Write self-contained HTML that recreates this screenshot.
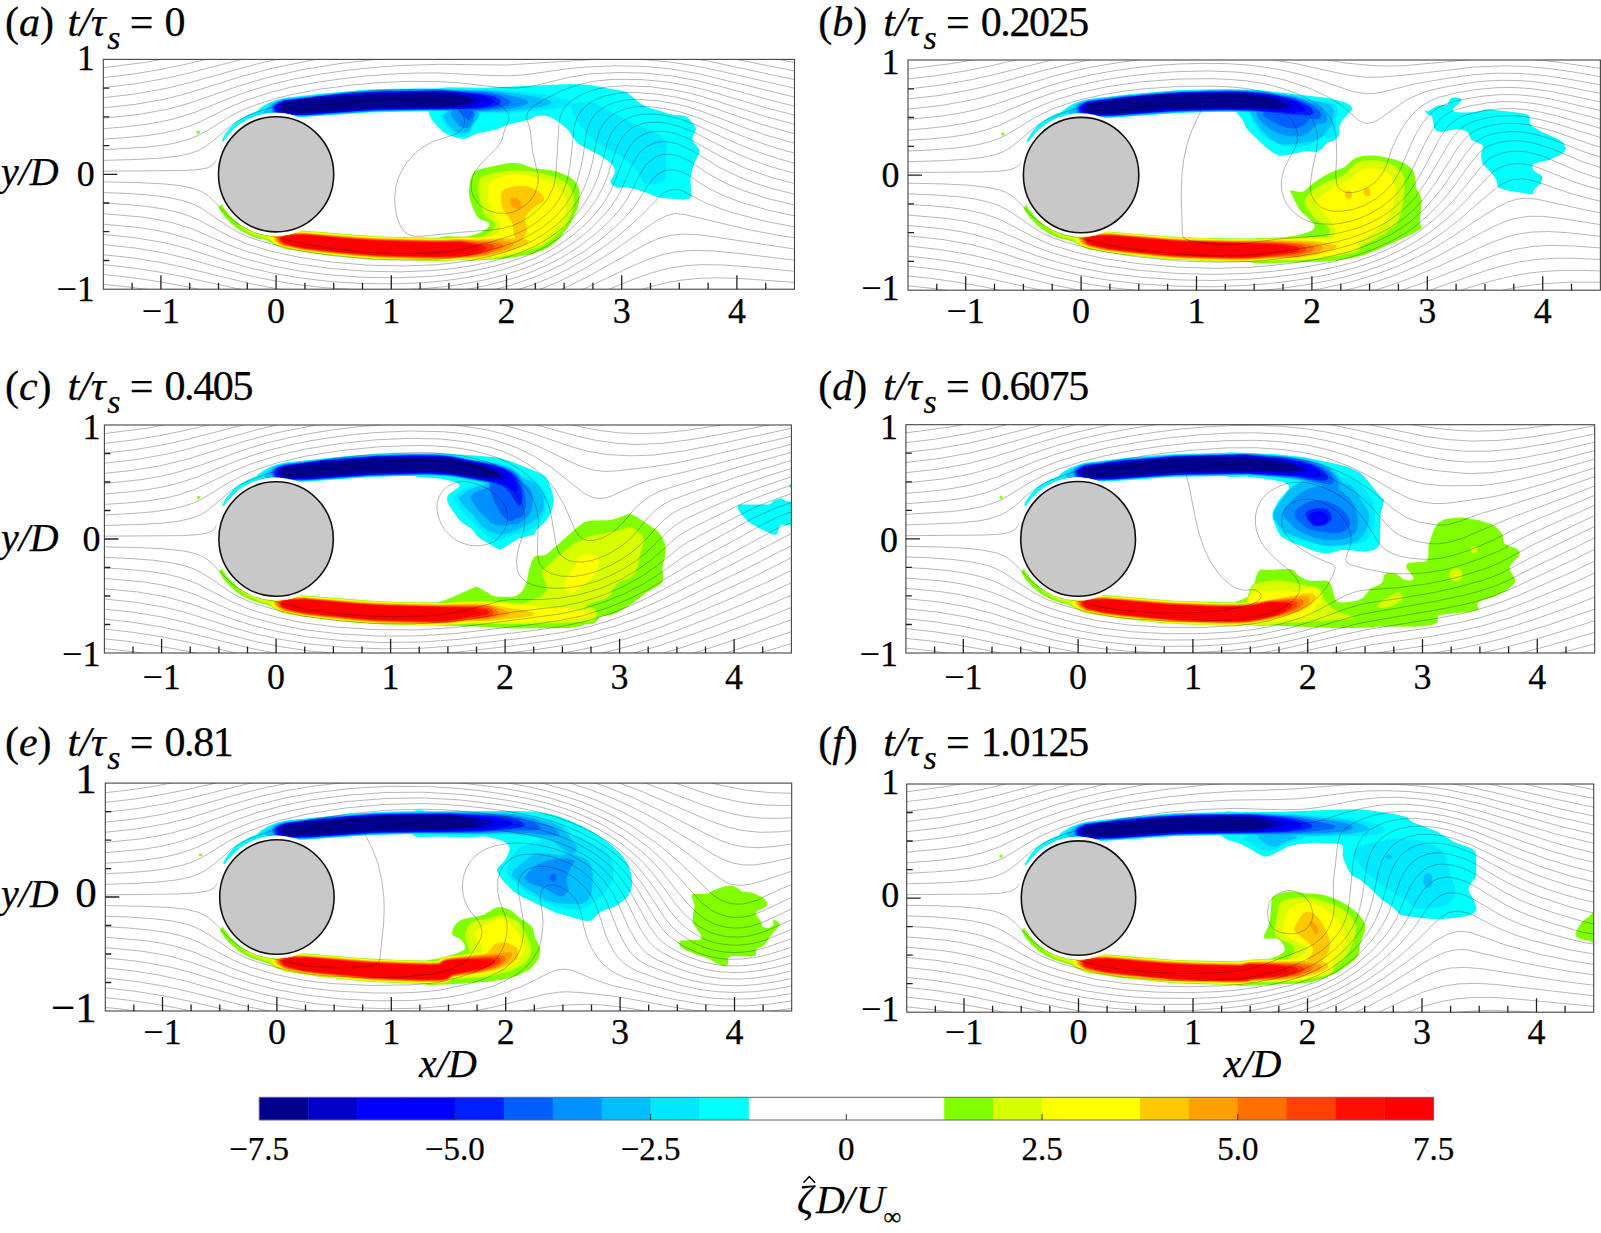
<!DOCTYPE html><html><head><meta charset="utf-8"><style>html,body{margin:0;padding:0;background:#fff;width:1601px;height:1233px;overflow:hidden}</style></head><body><svg width="1601" height="1233" viewBox="0 0 1601 1233" style="position:absolute;left:0;top:0" font-family='"Liberation Serif", serif'>
<style>text{stroke:#000;stroke-width:0.25px}</style>
<rect width="1601" height="1233" fill="#fff"/>
<clipPath id="clipa"><rect x="103.3" y="59.4" width="691.2" height="229.8"/></clipPath>
<g clip-path="url(#clipa)">
<path fill="#00ffff" fill-rule="evenodd" d="M682.3 199.4 661.3 197.9 655.4 196.4 645.3 192.2 635.3 189.1 627.3 187.6 617.3 187.8 614.3 186.5 611.3 183.9 610.4 181.4 614.7 173.4 614.7 169.4 613.4 166.4 610.3 162.6 601.3 156.1 582.9 146.4 577.3 142.8 575.1 140.4 568.6 130.4 560.3 123.1 550.3 117.1 543.3 115.5 536.3 116.1 528.3 119.9 510.3 124.0 496.3 129.4 477.3 133.2 468.3 137.7 464.3 138.8 459.7 138.4 454.3 136.9 446.3 133.8 442.4 131.4 432.3 120.3 430.3 116.9 428.3 111.3 368.6 112.4 300.3 117.2 294.3 116.1 293.3 115.2 291.3 115.2 290.3 114.2 286.3 114.2 285.3 113.2 267.3 112.9 266.3 113.9 262.3 113.9 261.3 114.8 258.3 114.8 257.3 115.8 255.3 115.8 252.3 117.7 250.3 117.8 247.3 119.7 246.3 119.8 241.3 123.7 240.3 123.7 237.3 126.6 236.3 126.7 227.5 135.4 227.4 136.4 223.3 141.6 222.3 141.4 222.2 139.4 224.3 135.4 229.3 128.4 235.3 122.4 239.6 119.4 248.3 114.4 256.3 111.4 262.2 106.4 267.5 103.4 276.3 99.9 285.3 97.8 321.3 93.7 368.3 89.6 393.3 88.7 437.3 88.5 449.3 87.2 484.3 87.7 571.3 84.1 590.3 85.0 624.8 91.4 628.6 93.4 640.3 103.6 646.3 106.8 668.3 113.6 673.3 114.7 683.7 115.4 687.3 117.2 691.5 121.4 695.3 126.5 696.0 128.4 695.5 131.4 693.1 135.4 692.2 139.4 692.9 141.4 698.7 148.4 699.6 150.4 699.6 152.4 694.2 163.4 691.0 174.4 690.3 181.4 691.6 196.4 689.3 198.7 682.3 199.4Z"/>
<path fill="#00e8ff" fill-rule="evenodd" d="M651.3 184.4 645.3 183.9 643.3 182.9 642.0 181.4 639.7 174.4 637.8 171.4 627.3 161.0 619.3 154.9 608.3 149.9 603.3 146.9 596.3 141.7 586.8 133.4 579.8 125.4 576.0 119.4 572.9 113.4 570.8 107.4 571.3 104.4 568.3 106.3 564.2 107.4 541.8 110.4 505.3 113.3 481.3 112.9 480.5 115.4 473.9 124.4 471.3 130.4 469.3 133.4 465.3 135.8 462.3 136.0 458.3 135.8 454.3 133.8 449.7 130.4 445.0 125.4 439.8 116.4 440.3 114.9 443.3 113.9 446.7 111.4 445.3 111.1 404.3 111.0 368.3 112.0 300.3 116.6 294.3 115.9 293.3 115.0 291.3 115.0 290.3 114.1 286.3 114.1 285.3 113.1 267.3 112.7 266.3 113.6 262.3 113.6 261.3 114.5 258.3 114.6 257.3 115.5 255.3 115.5 252.3 117.4 250.3 117.5 246.3 119.5 243.5 121.4 242.3 121.8 241.9 121.4 249.3 116.7 257.3 113.2 262.3 108.4 272.1 102.4 281.3 99.2 322.3 94.1 355.3 91.1 373.3 89.9 405.3 89.1 446.3 88.8 472.3 89.7 488.3 89.1 523.3 92.1 548.3 95.2 567.9 99.4 572.3 102.3 572.4 103.4 585.3 102.0 594.3 103.0 597.3 104.0 613.3 112.9 639.3 125.9 658.3 134.0 664.2 138.4 665.7 140.4 666.8 144.4 665.8 154.4 666.4 169.4 665.7 177.4 663.9 180.4 660.3 182.8 657.3 183.8 651.3 184.4ZM241.3 122.6 241.3 122.1 241.3 122.6Z"/>
<path fill="#00bfff" fill-rule="evenodd" d="M466.3 132.7 457.3 132.5 454.3 130.9 448.8 125.4 443.8 117.4 443.8 114.4 447.8 111.4 446.3 110.6 413.3 110.5 376.3 111.3 308.3 115.9 297.3 116.2 294.3 115.7 293.3 114.9 291.3 114.9 290.3 114.0 286.3 114.0 285.3 113.0 267.3 112.5 266.3 113.3 264.3 112.5 264.0 111.4 265.3 109.4 273.3 102.8 283.3 99.2 325.3 94.3 358.3 91.3 380.3 90.1 441.3 89.4 490.3 90.4 521.6 94.4 539.4 97.4 547.1 99.4 550.9 101.4 551.5 102.4 549.7 104.4 543.6 106.4 524.3 109.4 505.3 111.5 479.3 112.0 478.7 116.4 477.5 118.4 473.1 124.4 469.8 130.4 466.3 132.7Z"/>
<path fill="#0090ff" fill-rule="evenodd" d="M468.3 127.9 463.3 127.9 459.3 125.8 452.9 118.4 451.0 115.4 450.8 112.4 453.3 110.6 455.2 110.4 426.3 110.0 380.3 110.7 308.3 115.6 297.3 115.8 291.3 114.8 290.3 113.9 286.3 113.9 285.3 112.9 272.6 112.4 271.1 108.4 272.0 105.4 273.9 103.4 278.3 101.2 285.0 99.4 348.3 92.6 383.9 90.4 442.3 89.8 487.3 91.5 498.3 92.9 518.9 97.4 525.2 99.4 528.5 101.4 528.7 102.4 526.2 104.4 520.1 106.4 510.6 108.4 496.3 110.3 476.3 110.9 472.8 122.4 470.3 126.3 468.3 127.9Z"/>
<path fill="#0060ff" fill-rule="evenodd" d="M469.3 119.9 467.3 119.9 458.8 111.4 459.6 110.4 455.3 109.8 420.3 109.6 381.3 110.3 360.3 111.2 307.3 115.2 294.3 115.4 293.3 114.7 291.3 114.7 290.3 113.8 286.3 113.8 285.3 112.8 274.3 112.4 272.9 110.4 272.5 108.4 273.4 105.4 275.5 103.4 279.5 101.4 285.3 99.8 343.6 93.4 381.3 90.9 442.3 90.3 483.3 92.4 491.4 93.4 499.6 95.4 508.9 99.4 511.0 101.4 511.1 102.4 509.0 104.4 498.3 108.0 484.3 109.7 473.3 110.0 472.8 110.4 473.2 114.4 472.8 117.4 469.3 119.9Z"/>
<path fill="#0020ff" fill-rule="evenodd" d="M312.3 114.5 294.3 114.9 291.3 114.5 290.3 113.7 286.3 113.7 285.3 112.8 276.0 112.4 274.3 110.4 273.9 107.4 275.3 104.9 278.3 102.7 283.3 100.7 287.3 100.1 318.3 96.3 348.5 93.4 386.3 91.2 442.3 90.8 480.3 93.4 494.6 96.4 498.6 98.4 500.7 101.4 500.0 103.4 497.1 105.4 491.3 107.1 480.3 108.8 381.3 109.8 359.3 110.8 312.3 114.5Z"/>
<path fill="#0000ff" fill-rule="evenodd" d="M306.3 114.4 291.3 114.4 290.3 113.6 286.3 113.6 285.3 112.7 277.9 112.4 275.8 110.4 275.2 107.4 276.2 105.4 279.3 103.0 283.3 101.3 288.5 100.4 342.7 94.4 368.3 92.4 386.3 91.7 437.3 91.2 460.3 92.4 483.6 95.4 491.3 98.4 492.6 99.4 493.5 101.4 492.3 103.3 490.4 104.4 483.3 106.9 476.3 107.8 462.3 108.6 375.3 109.5 306.3 114.4Z"/>
<path fill="#0000ff" fill-rule="evenodd" d="M313.3 113.5 291.3 113.8 286.3 113.5 285.3 112.6 279.9 112.4 277.3 110.4 276.6 107.4 278.7 104.4 282.1 102.4 292.5 100.4 348.2 94.4 380.3 92.4 436.3 91.7 454.3 92.5 480.0 96.4 484.6 98.4 485.6 99.4 486.2 101.4 485.1 103.4 481.4 105.4 466.3 107.5 375.3 109.0 313.3 113.5Z"/>
<path fill="#0000c8" fill-rule="evenodd" d="M306.3 113.4 286.3 113.1 285.3 112.5 282.2 112.4 278.9 110.4 278.0 107.4 280.2 104.4 283.3 102.7 296.8 100.4 342.9 95.4 381.3 92.9 436.3 92.2 451.3 93.0 463.0 94.4 475.6 97.4 480.1 99.4 481.0 101.4 479.2 103.4 476.7 104.4 461.3 106.9 370.3 108.7 306.3 113.4Z"/>
<path fill="#00008c" fill-rule="evenodd" d="M313.3 112.4 304.3 112.9 284.3 112.2 280.7 110.4 279.5 107.4 280.7 105.4 284.3 103.2 305.3 99.8 349.3 95.4 381.3 93.5 432.3 92.8 448.0 93.4 457.3 94.5 466.4 96.4 470.9 98.4 473.5 100.4 473.6 101.4 468.3 104.5 456.3 106.3 375.3 107.9 313.3 112.4Z"/>
<path fill="#80ff00" fill-rule="evenodd" d="M199.3 133.6 198.3 134.0 197.0 133.4 196.5 132.4 197.3 130.8 198.3 130.4 199.9 131.4 200.1 132.4 199.3 133.6ZM480.3 260.5 458.3 260.3 447.3 261.1 431.3 261.1 369.3 259.1 318.3 254.0 285.3 248.9 279.3 247.0 266.3 240.0 258.1 238.4 252.1 236.4 240.2 230.4 232.3 224.4 225.3 217.4 220.3 210.4 219.3 208.5 219.3 206.4 221.2 204.4 222.3 204.4 223.4 207.4 228.5 213.4 228.5 214.4 235.3 221.1 236.3 221.2 240.3 225.1 241.3 225.1 243.3 227.0 244.3 227.1 253.3 232.0 258.3 233.0 259.3 234.0 262.3 234.0 263.3 234.9 267.3 235.0 268.3 235.9 283.3 235.6 284.3 234.6 289.3 234.6 290.3 233.6 293.3 233.6 294.3 232.7 296.3 232.7 299.3 230.9 302.3 230.6 377.6 236.4 437.3 237.8 446.3 236.2 464.3 236.7 471.3 235.6 480.3 232.7 487.0 228.4 488.8 226.4 489.5 224.4 488.3 222.3 480.6 219.4 476.9 216.4 473.3 209.6 469.9 199.4 469.0 195.4 468.8 190.4 470.3 180.4 472.3 174.8 474.3 172.0 476.4 170.4 482.3 168.4 503.3 164.1 510.3 163.0 516.3 163.0 521.3 164.1 534.3 168.6 550.3 169.9 558.3 172.0 568.3 176.2 572.3 178.8 575.3 181.8 578.3 186.9 579.6 192.4 579.3 200.2 577.5 208.4 573.3 218.1 568.3 226.9 561.3 236.3 555.3 242.4 549.3 247.0 544.3 249.8 530.3 254.6 513.3 257.6 480.3 260.5Z"/>
<path fill="#d8ff00" fill-rule="evenodd" d="M448.3 260.4 414.3 260.2 371.3 258.7 321.3 253.8 299.3 250.8 282.3 247.6 274.1 243.4 269.3 239.6 253.2 234.4 247.3 231.4 241.4 227.4 242.3 226.5 253.3 232.3 258.3 233.3 259.3 234.2 262.3 234.3 263.3 235.2 267.3 235.2 268.3 236.2 283.3 235.7 284.3 234.7 289.3 234.7 290.3 233.7 293.3 233.7 294.3 232.8 296.3 232.8 299.3 231.2 302.3 231.1 359.3 235.8 394.3 237.5 441.3 238.4 482.3 236.8 486.3 234.7 491.3 230.9 494.8 226.4 495.0 224.4 494.3 222.0 487.3 217.7 485.3 215.2 482.9 210.4 479.9 200.4 478.1 189.4 478.9 180.4 481.0 177.4 483.3 176.0 493.3 173.0 506.3 170.9 515.3 170.5 529.3 171.1 544.3 173.9 557.3 178.0 565.3 182.1 570.7 187.4 573.6 194.4 573.8 204.4 571.8 212.4 568.5 220.4 565.6 225.4 558.3 233.8 551.3 239.6 541.3 246.3 517.3 254.0 496.3 257.7 478.3 259.9 459.3 259.7 448.3 260.4ZM238.3 224.6 238.3 224.2 238.3 224.6ZM241.3 227.3 239.0 225.4 239.3 225.0 242.1 226.4 241.3 227.3Z"/>
<path fill="#ffff00" fill-rule="evenodd" d="M473.3 259.4 459.3 259.2 440.3 260.1 400.3 259.4 374.3 258.4 341.3 255.5 303.3 251.0 283.3 247.3 273.9 242.4 270.9 239.4 270.2 237.4 270.4 236.4 283.3 235.8 284.3 234.8 289.3 234.8 290.3 233.8 293.3 233.8 294.3 232.9 296.3 232.9 299.3 231.5 365.3 236.6 401.3 238.1 443.3 238.9 458.3 238.1 477.3 238.0 492.3 236.7 495.3 234.9 497.9 232.4 500.8 228.4 500.7 224.4 492.8 211.4 489.8 204.4 487.8 197.4 487.9 186.4 489.3 183.7 493.3 180.0 500.3 176.9 507.3 175.0 515.3 174.1 525.3 174.9 534.3 176.9 548.3 181.9 558.3 188.1 562.5 192.4 565.8 198.4 566.6 202.4 565.6 210.4 563.7 215.4 557.8 225.4 550.3 233.7 543.9 238.4 543.1 241.4 541.3 243.8 530.0 248.4 513.3 253.4 486.3 258.3 473.3 259.4ZM267.3 236.5 266.4 236.4 268.1 236.4 267.3 236.5Z"/>
<path fill="#ffff00" fill-rule="evenodd" d="M449.3 259.4 420.3 259.4 374.3 258.0 317.4 252.4 303.3 250.6 283.3 246.8 275.3 242.4 272.5 239.4 272.0 237.4 272.2 236.4 283.3 235.9 284.3 234.9 289.3 234.9 290.3 233.9 293.3 233.9 294.3 233.0 296.3 233.0 297.3 232.2 299.3 232.0 367.3 237.2 421.3 239.1 477.3 238.8 513.3 236.3 513.6 234.4 512.4 225.4 509.4 219.4 503.7 211.4 500.7 204.4 500.7 193.4 502.0 190.4 505.3 188.1 512.3 185.9 520.3 184.8 524.3 184.9 533.3 187.7 540.3 191.9 542.9 194.4 544.9 198.4 544.8 200.4 541.3 204.0 536.3 206.4 531.3 210.2 527.3 214.6 526.1 216.4 525.9 218.4 526.1 223.4 527.9 229.4 526.9 233.4 526.1 234.4 526.3 235.5 533.3 235.4 538.3 236.1 540.3 238.4 539.3 241.1 533.8 244.4 523.6 248.4 514.6 251.4 501.9 254.4 478.3 258.4 449.3 259.4Z"/>
<path fill="#ffc800" fill-rule="evenodd" d="M455.3 258.4 437.3 259.2 380.3 257.8 358.3 256.3 321.2 252.4 303.3 250.1 283.3 246.2 278.3 243.7 275.5 241.4 274.0 239.4 273.7 237.4 274.1 236.4 283.3 236.0 284.3 235.0 289.3 235.0 290.3 234.0 293.3 234.0 294.3 233.2 296.3 233.2 297.3 232.4 300.3 232.4 365.3 237.5 401.3 239.1 441.3 239.8 458.3 239.1 477.3 239.6 500.3 238.6 515.3 238.6 514.2 235.4 512.7 224.4 510.7 220.4 503.2 209.4 501.2 203.4 501.1 194.4 502.3 191.0 506.3 188.2 514.3 186.2 521.3 185.7 527.3 186.2 533.3 188.4 538.3 191.2 543.3 196.0 544.2 199.4 543.3 201.7 533.3 207.7 526.7 214.4 525.6 216.4 524.8 220.4 526.5 225.4 527.1 229.4 526.3 233.0 523.1 238.4 523.3 238.9 526.5 239.4 528.4 240.4 528.6 241.4 526.6 243.4 521.0 246.4 510.9 250.4 491.3 255.4 476.3 257.8 455.3 258.4Z"/>
<path fill="#ffa000" fill-rule="evenodd" d="M519.3 208.8 516.3 208.9 515.3 207.9 514.3 207.9 510.8 204.4 509.8 201.4 510.3 198.1 517.3 197.9 519.8 200.4 521.7 206.4 519.3 208.8ZM449.3 258.4 420.3 258.5 375.3 257.0 318.3 251.6 303.3 249.7 283.3 245.6 277.9 242.4 276.0 240.4 275.2 238.4 275.9 236.4 283.3 236.1 284.3 235.1 289.3 235.1 290.3 234.2 293.3 234.1 294.3 233.3 297.3 232.9 304.3 232.9 360.3 237.7 387.3 239.1 436.3 240.3 459.3 239.6 477.3 240.6 501.6 240.4 509.7 241.4 513.5 243.4 513.1 245.4 508.8 248.4 500.9 251.4 490.2 254.4 474.3 257.1 449.3 258.4Z"/>
<path fill="#ff7000" fill-rule="evenodd" d="M454.3 257.4 436.3 258.2 380.3 256.7 358.3 255.2 321.3 251.4 303.3 249.2 284.3 245.2 279.3 242.4 277.5 240.4 276.9 238.4 277.9 236.4 283.3 236.2 284.3 235.2 289.3 235.2 290.3 234.3 293.3 234.2 294.3 233.5 304.3 233.4 355.3 237.8 379.3 239.3 437.3 240.8 459.3 240.2 477.3 241.6 491.3 241.9 501.3 243.4 503.3 244.4 503.8 245.4 502.7 247.4 499.3 249.4 484.6 254.4 472.8 256.4 454.3 257.4Z"/>
<path fill="#ff4000" fill-rule="evenodd" d="M447.3 257.4 421.3 257.4 375.3 255.9 318.3 250.5 303.3 248.7 284.1 244.4 279.7 241.4 278.5 238.4 280.0 236.4 283.3 236.3 284.3 235.3 289.3 235.3 290.3 234.4 294.3 234.1 304.3 233.9 359.3 238.7 381.3 240.0 433.3 241.3 462.3 240.9 489.3 243.9 493.3 245.1 494.6 246.4 493.8 248.4 490.8 250.4 480.3 254.0 470.3 255.7 447.3 257.4Z"/>
<path fill="#ff1000" fill-rule="evenodd" d="M452.3 256.4 436.3 257.0 387.3 255.8 364.3 254.6 341.0 252.4 303.3 248.1 290.7 245.4 283.3 243.1 280.6 240.4 280.3 238.4 282.2 236.4 284.6 235.4 304.3 234.5 355.3 239.0 381.3 240.6 433.3 241.9 461.3 241.6 483.2 245.4 485.8 246.4 486.8 247.4 486.7 248.4 484.5 250.4 476.3 253.4 468.3 255.0 452.3 256.4Z"/>
<path fill="#ff0000" fill-rule="evenodd" d="M454.3 255.5 441.3 256.3 414.3 256.0 380.3 254.9 357.7 253.4 303.3 247.5 286.9 243.4 283.3 241.7 282.1 239.4 283.1 237.4 285.3 236.4 305.3 235.1 356.3 239.7 379.3 241.1 433.3 242.6 459.3 242.2 471.9 244.4 476.8 246.4 479.0 248.4 478.7 249.4 476.3 251.4 472.3 253.0 454.3 255.5Z"/>
<path fill="none" stroke="#000" stroke-opacity="0.36" stroke-width="0.8" d="M690.1 292.1 708.1 290.7 725.4 290.3 748.4 290.7 775.2 292.1M633.1 292.1 650.5 286.7 667.8 282.4 682.2 280.0 699.5 278.3 716.7 277.8 736.9 278.3 800.3 282.8M602.2 292.1 633.2 279.3 650.5 273.2 667.8 268.5 685.1 265.7 702.3 264.6 725.4 265.1 751.3 267.1 800.3 271.9M577.4 292.1 630.3 267.0 644.7 260.7 662.0 254.7 676.4 251.7 693.7 250.3 713.9 251.0 736.9 253.2 800.3 260.9M554.9 292.1 572.7 284.1 590.0 275.5 647.6 243.2 659.1 238.3 670.7 235.2 685.1 234.0 702.3 235.1 800.3 249.9M100.4 283.9 132.1 287.4 164.4 292.1M533.1 292.1 558.3 281.9 572.7 274.9 587.1 267.1 611.9 251.9 656.3 220.9 664.9 216.3 670.7 214.4 676.4 213.6 685.1 214.6 748.4 229.6 774.2 234.6 800.3 238.9M100.4 274.2 126.3 276.9 152.3 280.6 178.2 285.1 212.2 292.1M510.6 292.1 532.4 284.9 552.6 276.6 569.9 268.1 590.0 256.2 604.9 246.1 619.9 234.6 639.3 217.4 662.0 194.4 666.5 191.5 670.7 189.9 676.4 189.4 682.2 190.6 699.5 199.9 708.1 203.9 720.8 208.8 736.9 213.9 765.7 221.3 800.3 228.0M100.4 264.3 132.1 267.8 160.9 272.3 183.9 276.9 252.9 292.1M484.6 292.1 512.3 284.9 538.2 275.7 561.2 265.0 584.3 251.3 603.1 237.5 613.2 228.9 622.2 220.3 630.1 211.6 636.9 203.0 647.6 185.9 653.4 178.2 659.1 173.3 664.9 170.6 673.5 169.8 682.2 171.9 687.9 174.8 699.7 182.9 711.0 189.6 725.4 196.4 739.8 201.9 768.6 210.3 800.3 217.1M100.4 254.4 132.1 257.8 160.9 262.5 183.9 267.4 250.2 283.6 276.1 288.6 300.4 292.1M449.1 292.1 469.1 289.0 486.3 285.5 503.6 281.1 518.0 276.7 532.4 271.5 546.8 265.3 561.2 257.8 572.7 250.8 583.7 243.2 594.7 234.6 604.4 226.0 612.9 217.4 620.2 208.8 626.4 200.2 631.3 191.5 639.0 175.9 644.7 166.6 648.0 162.8 653.4 158.3 656.3 156.7 662.0 154.7 670.7 154.3 676.4 155.4 682.2 157.3 690.8 161.9 705.2 171.7 716.7 178.6 728.3 184.4 742.7 190.4 768.6 198.8 800.3 206.3M100.4 244.3 135.0 248.0 163.8 252.9 186.8 258.4 230.0 270.6 250.2 275.8 273.2 280.6 296.3 284.4 325.1 287.7 356.7 289.7 388.4 290.1 420.1 288.9 443.1 286.8 463.3 284.0 483.5 280.1 500.7 275.9 518.0 270.6 532.4 265.3 546.8 258.7 561.2 250.7 572.6 243.2 583.8 234.6 593.6 226.0 604.6 214.5 611.5 205.9 617.2 197.3 620.3 191.5 633.2 162.8 638.6 154.2 641.9 150.5 647.6 145.9 656.3 142.4 662.0 141.7 667.8 141.9 673.5 142.8 679.3 144.5 693.3 151.3 719.6 167.5 739.8 177.2 754.2 182.9 768.6 187.6 800.3 195.7M100.4 234.1 135.0 237.7 163.8 242.6 186.8 248.4 230.0 262.3 250.2 268.0 273.2 273.3 299.1 277.8 330.8 281.6 362.5 283.5 394.2 283.9 425.9 282.5 446.0 280.6 466.2 277.7 486.3 273.7 503.6 269.3 520.9 263.8 535.3 258.0 549.7 250.8 561.9 243.2 573.6 234.6 583.5 226.0 592.0 217.4 599.3 208.8 605.4 200.2 610.4 191.5 615.4 180.0 624.6 156.1 630.3 145.7 635.5 139.8 639.0 137.1 644.7 133.9 650.5 132.1 656.3 131.3 664.9 131.5 673.5 133.1 679.3 134.9 690.8 139.8 722.5 157.5 745.5 168.3 771.5 177.5 800.3 185.2M100.4 223.9 137.9 227.4 155.1 230.1 169.5 233.2 189.7 239.0 230.0 253.8 247.3 259.5 273.2 266.0 299.1 271.0 330.8 275.0 365.4 277.4 397.1 277.8 428.7 276.5 448.9 274.6 469.1 271.6 489.2 267.5 506.5 262.8 520.9 258.1 535.3 252.0 546.8 246.0 560.0 237.5 570.8 228.9 582.5 217.4 589.7 208.8 597.6 197.3 602.3 188.7 607.2 177.2 616.4 148.4 619.0 142.7 622.6 137.0 627.5 131.5 631.6 128.3 636.1 125.9 641.9 123.8 650.5 122.3 659.1 122.2 667.8 123.4 679.3 126.4 691.7 131.2 728.3 149.7 748.4 158.6 771.5 166.9 800.3 174.8M100.4 213.5 140.7 216.9 158.0 219.6 172.4 222.7 192.6 229.1 230.0 245.3 247.3 251.7 273.2 258.8 299.1 264.1 330.8 268.5 365.4 271.2 399.9 271.9 431.6 270.6 451.8 268.7 471.9 265.6 489.2 262.0 506.5 257.3 522.2 251.9 535.0 246.1 546.8 239.4 557.8 231.8 567.9 223.1 576.0 214.5 582.8 205.9 590.0 194.4 594.3 185.8 597.9 177.2 601.5 165.7 607.2 142.7 609.5 137.0 612.6 131.2 617.3 125.5 621.7 121.7 627.5 118.4 633.2 116.2 641.9 114.4 653.4 114.0 664.9 115.4 679.3 118.8 693.7 123.8 734.0 142.3 754.2 150.6 777.2 158.4 800.3 164.7M100.4 203.0 126.3 204.5 146.5 206.4 163.8 209.0 178.2 212.4 189.7 216.2 198.3 219.9 230.0 236.6 247.3 244.1 270.3 250.9 299.1 257.3 330.8 262.0 368.3 265.2 402.8 266.0 434.5 264.8 451.8 263.2 471.9 260.2 489.2 256.5 505.7 251.9 520.9 246.4 532.4 241.0 543.9 234.2 555.1 226.0 564.4 217.4 571.9 208.8 577.8 200.2 582.4 191.5 586.1 182.9 590.1 171.4 593.0 159.9 596.6 139.8 599.4 131.2 602.3 125.5 606.7 119.7 610.2 116.5 615.9 112.7 624.6 109.0 636.1 106.7 647.6 106.5 662.0 108.1 679.3 111.6 699.5 118.3 739.8 135.1 757.1 141.7 777.2 148.4 800.3 154.7M100.4 192.4 129.2 193.6 152.3 195.3 169.5 197.6 183.9 200.9 192.6 203.9 201.2 208.1 230.0 227.6 238.7 232.5 247.3 236.6 261.7 241.4 284.7 247.4 299.1 250.6 330.8 255.5 368.3 259.1 402.8 260.2 437.4 259.1 452.6 257.6 470.6 254.7 483.5 251.9 503.7 246.1 518.0 240.9 529.5 235.3 541.1 228.2 551.4 220.3 558.3 213.6 564.8 205.9 570.3 197.3 574.5 188.7 577.5 180.0 580.6 168.6 583.0 157.1 586.1 134.1 587.5 128.3 590.0 122.1 593.2 116.9 598.7 111.0 607.3 105.4 614.5 102.5 627.5 99.7 639.0 99.3 659.1 101.0 676.4 104.0 687.9 106.9 701.0 111.1 745.5 128.0 765.7 135.1 800.3 144.9M100.4 181.8 137.9 182.6 163.8 183.9 181.1 185.8 194.3 188.7 201.2 191.3 207.0 194.8 212.7 199.8 229.6 217.4 235.8 222.2 247.0 228.9 258.8 233.7 273.2 236.5 300.9 243.2 335.7 249.0 368.3 252.4 402.8 253.7 434.5 252.9 446.5 251.9 464.0 249.0 486.5 243.2 506.5 237.3 518.0 233.1 526.7 228.8 538.2 221.2 546.3 214.5 552.6 208.1 558.6 200.2 561.9 194.4 565.5 185.8 567.9 177.2 570.4 162.8 574.1 128.3 575.4 122.6 577.5 116.9 581.0 111.1 587.1 104.9 595.6 99.6 604.4 96.1 618.8 93.0 633.2 92.4 656.3 94.0 676.4 97.2 699.5 103.1 762.8 124.8 800.3 135.3M100.4 171.2 183.9 170.5 198.3 169.6 207.0 168.0 211.9 165.7 214.9 162.8 224.8 145.6 229.5 139.8 231.0 137.0 236.4 131.2 241.5 126.9 244.4 126.0 247.3 124.0 250.2 123.1 258.8 118.5 270.3 117.4 276.1 115.2 281.9 115.6 287.6 114.8 296.3 113.0 312.7 108.2 326.8 105.4 346.1 102.5 362.5 100.8 382.7 99.4 408.6 99.0 431.3 99.6 443.1 101.4 447.9 102.5 454.6 105.4 458.2 108.2 460.7 111.1 463.3 115.9 464.5 119.7 464.7 122.6 463.3 127.3 460.4 131.0 457.5 133.1 451.8 135.6 437.9 139.8 430.8 142.7 421.0 148.4 414.1 154.2 406.6 162.8 401.3 171.4 397.7 180.0 395.6 188.7 394.7 197.3 395.3 208.8 397.1 217.4 400.4 226.0 404.5 231.8 408.6 234.7 414.3 236.2 423.0 236.1 463.3 232.0 492.1 230.0 503.6 228.1 512.3 225.7 520.9 222.1 528.7 217.4 536.1 211.6 543.9 203.6 548.5 197.3 552.6 189.0 554.5 182.9 555.9 174.3 559.1 122.6 560.1 116.9 562.4 111.1 566.4 105.4 572.9 99.6 582.8 93.9 592.9 90.1 607.3 86.9 624.6 85.7 650.5 86.8 673.5 89.8 687.9 92.8 702.3 96.5 765.7 116.6 800.3 125.9M100.4 160.5 137.9 159.4 160.9 158.1 178.2 156.1 189.7 153.6 198.3 150.5 204.1 147.4 212.7 141.1 231.0 125.5 238.7 120.4 245.5 116.9 255.9 112.4 278.1 105.4 302.0 99.6 339.5 93.9 376.9 90.3 420.1 89.2 437.4 89.7 452.9 91.0 469.4 93.9 480.4 96.7 488.6 99.6 500.0 105.4 504.0 108.2 506.7 111.1 508.3 114.0 509.0 116.9 508.8 119.7 504.2 131.2 502.0 139.8 500.5 142.7 496.2 148.4 480.6 164.2 475.0 171.4 472.4 177.2 471.0 185.8 471.6 191.5 473.7 197.3 477.6 203.0 480.6 205.9 486.3 209.6 492.1 211.9 497.9 213.2 506.5 213.4 512.3 212.3 518.0 210.0 526.7 204.0 530.5 200.2 534.5 194.4 537.6 185.8 538.4 180.0 538.1 174.3 533.0 154.2 530.0 128.3 527.0 119.7 526.6 116.9 527.1 114.0 528.7 111.1 531.3 108.2 534.8 105.4 543.9 99.6 561.1 91.0 575.6 85.5 592.9 81.4 613.1 79.3 641.9 79.6 667.8 82.1 685.1 85.1 702.3 89.1 768.6 108.5 800.3 116.6M100.4 149.9 149.4 146.9 166.7 144.7 178.2 142.3 189.7 138.9 198.3 135.4 207.0 130.7 229.3 116.9 241.5 110.6 255.9 104.8 273.2 99.2 293.4 94.1 319.3 89.3 351.0 85.1 379.8 82.6 411.5 81.3 440.3 81.6 460.4 83.0 497.9 87.3 515.1 88.0 523.8 87.4 532.4 86.1 569.9 77.2 590.0 73.9 618.8 72.5 644.7 73.1 670.7 75.8 696.6 80.5 719.6 86.2 774.3 101.2 800.3 107.5M100.4 139.4 126.3 137.6 146.5 135.6 163.8 132.9 178.2 129.6 189.7 126.0 198.3 122.5 230.0 107.1 247.3 99.9 270.3 92.4 290.5 87.3 313.5 82.9 339.5 79.0 365.4 76.0 391.3 74.1 414.3 73.1 437.4 72.9 492.1 75.6 509.4 75.8 526.7 74.6 567.0 68.8 584.3 67.1 615.9 65.8 644.7 66.4 670.7 68.9 698.7 73.8 800.3 98.5M100.4 128.9 123.5 127.0 143.6 124.7 160.9 121.8 175.3 118.5 195.5 112.1 230.0 98.0 249.2 91.0 270.3 84.7 293.4 79.1 319.3 74.3 345.2 70.5 371.1 67.7 399.9 65.5 440.3 64.3 506.5 65.0 595.8 59.4 621.7 59.0 644.7 59.7 670.7 62.1 699.5 66.7 722.5 71.6 800.3 89.6M100.4 118.5 137.9 114.6 166.7 109.4 189.7 103.1 238.7 86.0 267.5 77.5 302.0 69.7 339.5 63.6 376.9 59.2 417.2 56.5 446.0 55.7 509.4 55.6 563.7 53.7M655.4 53.7 679.3 56.3 705.2 60.5 800.3 80.9M100.4 108.2 135.0 104.4 163.8 99.3 186.8 93.5 241.5 76.5 273.2 68.0 313.5 59.9 356.2 53.7M708.2 53.7 800.3 72.2M100.4 98.0 135.0 94.0 166.7 88.3 189.7 82.6 255.9 64.2 279.0 58.8 304.8 53.7M748.7 53.7 800.3 63.6M100.4 88.0 135.0 83.8 166.7 78.2 189.7 72.9 238.7 60.2 265.8 53.7M792.5 53.7 800.3 55.0M100.4 78.0 132.1 74.2 160.9 69.4 186.8 64.0 230.3 53.7M100.4 68.1 146.5 62.2 191.4 53.7M100.4 58.4 138.6 53.7"/>
<circle cx="276.1" cy="174.3" r="61.6" fill="#fff"/>
<circle cx="276.1" cy="174.3" r="57.6" fill="#c8c8c8" stroke="#111" stroke-width="1.6"/>
</g>
<rect x="103.3" y="59.4" width="691.2" height="229.8" fill="none" stroke="#444" stroke-width="1.1"/>
<path d="M132.1 289.2V282.7M160.9 289.2V275.2M189.7 289.2V282.7M218.5 289.2V282.7M247.3 289.2V282.7M276.1 289.2V275.2M304.9 289.2V282.7M333.7 289.2V282.7M362.5 289.2V282.7M391.3 289.2V275.2M420.1 289.2V282.7M448.9 289.2V282.7M477.7 289.2V282.7M506.5 289.2V275.2M535.3 289.2V282.7M564.1 289.2V282.7M592.9 289.2V282.7M621.7 289.2V275.2M650.5 289.2V282.7M679.3 289.2V282.7M708.1 289.2V282.7M736.9 289.2V275.2M765.7 289.2V282.7M103.3 260.5H109.3M103.3 231.7H109.3M103.3 203.0H109.3M103.3 174.3H117.3M103.3 145.6H109.3M103.3 116.8H109.3M103.3 88.1H109.3" stroke="#222" stroke-width="1.3" fill="none"/>
<text x="160.9" y="323.2" font-size="36" text-anchor="middle">−1</text>
<text x="276.1" y="323.2" font-size="36" text-anchor="middle">0</text>
<text x="391.3" y="323.2" font-size="36" text-anchor="middle">1</text>
<text x="506.5" y="323.2" font-size="36" text-anchor="middle">2</text>
<text x="621.7" y="323.2" font-size="36" text-anchor="middle">3</text>
<text x="736.9" y="323.2" font-size="36" text-anchor="middle">4</text>
<text x="94.8" y="69.9" font-size="36" text-anchor="end">1</text>
<text x="94.8" y="185.5" font-size="36" text-anchor="end">0</text>
<text x="94.8" y="300.7" font-size="36" text-anchor="end">−1</text>
<text x="1" y="185.0" font-size="40" font-style="italic">y/D</text>
<text x="4.9" y="36.2" font-size="42">(<tspan font-style="italic">a</tspan>)</text>
<text x="67.5" y="36.2" font-size="42" font-style="italic">t/τ</text>
<text x="107.2" y="49.2" font-size="34" font-style="italic">s</text>
<text x="129.7" y="36.2" font-size="42">=</text>
<text x="164.5" y="36.2" font-size="42" letter-spacing="-1.4">0</text>
<clipPath id="clipb"><rect x="908.0" y="60.0" width="692.4" height="230.2"/></clipPath>
<g clip-path="url(#clipb)">
<path fill="#00ffff" fill-rule="evenodd" d="M1288.0 155.1 1282.0 155.6 1278.0 155.2 1273.4 153.0 1265.4 147.0 1248.0 130.3 1246.0 127.5 1243.3 121.0 1241.2 118.0 1236.0 112.0 1235.0 111.9 1210.0 112.0 1178.0 113.0 1116.0 117.6 1105.0 117.9 1099.0 116.7 1098.0 115.8 1096.0 115.8 1095.0 114.8 1090.0 114.8 1089.0 113.8 1073.0 113.5 1072.0 114.5 1067.0 114.5 1066.0 115.4 1064.0 115.4 1063.0 116.4 1058.0 117.4 1049.0 122.3 1048.0 122.4 1040.0 129.2 1039.0 129.3 1035.2 133.0 1035.2 134.0 1031.2 138.0 1031.1 139.0 1028.0 142.3 1027.2 142.0 1026.9 141.0 1027.0 140.0 1032.0 132.0 1038.0 125.0 1047.9 118.0 1055.9 114.0 1061.0 112.2 1066.1 108.0 1073.0 103.9 1079.0 101.5 1087.0 99.2 1127.0 94.4 1176.0 90.3 1211.0 89.2 1248.0 89.4 1263.0 90.5 1328.0 97.9 1343.0 101.8 1348.0 103.8 1351.1 106.0 1352.2 108.0 1352.0 109.7 1342.7 120.0 1339.6 125.0 1339.1 127.0 1339.0 135.0 1338.0 137.0 1335.1 140.0 1331.0 141.9 1328.0 142.1 1321.7 149.0 1317.0 152.0 1306.0 151.1 1288.0 155.1ZM1533.0 194.5 1506.0 190.2 1499.2 188.0 1497.6 186.0 1496.2 180.0 1495.2 178.0 1490.6 172.0 1482.7 164.0 1481.7 161.0 1481.0 155.0 1481.3 152.0 1483.3 147.0 1482.3 145.0 1471.9 140.0 1470.8 139.0 1468.4 133.0 1465.0 130.8 1461.0 129.6 1456.0 129.2 1441.1 132.0 1436.7 131.0 1434.0 128.0 1433.2 121.0 1432.0 117.0 1431.0 115.8 1427.3 114.0 1424.5 111.0 1425.0 110.6 1428.0 111.2 1437.0 105.7 1447.0 104.4 1448.4 103.0 1450.0 98.8 1452.0 97.7 1456.0 97.2 1461.0 98.8 1461.7 100.0 1459.0 103.5 1453.6 108.0 1452.7 110.0 1453.2 111.0 1455.0 111.9 1461.0 112.4 1472.0 112.3 1479.0 111.3 1485.0 109.6 1490.0 109.4 1521.2 113.0 1528.6 115.0 1529.8 117.0 1529.6 123.0 1532.0 125.9 1541.0 131.4 1559.0 139.5 1564.0 143.8 1565.7 148.0 1565.5 150.0 1564.3 152.0 1558.3 156.0 1549.0 160.0 1536.0 163.0 1532.6 165.0 1532.1 167.0 1533.4 170.0 1536.0 172.3 1541.0 175.0 1542.0 176.0 1542.5 178.0 1541.0 182.9 1533.8 190.0 1533.3 192.0 1533.7 194.0 1533.0 194.5Z"/>
<path fill="#00e8ff" fill-rule="evenodd" d="M1299.0 147.1 1291.0 147.3 1285.0 146.4 1276.0 143.3 1267.0 138.4 1263.0 135.5 1257.6 130.0 1252.9 122.0 1249.4 113.0 1248.1 112.0 1218.0 111.5 1178.0 112.6 1105.0 117.4 1099.0 116.5 1098.0 115.6 1096.0 115.6 1095.0 114.7 1090.0 114.7 1089.0 113.7 1073.0 113.3 1072.0 114.3 1067.0 114.2 1066.0 115.1 1064.0 115.2 1063.0 116.1 1058.0 117.1 1049.0 121.7 1048.3 121.0 1054.9 117.0 1063.0 113.5 1067.6 109.0 1077.5 103.0 1088.0 99.6 1130.0 94.7 1179.0 90.7 1231.0 89.5 1260.0 90.8 1298.0 95.8 1314.0 100.2 1320.0 100.6 1329.0 102.6 1334.0 104.6 1337.0 106.7 1338.2 110.0 1337.4 114.0 1335.7 118.0 1336.2 126.0 1334.8 129.0 1334.9 133.0 1333.0 136.0 1329.0 137.6 1327.0 137.4 1324.0 135.9 1312.0 144.2 1305.0 146.3 1299.0 147.1ZM1048.0 122.0 1047.0 122.0 1048.0 121.4 1048.6 122.0 1048.0 122.0ZM1046.0 123.3 1046.0 122.8 1046.6 123.0 1046.0 123.3Z"/>
<path fill="#00bfff" fill-rule="evenodd" d="M1293.0 144.3 1282.0 144.5 1276.0 142.4 1270.0 138.5 1259.6 128.0 1254.6 121.0 1250.5 113.0 1249.0 111.6 1225.0 111.0 1186.0 111.9 1112.0 116.8 1102.0 117.0 1101.0 116.4 1099.0 116.4 1098.0 115.5 1096.0 115.5 1095.0 114.6 1090.0 114.6 1089.0 113.6 1073.0 113.1 1072.0 114.0 1070.6 114.0 1069.0 113.0 1069.0 112.0 1070.5 110.0 1075.0 106.8 1077.6 104.0 1082.0 101.8 1089.0 99.9 1126.0 95.5 1163.0 92.1 1211.0 90.2 1247.0 90.4 1273.7 93.0 1294.1 96.0 1313.0 101.3 1324.0 102.6 1329.0 104.5 1332.0 107.2 1333.5 109.0 1334.4 112.0 1332.9 118.0 1332.0 125.0 1330.0 128.0 1328.0 129.0 1326.3 132.0 1322.9 136.0 1318.0 139.4 1312.0 141.5 1293.0 144.3Z"/>
<path fill="#0090ff" fill-rule="evenodd" d="M1298.0 136.2 1291.0 136.5 1284.0 135.3 1283.0 134.6 1278.0 133.4 1272.0 130.5 1264.0 124.4 1260.6 121.0 1256.6 115.0 1257.0 111.9 1231.0 110.6 1193.0 111.2 1165.0 112.5 1112.0 116.4 1102.0 116.6 1096.0 115.4 1095.0 114.5 1090.0 114.5 1089.0 113.5 1077.5 113.0 1076.4 111.0 1076.3 108.0 1077.1 106.0 1079.2 104.0 1083.3 102.0 1089.0 100.4 1125.3 96.0 1158.0 92.9 1185.0 91.3 1225.0 90.4 1248.0 90.8 1266.0 92.5 1293.0 96.7 1305.0 100.1 1317.0 105.2 1321.0 108.0 1324.8 112.0 1327.2 117.0 1327.1 120.0 1326.0 122.0 1323.0 123.5 1317.0 123.7 1311.0 130.5 1307.0 133.5 1303.0 135.3 1298.0 136.2Z"/>
<path fill="#0060ff" fill-rule="evenodd" d="M1297.0 128.5 1290.0 128.4 1280.0 125.5 1265.0 117.4 1262.5 115.0 1262.5 114.0 1263.8 113.0 1263.2 112.0 1256.0 111.3 1231.0 110.2 1193.0 110.8 1164.0 112.1 1112.0 116.0 1102.0 116.2 1099.0 116.1 1098.0 115.3 1096.0 115.3 1095.0 114.4 1090.0 114.4 1089.0 113.4 1079.1 113.0 1077.9 111.0 1077.5 109.0 1078.6 106.0 1080.8 104.0 1088.0 101.0 1129.4 96.0 1163.0 93.0 1192.0 91.5 1231.0 90.8 1256.9 92.0 1272.1 94.0 1295.0 98.2 1310.1 104.0 1315.2 107.0 1318.6 110.0 1321.0 114.0 1321.1 116.0 1320.0 118.0 1317.0 119.2 1310.0 118.8 1306.0 123.3 1302.0 126.3 1297.0 128.5Z"/>
<path fill="#0020ff" fill-rule="evenodd" d="M1311.0 115.1 1306.0 115.4 1291.0 114.3 1251.0 110.3 1225.0 109.7 1175.0 111.0 1112.0 115.6 1099.0 115.7 1096.0 115.2 1095.0 114.3 1090.0 114.3 1089.0 113.4 1080.8 113.0 1079.2 111.0 1078.8 109.0 1079.3 107.0 1080.9 105.0 1088.0 101.6 1124.0 97.0 1180.0 92.4 1218.0 91.4 1242.0 91.5 1268.0 94.0 1289.5 98.0 1296.0 99.8 1306.9 105.0 1312.0 108.8 1313.5 111.0 1313.7 113.0 1313.0 114.1 1311.0 115.1Z"/>
<path fill="#0000ff" fill-rule="evenodd" d="M1114.0 115.1 1096.0 115.0 1095.0 114.2 1090.0 114.2 1089.0 113.3 1082.5 113.0 1080.7 111.0 1080.3 108.0 1082.4 105.0 1088.7 102.0 1126.0 97.3 1177.0 93.0 1231.0 91.8 1243.2 92.0 1258.0 93.2 1270.0 95.0 1288.7 99.0 1294.9 101.0 1298.7 103.0 1303.7 107.0 1305.1 110.0 1304.4 111.0 1302.0 111.8 1293.0 112.9 1246.0 109.6 1201.0 109.6 1170.0 110.8 1114.0 115.1Z"/>
<path fill="#0000ff" fill-rule="evenodd" d="M1121.0 114.0 1107.0 114.8 1090.0 114.1 1089.0 113.2 1084.5 113.0 1083.0 112.0 1081.7 110.0 1081.7 108.0 1083.9 105.0 1089.0 102.6 1123.4 98.0 1174.0 93.7 1225.0 92.3 1248.0 92.8 1271.1 96.0 1290.5 101.0 1295.9 104.0 1297.9 107.0 1297.3 109.0 1295.9 110.0 1290.0 111.2 1276.0 111.0 1247.0 109.1 1212.0 108.9 1170.0 110.3 1121.0 114.0Z"/>
<path fill="#0000c8" fill-rule="evenodd" d="M1115.0 114.0 1090.0 113.9 1089.0 113.1 1086.7 113.0 1084.8 112.0 1083.2 110.0 1083.1 108.0 1085.5 105.0 1089.0 103.3 1111.0 99.9 1169.0 94.5 1218.0 92.9 1242.2 93.0 1262.0 95.1 1275.5 98.0 1285.2 101.0 1289.9 103.0 1292.8 106.0 1292.7 107.0 1291.0 108.5 1285.0 109.6 1274.0 109.9 1236.0 108.3 1205.0 108.5 1170.0 109.8 1115.0 114.0Z"/>
<path fill="#00008c" fill-rule="evenodd" d="M1120.0 113.1 1111.0 113.7 1090.0 113.1 1085.5 111.0 1084.8 110.0 1084.6 108.0 1085.9 106.0 1089.2 104.0 1110.0 100.6 1124.1 99.0 1170.2 95.0 1218.0 93.4 1243.0 93.6 1262.0 95.9 1277.6 100.0 1283.9 103.0 1286.2 105.0 1286.2 106.0 1284.8 107.0 1275.0 108.6 1231.0 107.6 1198.0 108.1 1165.0 109.5 1120.0 113.1Z"/>
<path fill="#80ff00" fill-rule="evenodd" d="M1004.0 135.3 1002.0 135.5 1001.0 134.0 1001.5 133.0 1003.0 132.3 1004.0 132.8 1004.6 134.0 1004.0 135.3ZM1276.0 263.1 1260.0 263.5 1254.0 263.0 1250.0 261.9 1213.0 261.5 1170.0 259.6 1122.0 254.6 1089.0 249.5 1082.0 246.6 1073.0 241.5 1058.9 238.0 1048.0 233.0 1038.0 226.0 1030.0 218.0 1025.0 211.0 1024.0 208.0 1025.0 206.0 1027.0 205.0 1028.1 208.0 1033.2 214.0 1033.2 215.0 1041.0 222.7 1042.0 222.7 1045.0 225.7 1046.0 225.7 1051.0 229.6 1052.0 229.6 1055.0 231.6 1057.0 231.6 1060.0 233.6 1062.0 233.6 1063.0 234.6 1066.0 234.6 1067.0 235.5 1070.0 235.6 1071.0 236.5 1091.0 236.2 1092.0 235.2 1096.0 235.2 1097.0 234.2 1099.0 234.2 1100.0 233.3 1102.0 233.3 1103.0 232.4 1108.0 231.4 1162.5 236.0 1202.9 238.0 1247.0 238.6 1284.0 237.2 1296.0 235.4 1307.0 232.5 1312.0 230.4 1314.0 228.6 1314.7 227.0 1314.5 225.0 1313.4 223.0 1302.0 212.5 1299.0 209.0 1290.8 193.0 1290.0 189.9 1300.0 192.2 1304.0 191.3 1314.0 182.5 1324.0 175.9 1331.6 172.0 1344.0 167.5 1353.0 159.4 1355.6 158.0 1363.0 156.0 1369.0 155.5 1378.0 155.8 1396.0 159.7 1403.0 162.5 1407.0 164.9 1410.8 168.0 1413.3 171.0 1415.0 175.7 1415.9 187.0 1421.0 197.0 1421.7 200.0 1419.7 223.0 1421.9 227.0 1421.8 228.0 1419.5 230.0 1407.0 236.4 1374.8 251.0 1364.1 255.0 1356.0 257.2 1340.0 260.1 1327.0 261.5 1276.0 263.1Z"/>
<path fill="#d8ff00" fill-rule="evenodd" d="M1260.0 261.1 1225.0 261.2 1175.0 259.4 1151.0 257.3 1108.0 252.2 1087.0 248.2 1080.4 245.0 1073.0 239.8 1063.0 237.1 1055.4 234.0 1044.7 227.0 1045.0 226.4 1046.0 226.7 1051.0 229.9 1052.0 230.0 1055.0 231.9 1057.0 232.0 1060.0 233.9 1062.0 233.9 1063.0 234.8 1066.0 234.9 1067.0 235.8 1070.0 235.9 1071.0 236.8 1091.0 236.3 1092.0 235.3 1096.0 235.3 1097.0 234.3 1099.0 234.3 1100.0 233.4 1102.0 233.4 1103.0 232.5 1106.0 231.9 1175.0 237.3 1226.0 239.0 1255.0 239.1 1327.0 236.8 1329.3 234.0 1329.4 228.0 1327.0 225.8 1320.0 222.5 1315.0 218.4 1310.5 213.0 1305.7 205.0 1304.7 201.0 1305.6 198.0 1310.0 192.8 1318.0 186.7 1325.0 182.5 1337.0 178.4 1344.0 175.2 1356.0 163.6 1360.0 161.6 1364.0 160.6 1378.0 160.5 1387.0 162.6 1397.0 167.5 1402.5 173.0 1404.4 179.0 1404.4 192.0 1401.3 212.0 1398.3 221.0 1395.0 225.4 1386.0 232.4 1373.0 240.3 1361.0 246.0 1359.7 249.0 1357.0 251.5 1350.0 253.6 1337.0 256.1 1315.0 259.2 1298.0 260.5 1279.0 260.3 1260.0 261.1ZM1044.0 226.4 1043.6 226.0 1044.0 225.6 1044.7 226.0 1044.0 226.4Z"/>
<path fill="#ffff00" fill-rule="evenodd" d="M1269.0 260.0 1242.0 260.9 1191.0 259.7 1164.0 258.1 1126.0 254.1 1108.0 251.7 1088.0 248.1 1081.7 245.0 1077.5 242.0 1075.8 240.0 1075.4 237.0 1091.0 236.4 1092.0 235.4 1096.0 235.4 1097.0 234.4 1099.0 234.4 1100.0 233.5 1106.0 232.3 1170.0 237.4 1212.0 239.1 1251.0 239.7 1333.0 238.4 1335.5 233.0 1335.2 228.0 1331.5 222.0 1324.2 213.0 1317.5 206.0 1316.5 203.0 1317.5 200.0 1323.0 194.5 1327.0 191.5 1335.0 186.7 1347.0 181.5 1359.0 171.5 1362.0 169.8 1367.0 168.5 1376.0 168.5 1381.0 169.5 1388.0 172.8 1391.2 176.0 1394.5 183.0 1395.4 192.0 1393.4 204.0 1389.4 215.0 1385.5 221.0 1374.0 232.4 1366.0 237.4 1357.5 241.0 1358.4 244.0 1358.2 246.0 1356.0 249.0 1343.1 253.0 1315.1 258.0 1297.0 259.7 1279.0 259.5 1269.0 260.0Z"/>
<path fill="#ffff00" fill-rule="evenodd" d="M1367.0 197.2 1365.0 196.6 1363.3 194.0 1363.3 190.0 1366.0 187.3 1369.0 187.5 1370.5 189.0 1371.4 192.0 1370.6 195.0 1369.0 196.7 1367.0 197.2ZM1349.0 200.5 1346.0 199.4 1344.3 196.0 1344.4 193.0 1345.4 191.0 1348.0 189.3 1349.0 189.4 1351.3 191.0 1352.6 194.0 1352.6 196.0 1351.7 198.0 1349.0 200.5ZM1260.0 260.0 1231.0 260.4 1180.0 258.8 1157.5 257.0 1121.0 253.0 1108.0 251.3 1088.0 247.5 1080.0 243.0 1077.4 240.0 1077.0 238.0 1077.3 237.0 1091.0 236.5 1092.0 235.5 1096.0 235.5 1097.0 234.5 1099.0 234.5 1100.0 233.7 1102.0 233.7 1103.0 232.9 1110.0 232.8 1165.0 237.5 1199.0 239.2 1247.0 240.2 1282.0 239.6 1321.0 239.9 1345.0 241.5 1349.9 243.0 1351.3 245.0 1351.0 246.0 1349.0 247.7 1343.8 250.0 1317.0 256.4 1297.0 258.9 1278.0 258.9 1260.0 260.0Z"/>
<path fill="#ffc800" fill-rule="evenodd" d="M1369.0 196.0 1366.0 196.3 1363.8 194.0 1363.8 190.0 1366.0 187.8 1368.5 188.0 1370.2 190.0 1370.2 194.0 1369.0 196.0ZM1350.0 199.2 1347.0 199.3 1344.8 196.0 1345.0 193.1 1346.0 191.4 1348.0 190.0 1351.0 191.6 1352.0 194.6 1351.2 198.0 1350.0 199.2ZM1243.0 260.0 1205.0 259.3 1174.9 258.0 1152.2 256.0 1108.8 251.0 1088.0 247.0 1082.6 244.0 1080.3 242.0 1078.9 240.0 1078.7 238.0 1079.2 237.0 1091.0 236.5 1092.0 235.6 1096.0 235.6 1097.0 234.7 1099.0 234.7 1100.0 233.8 1103.0 233.2 1110.0 233.3 1161.0 237.7 1192.0 239.4 1232.0 240.5 1283.0 240.3 1312.0 241.1 1321.0 242.0 1332.6 244.0 1335.5 245.0 1336.7 246.0 1336.5 247.0 1333.8 249.0 1323.0 253.0 1315.7 255.0 1304.5 257.0 1295.9 258.0 1278.0 258.2 1243.0 260.0Z"/>
<path fill="#ffa000" fill-rule="evenodd" d="M1257.0 259.0 1231.0 259.4 1183.6 258.0 1163.0 256.5 1128.7 253.0 1108.0 250.4 1088.0 246.3 1082.7 243.0 1080.9 241.0 1080.2 239.0 1081.1 237.0 1091.0 236.6 1092.0 235.7 1096.0 235.7 1097.0 234.8 1099.0 234.8 1100.0 233.9 1110.0 233.7 1163.0 238.3 1186.0 239.7 1225.0 240.8 1274.0 241.0 1298.0 241.7 1316.0 243.6 1320.4 245.0 1322.6 247.0 1322.8 248.0 1321.4 250.0 1318.0 252.0 1312.0 254.0 1302.7 256.0 1295.4 257.0 1278.0 257.4 1257.0 259.0Z"/>
<path fill="#ff7000" fill-rule="evenodd" d="M1263.0 258.0 1242.0 259.0 1211.0 258.4 1179.0 257.2 1152.3 255.0 1109.0 250.1 1093.2 247.0 1088.0 245.6 1085.3 244.0 1082.4 241.0 1081.9 239.0 1083.1 237.0 1091.0 236.7 1092.0 235.8 1096.0 235.8 1097.0 234.9 1100.0 234.3 1110.0 234.2 1160.0 238.6 1186.0 240.2 1225.0 241.4 1273.0 241.8 1297.0 242.9 1310.1 245.0 1312.8 246.0 1314.8 248.0 1313.9 250.0 1310.5 252.0 1298.0 255.5 1263.0 258.0Z"/>
<path fill="#ff4000" fill-rule="evenodd" d="M1253.0 258.0 1231.0 258.3 1185.0 257.0 1163.0 255.5 1129.0 252.0 1108.0 249.4 1091.9 246.0 1088.0 244.7 1085.5 243.0 1083.9 241.0 1083.6 239.0 1085.2 237.0 1091.0 236.8 1092.0 235.9 1096.0 235.9 1097.0 235.0 1110.0 234.7 1181.0 240.5 1284.0 243.2 1299.8 245.0 1305.5 247.0 1306.8 249.0 1306.4 250.0 1303.3 252.0 1297.0 254.1 1253.0 258.0Z"/>
<path fill="#ff1000" fill-rule="evenodd" d="M1257.0 257.1 1242.0 257.8 1204.0 257.1 1177.9 256.0 1153.7 254.0 1108.0 248.8 1089.0 244.2 1086.1 242.0 1085.3 240.0 1086.0 238.2 1087.5 237.0 1091.0 236.9 1092.0 236.0 1110.0 235.3 1175.0 240.8 1273.0 243.7 1285.0 244.6 1296.0 246.5 1298.0 247.3 1299.5 249.0 1299.3 250.0 1297.0 251.8 1291.6 253.0 1257.0 257.1Z"/>
<path fill="#ff0000" fill-rule="evenodd" d="M1246.0 257.0 1218.0 256.8 1180.0 255.5 1131.1 251.0 1109.0 248.4 1098.1 246.0 1089.0 243.0 1087.8 242.0 1087.1 240.0 1088.3 238.0 1090.0 237.2 1110.0 235.9 1175.0 241.5 1269.0 244.5 1285.0 246.6 1288.8 248.0 1289.8 249.0 1289.6 250.0 1288.0 251.0 1284.4 252.0 1264.0 255.5 1246.0 257.0Z"/>
<path fill="none" stroke="#000" stroke-opacity="0.36" stroke-width="0.8" d="M1489.5 293.1 1516.7 287.2 1542.7 283.7 1571.5 282.1 1606.2 282.3M1451.6 293.1 1476.3 285.3 1496.5 279.7 1513.8 275.7 1528.3 273.2 1545.6 271.3 1562.9 270.4 1583.1 270.4 1606.2 271.1M1421.4 293.1 1485.0 270.9 1502.3 265.8 1519.6 261.9 1536.9 259.4 1557.1 258.2 1577.3 258.4 1606.2 259.8M905.1 285.4 936.8 288.9 965.6 293.1M1393.4 293.1 1426.5 281.6 1487.9 257.4 1502.3 252.7 1516.7 249.0 1534.0 246.3 1551.4 245.3 1574.4 246.0 1606.2 248.4M905.1 275.6 931.1 278.4 957.0 282.1 983.0 286.7 1013.9 293.1M1364.8 293.1 1386.9 286.5 1410.0 278.3 1436.8 267.2 1490.8 242.7 1505.2 237.5 1516.7 234.3 1531.2 232.1 1548.5 231.5 1568.7 232.8 1606.2 237.0M905.1 265.8 936.8 269.3 965.7 273.8 988.8 278.5 1054.0 293.1M1333.0 293.1 1352.3 288.6 1369.6 283.8 1386.9 278.2 1404.2 271.6 1418.6 265.3 1436.0 257.0 1490.8 227.8 1502.3 222.6 1513.8 218.8 1528.3 216.3 1542.7 216.4 1560.0 218.3 1606.2 225.5M905.1 255.8 936.8 259.3 965.7 263.9 991.7 269.6 1055.1 285.3 1075.3 289.3 1098.3 293.1M1294.1 293.1 1323.4 288.2 1349.4 282.3 1375.4 274.6 1398.4 265.9 1418.6 256.5 1435.7 247.0 1454.1 235.5 1482.1 216.5 1496.5 207.7 1508.1 202.0 1516.7 199.2 1525.4 198.1 1536.9 199.2 1583.1 209.4 1606.2 213.9M905.1 245.7 939.7 249.5 968.6 254.4 991.7 259.8 1052.2 276.7 1089.8 284.4 1112.8 287.8 1135.9 290.3 1161.9 292.2 1187.7 293.1M1213.6 293.1 1236.9 292.3 1260.0 290.6 1283.0 288.2 1306.1 284.8 1326.3 281.1 1346.5 276.5 1363.8 271.6 1381.1 265.6 1395.6 259.6 1407.1 254.2 1418.6 248.1 1430.2 241.1 1442.6 232.7 1457.7 221.1 1487.9 194.9 1499.4 185.7 1505.2 182.3 1513.8 179.5 1522.5 178.8 1531.2 180.0 1571.5 193.7 1588.9 198.5 1606.2 202.5M905.1 235.5 942.6 239.5 971.5 244.6 994.5 250.7 1034.9 263.7 1055.1 269.5 1081.1 275.5 1107.1 280.0 1141.7 284.0 1176.3 286.2 1210.9 286.8 1245.5 285.5 1268.6 283.6 1288.8 281.2 1309.0 278.2 1329.2 274.4 1346.5 270.2 1363.8 265.1 1378.3 260.0 1392.7 253.9 1404.2 248.2 1416.5 241.3 1425.4 235.5 1437.1 226.9 1447.5 218.3 1459.9 206.8 1492.4 172.2 1499.4 167.7 1508.1 164.7 1513.8 163.8 1519.6 163.6 1531.2 165.3 1539.8 168.2 1574.4 182.0 1588.9 186.6 1606.2 191.2M905.1 225.2 942.6 228.8 959.9 231.5 974.4 234.6 994.5 240.3 1036.4 255.7 1055.1 261.7 1081.1 268.1 1107.1 273.0 1141.7 277.3 1179.2 279.9 1213.8 280.5 1248.4 279.3 1271.5 277.3 1294.6 274.5 1314.8 271.2 1335.0 267.1 1352.3 262.6 1366.7 257.9 1381.1 252.3 1395.6 245.7 1407.1 239.4 1415.8 233.9 1432.3 221.1 1444.8 209.6 1455.7 198.1 1485.0 162.3 1490.5 157.8 1493.7 156.1 1502.3 152.9 1508.1 151.8 1516.7 151.2 1525.4 151.8 1534.0 153.5 1545.6 157.4 1577.3 171.0 1591.7 176.0 1606.2 180.2M905.1 214.8 945.5 218.3 962.8 220.9 977.2 224.0 997.4 230.4 1036.2 247.0 1052.2 253.0 1078.2 260.2 1104.2 265.6 1138.8 270.3 1176.3 273.4 1213.8 274.4 1248.4 273.3 1268.6 271.7 1291.7 269.0 1311.9 265.9 1332.1 261.9 1349.4 257.5 1363.8 252.9 1378.7 247.0 1392.7 240.4 1404.2 233.9 1412.9 228.1 1427.9 215.4 1439.4 203.9 1449.3 192.4 1472.6 160.7 1479.2 153.0 1483.5 149.2 1487.9 146.4 1496.5 143.1 1505.2 141.3 1513.8 140.7 1522.5 141.1 1534.0 143.1 1551.4 148.5 1583.1 162.0 1606.2 169.4M905.1 204.3 931.1 205.8 951.3 207.7 968.6 210.3 983.0 213.6 994.5 217.4 1003.2 221.1 1036.3 238.4 1052.2 245.2 1077.9 252.8 1104.2 258.6 1138.8 263.7 1179.2 267.2 1216.7 268.3 1251.3 267.2 1271.5 265.5 1297.5 262.4 1317.7 259.1 1335.0 255.4 1349.4 251.6 1363.8 246.7 1378.3 240.8 1392.7 233.5 1401.3 228.2 1410.0 222.0 1423.7 209.6 1434.1 198.1 1443.2 186.6 1464.7 155.0 1470.6 147.5 1474.4 143.4 1479.2 139.5 1485.0 136.5 1489.8 134.8 1499.4 132.6 1511.0 131.6 1522.5 132.1 1534.0 134.0 1551.4 139.0 1583.1 151.5 1606.2 159.0M905.1 193.7 934.0 194.9 957.0 196.6 974.4 198.9 988.8 202.2 997.4 205.1 1006.1 209.3 1014.7 214.6 1034.9 228.6 1043.6 233.5 1052.2 237.6 1066.7 242.5 1089.8 248.6 1104.2 251.8 1138.8 257.0 1179.2 260.9 1216.7 262.2 1251.3 261.4 1271.5 259.6 1297.5 256.4 1317.7 253.0 1335.0 249.2 1349.4 245.3 1363.8 240.3 1378.3 234.0 1389.8 227.9 1404.2 218.1 1410.8 212.5 1418.6 204.7 1426.5 195.2 1435.0 183.7 1456.1 150.3 1463.3 140.6 1467.7 135.9 1472.7 131.9 1476.3 129.9 1482.1 127.7 1493.7 124.8 1505.2 123.4 1516.7 123.4 1528.3 124.8 1551.4 130.5 1588.9 143.6 1606.2 149.0M905.1 183.1 942.6 183.9 968.6 185.2 988.8 187.5 1000.3 190.2 1006.1 192.5 1011.9 195.9 1017.6 200.8 1034.4 218.3 1040.7 223.1 1051.9 229.8 1063.8 234.7 1078.2 237.6 1104.1 244.2 1119.3 247.0 1138.8 249.9 1176.3 253.9 1213.8 255.8 1245.5 255.3 1268.6 253.1 1293.2 249.9 1310.6 247.0 1335.0 242.1 1349.2 238.4 1360.9 234.4 1372.5 229.6 1384.0 223.6 1392.7 218.1 1401.3 211.4 1409.4 203.9 1415.8 196.6 1428.7 178.0 1450.4 141.0 1457.3 131.9 1464.8 125.5 1470.6 122.5 1476.3 120.5 1487.9 117.6 1499.4 116.1 1513.8 115.7 1525.4 116.7 1539.8 119.5 1554.2 123.2 1606.2 139.3M905.1 172.5 983.0 171.9 1000.3 171.1 1009.0 169.9 1014.7 168.0 1017.6 166.2 1020.0 163.6 1029.8 146.3 1034.5 140.6 1035.9 137.7 1037.8 135.4 1044.5 129.1 1046.5 127.6 1049.4 126.7 1052.2 124.7 1055.1 123.8 1058.0 121.9 1060.9 121.1 1063.8 119.2 1075.3 118.2 1081.1 116.0 1086.9 116.6 1092.6 116.1 1107.1 113.6 1127.5 108.9 1150.2 106.0 1173.4 105.2 1191.8 106.0 1200.9 108.9 1200.5 111.8 1193.6 126.2 1189.0 137.7 1185.8 149.2 1183.6 160.7 1181.9 175.1 1181.2 192.4 1182.4 235.5 1184.0 238.4 1191.3 241.3 1213.4 244.2 1239.8 244.2 1277.3 239.2 1317.7 236.1 1337.9 233.3 1349.4 230.5 1360.4 226.9 1369.6 223.1 1379.0 218.3 1388.0 212.5 1395.6 206.6 1404.2 198.1 1410.0 191.1 1420.2 175.1 1440.2 137.7 1447.5 127.0 1451.1 123.3 1456.1 119.6 1461.9 116.5 1467.0 114.7 1482.1 111.0 1496.5 109.0 1511.0 108.6 1525.4 109.5 1539.8 111.9 1554.2 115.2 1606.2 129.9M905.1 161.8 942.6 160.7 965.7 159.3 983.0 157.3 994.5 154.8 1003.2 151.7 1011.9 146.7 1036.1 126.2 1043.6 121.3 1049.4 118.2 1063.8 112.3 1084.9 106.0 1098.4 102.8 1131.2 97.4 1153.2 95.1 1170.5 93.9 1190.7 93.3 1210.9 93.5 1230.0 94.5 1242.7 96.0 1251.1 97.4 1262.1 100.3 1274.4 105.4 1280.2 108.9 1283.9 111.8 1291.8 120.4 1295.1 126.2 1297.1 131.9 1297.6 134.8 1297.4 140.6 1294.6 149.2 1286.5 163.6 1284.1 169.3 1282.4 175.1 1281.4 180.9 1281.3 186.6 1282.1 192.4 1283.8 198.1 1286.7 203.9 1291.1 209.6 1297.5 215.4 1303.2 219.1 1309.0 221.6 1317.7 223.7 1332.1 224.3 1340.7 223.3 1349.4 221.5 1358.1 218.8 1366.6 215.4 1381.1 207.3 1392.6 198.1 1401.3 188.3 1408.1 178.0 1426.2 140.6 1436.0 124.0 1439.0 120.4 1444.6 115.4 1450.4 111.9 1456.1 109.5 1470.6 105.8 1487.9 102.8 1502.3 101.6 1519.6 101.9 1534.0 103.5 1551.4 106.7 1606.2 120.8M905.1 151.2 934.0 149.8 957.0 147.9 974.4 145.4 988.8 142.1 997.4 139.1 1006.1 135.1 1034.8 117.6 1052.2 109.1 1063.8 104.9 1081.1 99.6 1104.2 94.4 1121.5 91.6 1141.7 89.0 1179.2 86.3 1216.7 86.2 1234.0 87.2 1248.4 88.8 1268.6 92.9 1285.9 98.8 1294.6 103.0 1299.4 106.0 1303.2 109.0 1309.0 114.7 1312.9 120.4 1315.4 126.2 1316.9 131.9 1317.6 137.7 1316.9 149.2 1312.4 169.3 1310.6 180.9 1310.4 189.5 1311.5 195.2 1314.6 201.0 1317.1 203.9 1320.5 206.8 1323.4 208.4 1326.3 209.7 1332.1 211.0 1340.7 211.3 1352.3 209.5 1360.8 206.8 1366.7 204.2 1377.1 198.1 1386.9 189.8 1392.7 183.1 1398.4 173.9 1411.3 143.4 1417.1 131.9 1422.4 123.3 1427.3 117.0 1433.1 111.3 1438.8 107.4 1447.5 103.4 1459.0 100.2 1482.1 96.2 1499.4 94.7 1516.7 94.7 1534.0 96.3 1551.4 99.1 1606.2 111.9M905.1 140.6 931.1 138.9 951.3 136.9 968.6 134.2 983.0 130.9 1000.3 125.0 1034.9 108.3 1054.6 100.3 1081.1 92.3 1107.1 86.7 1141.7 81.8 1179.2 79.0 1213.8 78.7 1231.1 79.5 1245.5 80.8 1260.0 83.0 1271.5 85.4 1283.0 88.6 1294.6 92.7 1303.2 96.4 1311.9 101.0 1319.5 106.0 1325.8 111.8 1330.1 117.6 1333.0 123.3 1335.9 134.8 1336.8 155.0 1335.7 175.1 1336.8 183.7 1338.0 186.6 1340.4 189.5 1343.6 191.5 1346.5 192.5 1352.3 192.7 1360.9 190.7 1366.7 188.2 1372.5 184.3 1378.3 178.9 1383.2 172.2 1386.1 166.5 1391.7 149.2 1396.8 137.7 1401.6 129.1 1407.4 120.4 1414.9 111.8 1421.7 106.0 1430.2 100.8 1438.3 97.4 1456.1 92.9 1476.3 89.5 1496.5 87.7 1513.8 87.5 1531.2 88.7 1551.4 91.5 1606.2 103.1M905.1 130.2 928.2 128.3 948.4 126.0 965.7 123.1 980.1 119.9 1000.3 113.4 1034.9 99.3 1049.4 94.0 1069.6 87.7 1089.8 82.8 1109.9 78.9 1133.0 75.5 1156.1 73.1 1176.3 71.7 1208.0 70.9 1236.9 72.1 1262.9 75.2 1285.9 80.3 1309.0 88.1 1329.1 97.4 1342.6 106.0 1358.1 120.0 1363.8 122.9 1366.7 123.4 1372.5 122.6 1378.3 119.8 1404.2 101.5 1411.5 97.4 1421.5 93.1 1430.2 90.3 1444.6 87.1 1473.5 82.3 1487.9 80.9 1502.3 80.3 1516.7 80.5 1531.2 81.4 1560.0 85.4 1606.2 94.5M905.1 119.8 942.6 115.9 959.9 113.1 974.4 110.1 997.4 103.6 1052.2 84.8 1072.4 79.2 1092.6 74.6 1112.8 71.0 1135.9 67.7 1159.0 65.3 1179.2 64.0 1205.2 63.3 1228.2 63.7 1248.4 65.1 1268.6 67.7 1283.0 70.3 1300.0 74.4 1319.2 80.1 1349.4 90.4 1358.1 92.7 1366.7 93.7 1372.5 93.6 1381.1 92.4 1415.8 83.7 1447.5 78.2 1473.5 74.7 1496.5 73.2 1519.6 73.4 1542.7 75.3 1568.7 79.1 1606.2 86.0M905.1 109.5 942.6 105.3 974.4 99.4 997.4 93.3 1055.1 75.7 1075.3 70.6 1095.5 66.4 1115.7 63.0 1138.8 59.9 1161.9 57.6 1185.0 56.1 1205.2 55.6 1225.3 55.8 1245.5 56.8 1262.9 58.4 1294.6 63.4 1346.5 74.8 1358.1 76.5 1366.7 77.2 1381.1 77.1 1407.1 74.9 1473.5 67.1 1505.2 65.8 1525.4 66.4 1548.5 68.5 1571.5 71.7 1606.2 77.6M905.1 99.3 939.7 95.4 968.6 90.3 991.7 84.9 1040.7 71.2 1066.7 64.7 1095.5 58.7 1123.8 54.2M1294.1 54.2 1346.5 63.1 1372.5 65.6 1389.8 66.1 1404.2 65.7 1470.6 59.6 1490.8 58.6 1508.1 58.5 1528.3 59.2 1551.4 61.3 1606.2 69.2M905.1 89.3 939.7 85.2 971.5 79.7 994.5 74.5 1049.4 60.6 1078.3 54.2M1556.8 54.2 1606.2 60.9M1352.8 54.2 1372.5 56.1 1392.7 56.7 1412.9 56.0 1437.9 54.2M905.1 79.3 936.8 75.6 965.7 70.9 994.5 65.0 1040.6 54.2M905.1 69.4 951.3 63.6 974.4 59.7 1001.3 54.2M905.1 59.7 949.4 54.2"/>
<circle cx="1081.1" cy="175.1" r="61.7" fill="#fff"/>
<circle cx="1081.1" cy="175.1" r="57.7" fill="#c8c8c8" stroke="#111" stroke-width="1.6"/>
</g>
<rect x="908.0" y="60.0" width="692.4" height="230.2" fill="none" stroke="#444" stroke-width="1.1"/>
<path d="M936.8 290.2V283.7M965.7 290.2V276.2M994.5 290.2V283.7M1023.4 290.2V283.7M1052.2 290.2V283.7M1081.1 290.2V276.2M1109.9 290.2V283.7M1138.8 290.2V283.7M1167.6 290.2V283.7M1196.5 290.2V276.2M1225.3 290.2V283.7M1254.2 290.2V283.7M1283.0 290.2V283.7M1311.9 290.2V276.2M1340.8 290.2V283.7M1369.6 290.2V283.7M1398.4 290.2V283.7M1427.3 290.2V276.2M1456.1 290.2V283.7M1485.0 290.2V283.7M1513.8 290.2V283.7M1542.7 290.2V276.2M1571.5 290.2V283.7M908.0 261.4H914.0M908.0 232.6H914.0M908.0 203.9H914.0M908.0 175.1H922.0M908.0 146.3H914.0M908.0 117.5H914.0M908.0 88.8H914.0" stroke="#222" stroke-width="1.3" fill="none"/>
<text x="965.7" y="323.0" font-size="36" text-anchor="middle">−1</text>
<text x="1081.1" y="323.0" font-size="36" text-anchor="middle">0</text>
<text x="1196.5" y="323.0" font-size="36" text-anchor="middle">1</text>
<text x="1311.9" y="323.0" font-size="36" text-anchor="middle">2</text>
<text x="1427.3" y="323.0" font-size="36" text-anchor="middle">3</text>
<text x="1542.7" y="323.0" font-size="36" text-anchor="middle">4</text>
<text x="899.5" y="73.9" font-size="36" text-anchor="end">1</text>
<text x="899.5" y="186.9" font-size="36" text-anchor="end">0</text>
<text x="899.5" y="299.8" font-size="36" text-anchor="end">−1</text>
<text x="818.2" y="36.2" font-size="42">(<tspan font-style="italic">b</tspan>)</text>
<text x="883.3" y="36.2" font-size="42" font-style="italic">t/τ</text>
<text x="923.4" y="49.2" font-size="34" font-style="italic">s</text>
<text x="946.0" y="36.2" font-size="42">=</text>
<text x="980.7" y="36.2" font-size="42" letter-spacing="-1.4">0.2025</text>
<clipPath id="clipc"><rect x="104.4" y="425.0" width="687.0" height="228.0"/></clipPath>
<g clip-path="url(#clipc)">
<path fill="#00ffff" fill-rule="evenodd" d="M500.4 549.1 498.4 549.1 496.4 548.2 479.5 538.0 476.4 535.2 472.4 529.4 461.4 522.0 458.4 519.0 449.4 505.8 447.3 501.0 446.9 498.0 448.8 494.0 457.4 488.3 458.8 487.0 459.6 485.0 457.4 482.9 454.4 481.7 440.4 478.6 420.4 477.3 413.4 475.9 400.4 476.0 370.4 477.0 309.4 481.6 299.4 481.8 293.4 480.7 292.4 479.8 289.4 479.8 288.4 478.8 282.4 478.8 281.4 477.8 271.4 477.6 270.4 478.5 264.4 478.5 263.4 479.5 260.4 479.4 259.4 480.4 257.4 480.4 256.4 481.4 254.4 481.4 253.4 482.4 251.4 482.4 248.4 484.3 247.4 484.4 245.4 486.3 242.4 487.3 240.4 489.3 239.4 489.3 226.5 502.0 226.5 503.0 224.5 505.0 224.4 506.1 222.4 506.0 222.3 505.0 225.4 499.0 232.4 490.2 240.3 484.0 247.4 480.0 256.4 476.4 258.2 474.0 267.7 468.0 276.4 464.6 285.4 462.5 353.4 455.4 393.4 453.3 438.4 453.2 478.4 455.7 496.4 457.6 503.1 459.0 512.4 461.9 537.4 472.0 544.2 476.0 546.9 479.0 549.4 483.6 552.7 494.0 553.7 500.0 552.6 508.0 549.4 516.1 545.9 521.0 536.5 530.0 534.4 534.2 532.4 535.3 518.4 538.6 505.4 547.0 500.4 549.1ZM791.4 488.3 789.0 486.0 791.4 483.6 791.4 488.3ZM776.4 534.5 774.4 534.8 771.4 534.1 757.4 527.3 748.7 522.0 744.4 517.9 739.4 511.8 737.8 508.0 738.0 505.0 740.4 504.5 768.4 504.4 770.4 503.7 773.4 500.8 780.4 498.3 782.4 498.7 786.4 501.2 791.4 501.8 791.4 525.4 783.4 524.8 780.4 525.7 778.6 528.0 777.5 533.0 776.4 534.5Z"/>
<path fill="#00e8ff" fill-rule="evenodd" d="M499.4 540.3 496.4 540.5 492.4 539.1 489.4 537.4 479.4 529.1 459.1 508.0 455.9 504.0 453.9 500.0 453.9 498.0 455.4 495.4 459.4 491.6 462.4 489.7 469.4 486.7 483.6 483.0 475.4 480.9 453.4 476.8 443.4 475.8 413.4 475.4 370.4 476.6 299.4 481.4 293.4 480.5 292.4 479.6 289.4 479.6 288.4 478.7 282.4 478.7 281.4 477.7 271.4 477.3 270.4 478.3 264.4 478.2 263.4 479.2 260.4 479.1 259.4 480.1 257.4 480.1 256.4 481.0 254.4 481.1 253.4 482.0 251.4 482.1 243.4 486.5 242.6 486.0 250.4 481.2 258.0 478.0 259.0 476.0 265.3 471.0 272.3 467.0 278.4 464.7 288.4 462.7 345.4 456.6 371.4 454.7 396.4 453.8 437.4 453.6 454.4 455.3 469.7 459.0 483.4 460.5 495.4 462.6 506.4 465.6 511.4 467.7 516.4 470.6 521.4 475.1 529.4 477.7 536.4 481.5 539.5 484.0 543.8 490.0 545.7 495.0 546.7 502.0 545.8 510.0 543.4 516.0 538.4 523.0 531.4 529.3 527.4 531.4 514.4 534.7 499.4 540.3ZM242.4 487.0 241.4 487.0 242.4 487.0Z"/>
<path fill="#00bfff" fill-rule="evenodd" d="M505.4 534.2 498.4 534.5 494.4 533.5 488.4 530.5 482.4 526.4 479.0 523.0 472.4 514.2 463.9 506.0 459.2 499.0 459.0 498.0 460.0 496.0 467.4 490.7 476.4 486.8 487.3 484.0 486.4 482.9 453.4 476.4 432.7 475.0 400.4 475.2 370.4 476.2 308.4 480.6 296.4 480.9 293.4 480.4 292.4 479.5 289.4 479.5 288.4 478.6 282.4 478.6 281.4 477.6 271.4 477.1 270.4 478.0 266.1 478.0 264.1 477.0 264.0 476.0 265.4 474.0 272.5 468.0 276.3 466.0 283.4 463.9 326.4 458.9 374.4 455.0 414.4 453.9 442.4 454.4 453.4 455.8 469.4 459.3 496.4 463.7 505.4 466.2 511.9 469.0 517.6 473.0 522.4 478.3 529.4 480.6 534.4 483.5 539.8 489.0 543.8 498.0 543.8 507.0 542.8 510.0 540.8 514.0 536.9 518.0 531.4 522.4 522.4 527.3 511.4 532.4 505.4 534.2Z"/>
<path fill="#0090ff" fill-rule="evenodd" d="M508.4 525.2 496.4 525.4 490.4 522.3 478.9 511.0 471.9 501.0 470.9 498.0 471.0 496.0 474.4 492.5 489.0 487.0 489.4 483.1 486.4 482.3 450.4 475.6 426.4 474.5 370.4 475.8 309.4 480.2 296.4 480.5 293.4 480.2 292.4 479.4 289.4 479.4 288.4 478.5 282.4 478.4 281.4 477.5 272.6 477.0 271.2 474.0 271.2 472.0 272.9 469.0 275.4 467.2 281.0 465.0 285.4 464.0 340.1 458.0 380.4 455.2 420.4 454.3 442.4 454.8 453.4 456.2 469.4 459.7 493.4 463.6 507.4 467.9 514.6 472.0 519.4 476.5 522.8 482.0 529.8 488.0 531.8 492.0 532.8 497.0 532.8 504.0 530.8 512.0 528.7 515.0 522.7 521.0 519.4 523.3 516.4 524.5 509.4 524.6 508.4 525.2Z"/>
<path fill="#0060ff" fill-rule="evenodd" d="M512.4 521.1 509.4 521.4 508.4 520.5 507.4 520.5 500.9 514.0 494.9 503.0 491.9 495.0 491.0 494.0 490.8 492.0 490.0 491.0 490.2 484.0 491.5 483.0 484.4 481.2 450.4 475.2 426.4 474.1 370.4 475.4 307.4 479.9 293.4 480.0 292.4 479.3 289.4 479.3 288.4 478.4 282.4 478.3 281.4 477.4 274.2 477.0 272.9 475.0 272.6 472.0 273.5 470.0 275.7 468.0 283.4 464.9 323.3 460.0 374.4 455.9 413.4 454.8 438.4 455.0 453.4 456.7 469.4 460.1 487.4 463.0 502.3 467.0 511.1 471.0 517.0 476.0 520.0 480.0 522.0 484.0 524.3 491.0 525.4 497.0 525.8 503.0 524.9 510.0 523.4 514.5 521.4 517.1 518.4 518.3 516.4 517.9 512.4 521.1Z"/>
<path fill="#0020ff" fill-rule="evenodd" d="M520.4 505.6 519.4 506.0 517.4 504.3 507.1 489.0 501.4 485.4 489.4 481.6 450.4 474.8 426.4 473.6 387.4 474.3 359.4 475.5 307.4 479.5 293.4 479.6 289.4 479.1 288.4 478.3 282.4 478.2 281.4 477.3 275.9 477.0 274.3 475.0 273.9 472.0 274.9 470.0 277.1 468.0 283.4 465.4 318.1 461.0 349.7 458.0 375.4 456.3 413.4 455.2 437.4 455.4 449.4 456.5 493.2 465.0 504.8 469.0 510.3 472.0 513.9 475.0 517.1 479.0 520.8 487.0 522.4 497.0 521.7 503.0 520.4 505.6Z"/>
<path fill="#0000ff" fill-rule="evenodd" d="M516.4 492.1 514.4 491.7 507.0 486.0 494.4 481.7 453.4 474.7 444.4 473.7 420.4 473.1 377.4 474.2 308.3 479.0 296.4 479.1 289.4 479.0 288.4 478.2 282.4 478.1 281.4 477.2 277.7 477.0 275.7 475.0 275.2 473.0 275.6 471.0 277.3 469.0 283.4 466.0 322.4 461.0 375.4 456.7 419.4 455.7 442.4 456.2 453.4 457.6 486.0 464.0 493.8 466.0 504.1 470.0 510.4 474.0 514.4 479.0 517.4 486.8 517.4 490.5 516.4 492.1Z"/>
<path fill="#0000ff" fill-rule="evenodd" d="M508.4 483.0 505.4 483.0 494.4 480.5 453.4 474.2 440.4 473.0 414.4 472.7 375.4 473.7 301.4 478.6 282.5 478.0 278.1 476.0 276.5 473.0 277.0 471.0 278.4 469.4 283.4 466.6 319.4 461.8 374.4 457.3 413.4 456.2 437.4 456.4 453.4 458.1 482.9 464.0 493.9 467.0 503.0 471.0 508.5 475.0 510.1 477.0 511.1 480.0 510.5 482.0 508.4 483.0Z"/>
<path fill="#0000c8" fill-rule="evenodd" d="M502.4 480.0 473.4 477.0 450.4 473.3 436.4 472.3 407.4 472.2 370.4 473.4 306.4 478.1 284.4 477.7 280.0 476.0 278.0 473.0 279.2 470.0 284.4 467.1 322.4 462.0 374.4 457.8 413.4 456.8 437.4 456.9 455.5 459.0 479.6 464.0 490.9 467.0 501.3 472.0 504.9 475.0 506.0 477.0 505.5 479.0 502.4 480.0Z"/>
<path fill="#00008c" fill-rule="evenodd" d="M498.4 477.1 491.4 477.7 481.4 477.2 448.4 472.5 432.4 471.6 407.4 471.7 370.4 472.8 306.4 477.6 284.4 476.9 280.6 475.0 279.5 473.0 280.8 470.0 284.4 467.9 318.4 463.0 374.4 458.4 432.4 457.4 452.4 459.0 484.6 466.0 490.5 468.0 496.0 471.0 500.0 475.0 500.0 476.0 498.4 477.1Z"/>
<path fill="#80ff00" fill-rule="evenodd" d="M198.4 499.3 196.8 498.0 196.8 497.0 198.4 495.7 200.2 497.0 200.2 498.0 198.4 499.3ZM568.4 628.1 514.4 628.5 477.4 626.6 383.4 624.6 354.4 622.6 302.4 616.6 282.4 612.9 268.4 605.6 252.9 601.0 242.4 596.0 236.3 592.0 229.4 585.8 223.3 579.0 219.4 572.0 220.4 569.9 221.4 569.0 222.4 569.0 222.4 570.0 226.5 575.0 226.5 576.0 235.6 585.0 239.4 588.7 240.4 588.7 242.4 590.7 245.4 591.7 247.4 593.6 248.4 593.6 251.4 595.6 253.4 595.6 254.4 596.6 256.4 596.6 257.4 597.6 259.4 597.6 260.4 598.5 263.4 598.6 264.4 599.5 270.4 599.5 271.4 600.4 281.4 600.2 282.4 599.2 288.4 599.2 289.4 598.2 292.4 598.2 293.4 597.3 295.4 597.3 296.4 596.3 298.4 596.3 301.4 595.2 375.4 601.0 400.4 602.0 437.4 602.4 447.4 599.2 476.4 586.6 479.4 587.8 492.4 595.4 496.4 596.4 509.4 597.1 514.4 596.5 517.4 595.3 520.4 593.0 523.6 589.0 526.7 582.0 528.1 574.0 531.1 563.0 534.0 557.0 536.4 555.7 544.4 555.3 547.4 553.7 578.7 526.0 584.7 522.0 590.4 520.5 609.4 520.3 616.4 518.4 629.4 513.5 635.3 516.0 656.5 530.0 659.4 533.2 662.4 538.0 664.6 543.0 665.8 548.0 665.6 554.0 662.2 568.0 663.3 578.0 662.4 582.0 657.8 586.0 646.4 592.6 638.4 599.1 627.1 607.0 616.4 613.3 610.4 615.1 600.4 616.4 599.5 617.0 597.2 621.0 592.4 623.9 584.4 624.4 576.8 627.0 568.4 628.1Z"/>
<path fill="#d8ff00" fill-rule="evenodd" d="M447.4 625.0 420.4 625.1 370.4 623.3 320.4 618.4 298.4 615.3 282.4 612.3 275.6 609.0 267.4 603.4 256.5 600.0 249.7 597.0 240.6 591.0 241.4 590.3 251.4 595.9 253.4 596.0 254.4 596.9 256.4 596.9 257.4 597.9 259.4 597.9 260.4 598.8 263.4 598.9 264.4 599.8 270.4 599.8 271.4 600.7 281.4 600.3 282.4 599.3 288.4 599.3 289.4 598.3 292.4 598.3 293.4 597.4 295.4 597.4 296.4 596.5 301.4 595.8 358.4 600.4 394.4 602.2 441.4 603.1 463.4 601.5 486.4 601.1 523.4 603.4 538.4 597.5 542.4 595.2 545.9 592.0 546.7 590.0 546.7 586.0 542.0 575.0 542.0 573.0 544.0 569.0 563.4 551.6 576.4 542.6 589.4 536.5 601.4 533.7 616.4 531.3 629.4 526.7 632.4 527.5 636.4 529.7 642.7 536.0 643.7 539.0 643.6 543.0 639.1 558.0 637.8 566.0 635.8 572.0 634.5 574.0 630.4 577.4 620.4 581.6 617.4 583.6 613.9 588.0 610.7 594.0 607.4 597.3 603.4 599.4 593.4 602.6 585.0 606.0 585.4 606.7 593.2 608.0 596.2 611.0 597.0 614.0 596.4 617.0 595.1 619.0 592.4 620.9 578.4 622.3 548.4 623.5 505.4 624.1 470.4 623.4 447.4 625.0ZM240.4 590.6 239.5 590.0 240.9 590.0 240.4 590.6Z"/>
<path fill="#ffff00" fill-rule="evenodd" d="M572.4 594.5 570.4 594.3 566.0 590.0 565.0 588.0 564.9 583.0 566.9 578.0 574.7 566.0 579.0 558.0 581.4 555.6 585.4 554.5 594.4 554.5 597.4 555.7 598.8 557.0 598.8 564.0 597.7 568.0 593.7 576.0 589.4 580.3 579.4 587.7 572.4 594.5ZM454.4 624.0 432.4 624.8 380.4 623.4 358.4 621.9 321.4 618.0 303.4 615.7 283.2 612.0 273.8 607.0 270.9 604.0 270.2 602.0 270.4 601.0 281.4 600.4 282.4 599.4 288.4 599.4 289.4 598.4 292.4 598.4 293.4 597.5 295.4 597.5 296.4 596.7 299.4 596.2 365.4 601.3 400.4 602.9 441.4 603.5 470.4 602.0 487.4 601.9 506.4 604.0 575.4 609.3 585.5 611.0 588.1 612.0 590.2 614.0 589.9 615.0 588.4 616.3 583.7 618.0 565.4 620.3 526.4 622.2 498.4 622.8 468.4 622.7 454.4 624.0ZM269.4 601.3 267.7 601.0 270.2 601.0 269.4 601.3Z"/>
<path fill="#ffff00" fill-rule="evenodd" d="M447.4 624.0 420.4 624.2 374.4 622.7 316.6 617.0 302.4 615.1 283.4 611.5 275.1 607.0 272.5 604.0 272.0 602.0 272.3 601.0 281.4 600.5 282.4 599.5 288.4 599.5 289.4 598.5 292.4 598.5 293.4 597.7 299.4 596.7 364.4 601.7 400.4 603.3 441.4 604.0 465.4 602.8 486.4 602.8 506.4 605.6 546.4 609.8 557.2 612.0 561.9 614.0 561.5 615.0 559.4 616.0 541.4 619.1 494.4 621.7 468.4 622.0 447.4 624.0Z"/>
<path fill="#ffc800" fill-rule="evenodd" d="M453.4 623.0 432.4 623.9 380.4 622.5 358.4 621.0 320.3 617.0 303.4 614.8 283.4 611.0 279.3 609.0 275.4 606.0 274.0 604.0 273.7 602.0 274.1 601.0 281.4 600.6 282.4 599.7 288.4 599.6 289.4 598.7 292.4 598.6 293.4 597.8 295.4 597.8 296.4 597.1 300.4 597.1 364.4 602.2 394.4 603.6 441.4 604.5 465.4 603.5 486.4 603.7 506.4 607.7 527.4 611.0 533.6 613.0 534.3 614.0 533.4 615.0 530.5 616.0 517.1 618.0 489.4 620.9 468.4 621.3 453.4 623.0Z"/>
<path fill="#ffa000" fill-rule="evenodd" d="M446.4 623.1 420.4 623.2 375.4 621.7 353.1 620.0 316.4 616.1 303.4 614.4 283.4 610.3 277.8 607.0 276.0 605.0 275.3 603.0 276.0 601.0 281.4 600.7 282.4 599.8 288.4 599.7 289.4 598.8 292.4 598.8 293.4 597.9 302.4 597.6 360.4 602.4 387.4 603.8 432.4 605.0 480.4 604.4 487.4 604.8 492.9 606.0 503.8 610.0 509.2 613.0 509.1 614.0 507.5 615.0 503.4 616.6 492.4 619.2 486.4 620.0 468.4 620.5 446.4 623.1Z"/>
<path fill="#ff7000" fill-rule="evenodd" d="M451.4 622.0 432.4 622.9 380.4 621.4 358.4 620.0 320.4 616.0 303.4 613.9 284.4 609.9 279.2 607.0 277.4 605.0 276.9 603.0 278.0 601.0 281.4 600.8 282.4 599.9 288.4 599.8 289.4 598.9 292.4 598.9 293.4 598.2 304.4 598.1 357.4 602.7 387.4 604.4 431.4 605.5 477.4 605.3 487.1 606.0 491.0 607.0 496.8 610.0 499.0 613.0 497.8 615.0 496.2 616.0 488.4 618.5 468.4 619.6 451.4 622.0Z"/>
<path fill="#ff4000" fill-rule="evenodd" d="M443.4 622.1 413.4 622.0 374.4 620.6 316.2 615.0 303.4 613.4 283.8 609.0 279.6 606.0 278.6 603.0 280.1 601.0 281.4 600.9 282.4 600.0 288.4 599.9 289.4 599.0 304.4 598.6 359.4 603.4 381.4 604.7 420.4 605.9 477.4 606.4 488.6 608.0 492.1 610.0 493.5 612.0 493.1 614.0 492.1 615.0 487.4 617.1 468.4 618.7 454.4 621.0 443.4 622.1Z"/>
<path fill="#ff1000" fill-rule="evenodd" d="M447.4 621.1 436.4 621.7 398.9 621.0 374.4 620.0 349.7 618.0 303.4 612.8 283.6 608.0 281.2 606.0 280.3 604.0 281.0 602.0 285.1 600.0 304.4 599.2 354.4 603.6 380.4 605.2 473.4 607.5 486.4 609.6 488.4 610.9 488.9 612.0 488.2 614.0 486.4 615.1 447.4 621.1Z"/>
<path fill="#ff0000" fill-rule="evenodd" d="M438.4 621.0 374.4 619.3 318.4 614.1 303.4 612.2 289.7 609.0 284.1 607.0 282.9 606.0 282.1 604.0 283.2 602.0 285.4 601.0 304.4 599.8 373.4 605.5 462.4 608.0 476.4 609.9 479.3 611.0 480.3 612.0 479.9 613.0 478.1 614.0 456.5 619.0 438.4 621.0Z"/>
<path fill="none" stroke="#000" stroke-opacity="0.36" stroke-width="0.8" d="M788.8 655.9 797.1 653.6M750.8 655.9 797.1 641.8M716.8 655.9 797.1 629.9M685.4 655.9 737.7 638.8 797.1 617.7M655.0 655.9 685.4 646.4 719.8 634.6 762.8 618.8 797.1 605.3M101.5 648.2 133.0 651.7 161.5 655.9M624.1 655.9 659.7 645.5 696.9 632.8 751.3 612.0 797.1 592.8M101.5 638.5 127.2 641.3 153.0 645.0 178.8 649.6 209.3 655.9M589.5 655.9 611.0 651.0 631.0 645.6 651.1 639.5 674.0 631.6 705.5 619.5 742.3 604.6 771.3 592.1 797.1 580.1M101.5 628.7 133.0 632.3 161.6 636.8 184.5 641.4 248.9 655.9M542.4 655.9 573.8 651.1 599.6 645.8 625.3 639.0 651.1 630.7 682.6 618.8 723.4 601.7 765.6 582.8 797.1 567.5M101.5 618.8 133.0 622.3 161.6 627.0 187.4 632.6 250.3 648.2 270.4 652.2 292.6 655.9M484.5 655.9 536.6 649.5 570.9 644.2 599.6 638.1 628.2 630.0 659.4 618.8 693.1 604.6 754.1 576.5 797.1 554.9M101.5 608.9 133.0 612.2 161.6 616.9 187.4 622.9 233.0 635.9 256.1 641.7 281.8 646.9 310.4 651.1 344.8 654.1 382.0 655.3 419.2 654.7 459.3 651.9 513.7 645.7 559.5 639.4 588.1 633.7 619.6 624.7 648.2 614.4 677.6 601.7 745.5 569.1 797.1 542.7M101.5 598.7 135.8 602.3 164.5 607.2 187.4 613.0 232.2 627.4 253.2 633.3 279.0 639.1 307.6 643.8 344.8 647.4 382.0 648.8 422.1 648.2 459.3 645.5 525.1 637.9 562.3 632.5 588.1 627.0 613.9 619.2 637.7 610.3 665.4 597.9 737.2 561.8 779.9 539.4 797.1 530.9M101.5 588.5 138.7 592.1 167.3 597.2 190.2 603.6 231.6 618.8 253.2 625.6 279.0 631.9 307.6 637.0 344.8 640.8 382.0 642.5 422.1 642.0 459.3 639.3 530.9 630.9 562.3 626.4 588.1 620.7 611.8 613.1 631.0 605.5 651.2 596.0 699.7 569.8 745.5 545.9 773.2 530.5 797.1 519.9M101.5 578.2 141.6 581.7 158.7 584.3 173.0 587.4 193.1 593.8 231.4 610.3 250.3 617.1 279.0 624.8 304.7 629.8 339.1 633.9 379.1 636.1 419.2 635.9 456.4 633.4 533.7 624.3 559.5 620.6 582.4 615.8 608.1 607.6 628.2 599.4 646.6 590.3 691.2 563.4 739.8 537.4 765.6 522.8 779.9 516.2 797.1 509.8M101.5 567.8 127.2 569.3 147.3 571.2 164.5 573.8 178.8 577.1 190.2 580.9 198.8 584.5 231.5 601.7 247.5 608.5 258.9 612.3 276.1 617.0 301.9 622.6 336.2 627.1 376.3 629.7 416.4 629.9 450.7 627.8 480.1 624.5 559.5 614.0 582.4 609.0 605.3 601.6 625.3 593.3 642.2 584.6 656.1 576.1 685.4 555.4 754.1 517.7 774.2 508.7 797.1 500.5M101.5 557.3 130.1 558.5 153.0 560.2 170.2 562.5 184.5 565.7 193.1 568.7 201.7 572.8 210.3 578.2 230.3 592.0 238.9 596.9 247.5 600.9 258.9 605.0 279.0 610.6 301.9 615.9 336.2 620.6 373.4 623.3 413.5 623.8 445.0 622.2 471.8 618.8 513.7 612.0 562.3 606.1 582.4 601.8 602.4 595.4 622.5 586.9 642.1 576.1 656.8 565.9 679.7 547.5 688.3 541.9 699.7 535.6 754.1 507.7 775.7 499.1 797.1 491.7M101.5 546.8 138.7 547.6 164.5 548.9 184.5 551.1 195.9 553.8 201.7 556.2 207.4 559.6 213.1 564.5 229.8 581.8 236.0 586.6 247.1 593.2 258.9 598.0 273.2 601.0 299.0 607.7 312.1 610.3 333.0 613.1 366.4 616.0 402.0 616.7 433.5 615.5 452.0 613.1 466.2 610.3 502.2 600.5 510.8 599.6 542.3 599.4 559.5 598.2 579.5 594.7 599.6 588.7 619.6 580.1 636.8 570.3 652.3 559.0 676.8 537.3 682.6 533.2 691.2 528.3 745.5 502.0 767.7 493.4 797.1 483.2M468.9 482.0 476.5 483.9 482.2 486.1 487.9 488.9 493.6 492.7 497.7 496.3 502.2 501.5 505.1 506.4 506.7 510.5 507.7 516.2 507.7 519.1 506.5 524.8 504.1 530.5 500.1 536.2 496.5 539.7 493.6 541.7 487.9 544.2 479.3 545.8 470.7 545.5 462.2 543.1 456.4 540.3 450.7 536.1 445.3 530.5 441.5 524.8 438.1 516.2 436.9 507.7 437.4 502.0 439.2 496.3 442.9 490.6 447.8 486.2 456.4 482.2 462.2 481.4 468.9 482.0M101.5 536.2 181.6 535.6 198.8 534.6 207.4 533.0 212.5 530.5 215.4 527.6 225.2 510.5 229.8 504.8 231.3 502.0 236.7 496.3 241.7 492.0 244.6 491.0 247.5 489.1 250.3 488.2 258.9 483.6 270.4 482.5 276.1 480.3 279.0 480.6 284.7 480.2 293.3 477.9 305.2 473.5 315.5 470.6 329.0 467.8 346.9 464.9 379.1 461.6 419.2 460.1 436.4 460.5 450.7 461.6 462.2 463.4 473.6 466.0 485.1 469.8 492.8 473.5 501.6 479.2 508.0 484.5 513.6 490.6 517.7 496.3 520.8 502.0 523.0 507.7 524.3 513.4 524.8 519.1 523.8 530.5 518.1 550.4 516.4 561.8 517.3 570.4 520.2 576.1 522.7 578.9 526.2 581.8 530.9 584.2 539.4 586.8 553.8 588.4 568.1 587.9 582.4 585.4 596.7 581.2 611.0 575.4 625.3 567.8 634.6 561.8 645.5 553.3 671.1 528.5 676.8 524.1 685.4 519.0 710.0 507.7 742.7 493.8 765.6 485.4 797.1 474.9M101.5 525.6 138.7 524.5 161.6 523.2 178.8 521.2 193.1 517.8 201.7 514.2 207.4 510.6 231.3 490.6 238.9 485.5 244.6 482.5 256.1 477.6 276.9 470.6 286.1 467.8 301.9 464.0 336.2 458.2 376.3 454.0 416.4 452.5 433.5 452.8 447.8 453.9 462.2 455.9 473.6 458.2 485.1 461.3 493.6 464.4 501.0 467.8 508.0 471.7 514.3 476.3 520.6 482.0 525.8 487.7 531.5 496.3 534.3 502.0 537.1 510.5 538.5 521.9 537.5 544.7 537.7 556.1 539.0 561.8 540.4 564.7 545.2 570.2 550.9 573.5 560.7 576.1 573.8 576.5 585.2 574.7 596.7 571.3 611.0 565.2 622.5 558.8 631.0 552.8 640.6 544.7 648.9 536.2 658.8 524.8 664.7 519.1 672.4 513.4 679.7 509.3 704.0 499.1 739.8 485.4 765.6 476.6 797.1 466.7M101.5 515.1 130.1 513.7 153.0 511.8 170.2 509.4 184.5 506.0 193.1 503.1 201.7 499.2 229.6 482.0 247.5 473.3 261.8 467.9 279.0 462.4 304.7 456.3 341.9 450.4 379.1 446.8 416.4 445.5 433.5 445.8 447.8 446.9 462.2 448.7 473.6 450.8 485.1 453.7 496.5 457.4 505.1 461.0 513.7 465.6 521.4 470.6 528.5 476.3 534.5 482.0 539.3 487.7 543.1 493.4 547.4 502.0 550.8 513.4 556.1 544.7 557.9 550.4 559.4 553.3 562.3 556.6 568.1 560.1 573.8 561.7 582.4 562.1 591.0 560.7 599.6 557.8 609.6 553.3 619.6 547.2 626.6 541.9 633.9 535.0 648.2 517.5 653.9 511.6 662.5 504.9 671.1 500.2 697.3 490.6 737.0 477.0 797.1 458.6M101.5 504.6 127.2 502.9 147.3 500.9 164.5 498.2 178.8 494.9 195.9 489.0 233.2 471.1 250.3 464.1 279.0 455.1 304.7 449.2 339.1 443.6 376.3 439.8 410.6 438.3 442.1 439.1 467.9 442.2 490.8 447.4 502.2 451.2 510.8 454.8 519.7 459.2 529.2 464.9 537.1 470.6 543.8 476.3 549.2 482.0 555.8 490.6 564.1 504.8 575.4 530.5 579.3 536.2 582.4 538.6 585.2 539.8 588.1 540.5 593.8 540.4 602.4 538.0 611.1 533.3 621.0 524.8 633.1 510.5 639.6 503.9 649.9 496.3 659.7 491.2 668.3 488.2 739.8 466.7 797.1 450.7M101.5 494.2 124.4 492.4 144.4 490.1 161.6 487.2 175.9 483.9 195.9 477.5 230.3 463.4 247.5 457.0 270.4 449.9 290.4 444.9 310.4 440.8 330.5 437.6 353.4 434.6 376.3 432.5 410.6 431.0 442.1 431.7 456.4 432.9 470.7 434.9 485.1 437.7 496.5 440.6 516.5 447.6 534.5 456.4 552.2 467.8 582.4 492.2 591.0 496.8 593.8 497.7 599.6 498.5 605.3 497.9 611.0 496.2 636.3 484.9 651.1 479.8 688.3 471.2 797.1 442.8M101.5 483.9 141.6 479.6 158.7 476.7 173.0 473.5 195.9 466.8 250.3 447.8 270.4 442.1 290.4 437.4 310.4 433.4 333.3 429.8 356.2 427.0 379.1 425.0 410.6 423.6 439.3 424.1 465.0 426.3 487.9 430.1 508.0 435.2 528.2 442.1 541.6 447.8 570.9 462.0 582.4 466.9 593.8 470.2 605.3 471.4 616.7 470.9 651.1 466.9 674.0 463.4 705.5 456.7 797.1 434.9M101.5 473.7 133.0 470.3 161.6 465.5 187.4 459.1 244.6 441.2 276.1 432.9 316.2 425.0 360.0 419.3M470.2 419.3 490.8 422.6 513.9 427.9 533.1 433.6 570.9 446.6 588.1 451.4 608.1 454.6 631.0 455.8 653.9 455.0 682.6 451.1 714.1 445.0 797.1 427.1M101.5 463.6 135.8 459.6 167.3 454.0 190.2 448.4 258.9 429.2 281.8 423.9 305.9 419.3M513.8 419.3 536.6 425.0 573.8 435.3 593.8 439.9 616.7 443.4 636.8 444.5 662.5 443.3 691.2 439.5 719.8 434.5 797.1 419.3M101.5 453.6 135.8 449.5 167.3 444.0 190.2 438.7 241.7 425.3 267.1 419.3M548.6 419.3 579.5 426.6 599.6 430.5 619.6 432.9 639.6 433.7 662.5 432.8 685.4 430.5 714.1 426.2 753.4 419.3M101.5 443.8 133.0 440.0 161.6 435.3 190.2 429.3 232.0 419.3M592.5 419.3 616.7 422.3 642.5 423.4 668.3 422.3 697.5 419.3M101.5 434.0 147.3 428.1 193.6 419.3M101.5 424.3 142.0 419.3"/>
<circle cx="276.1" cy="539.0" r="61.3" fill="#fff"/>
<circle cx="276.1" cy="539.0" r="57.2" fill="#c8c8c8" stroke="#111" stroke-width="1.6"/>
</g>
<rect x="104.4" y="425.0" width="687.0" height="228.0" fill="none" stroke="#444" stroke-width="1.1"/>
<path d="M133.0 653.0V646.5M161.6 653.0V639.0M190.2 653.0V646.5M218.9 653.0V646.5M247.5 653.0V646.5M276.1 653.0V639.0M304.7 653.0V646.5M333.4 653.0V646.5M362.0 653.0V646.5M390.6 653.0V639.0M419.2 653.0V646.5M447.9 653.0V646.5M476.5 653.0V646.5M505.1 653.0V639.0M533.7 653.0V646.5M562.4 653.0V646.5M591.0 653.0V646.5M619.6 653.0V639.0M648.2 653.0V646.5M676.9 653.0V646.5M705.5 653.0V646.5M734.1 653.0V639.0M762.7 653.0V646.5M104.4 624.5H110.4M104.4 596.0H110.4M104.4 567.5H110.4M104.4 539.0H118.4M104.4 510.5H110.4M104.4 482.0H110.4M104.4 453.5H110.4" stroke="#222" stroke-width="1.3" fill="none"/>
<text x="161.6" y="688.7" font-size="36" text-anchor="middle">−1</text>
<text x="276.1" y="688.7" font-size="36" text-anchor="middle">0</text>
<text x="390.6" y="688.7" font-size="36" text-anchor="middle">1</text>
<text x="505.1" y="688.7" font-size="36" text-anchor="middle">2</text>
<text x="619.6" y="688.7" font-size="36" text-anchor="middle">3</text>
<text x="734.1" y="688.7" font-size="36" text-anchor="middle">4</text>
<text x="100.4" y="439.3" font-size="36" text-anchor="end">1</text>
<text x="100.4" y="551.1" font-size="36" text-anchor="end">0</text>
<text x="100.4" y="666.4" font-size="36" text-anchor="end">−1</text>
<text x="1" y="550.6" font-size="40" font-style="italic">y/D</text>
<text x="4.9" y="400.2" font-size="42">(<tspan font-style="italic">c</tspan>)</text>
<text x="67.5" y="400.2" font-size="42" font-style="italic">t/τ</text>
<text x="107.2" y="413.2" font-size="34" font-style="italic">s</text>
<text x="129.7" y="400.2" font-size="42">=</text>
<text x="164.5" y="400.2" font-size="42" letter-spacing="-1.4">0.405</text>
<clipPath id="clipd"><rect x="905.9" y="424.7" width="688.8" height="228.3"/></clipPath>
<g clip-path="url(#clipd)">
<path fill="#00ffff" fill-rule="evenodd" d="M1330.9 552.8 1324.9 553.5 1316.5 551.7 1290.9 542.0 1282.9 537.8 1280.4 535.7 1277.4 530.7 1272.8 518.7 1272.3 513.7 1273.2 510.7 1278.5 500.7 1288.9 488.7 1289.1 486.7 1287.9 484.6 1283.9 482.3 1269.9 479.3 1244.9 476.4 1229.9 476.9 1223.9 476.1 1196.9 476.4 1175.9 476.7 1112.9 481.3 1100.9 481.6 1097.9 481.2 1096.9 480.4 1094.9 480.4 1093.9 479.5 1090.9 479.5 1089.9 478.5 1083.9 478.5 1082.9 477.5 1072.9 477.3 1071.9 478.2 1065.9 478.2 1064.9 479.2 1061.9 479.1 1060.9 480.1 1055.9 481.1 1046.9 486.0 1045.9 486.1 1039.9 491.0 1038.9 491.0 1035.1 494.7 1030.1 499.7 1030.0 500.7 1027.0 503.7 1027.0 504.7 1025.9 505.8 1024.9 506.0 1024.2 504.7 1024.9 502.7 1030.9 493.7 1036.8 487.7 1040.8 484.7 1049.5 479.7 1057.9 476.4 1063.2 471.7 1069.9 467.7 1083.9 463.0 1124.9 458.1 1157.9 455.0 1175.9 453.9 1222.9 453.1 1228.9 452.2 1272.9 454.1 1302.9 457.1 1335.8 463.7 1348.9 467.3 1355.9 470.2 1360.0 472.7 1365.4 477.7 1380.6 496.7 1384.2 499.7 1380.4 514.7 1380.1 541.7 1379.4 544.7 1377.5 547.7 1373.9 550.0 1365.9 551.7 1343.9 549.8 1338.9 550.5 1330.9 552.8Z"/>
<path fill="#00e8ff" fill-rule="evenodd" d="M1344.9 545.9 1328.9 546.4 1319.9 545.2 1310.9 542.4 1298.9 540.2 1290.9 538.0 1284.9 535.1 1280.5 530.7 1273.4 518.7 1272.7 514.7 1273.4 511.7 1277.4 504.7 1287.0 491.7 1289.9 488.4 1293.9 485.2 1300.6 481.7 1300.1 480.7 1298.9 480.4 1276.9 477.5 1246.9 475.3 1175.9 476.3 1100.9 481.2 1094.9 480.2 1093.9 479.3 1090.9 479.3 1089.9 478.4 1083.9 478.4 1082.9 477.4 1072.9 477.0 1071.9 478.0 1065.9 477.9 1064.9 478.9 1061.9 478.8 1060.9 479.8 1055.9 480.8 1046.9 485.4 1046.0 484.7 1052.7 480.7 1060.0 477.7 1061.2 475.7 1066.0 471.7 1074.6 466.7 1078.9 465.0 1084.9 463.3 1090.9 462.5 1126.9 458.4 1176.9 454.4 1245.9 453.1 1282.9 455.6 1306.9 458.7 1316.9 461.3 1325.9 464.7 1333.9 469.7 1340.9 476.4 1350.9 478.4 1356.9 481.5 1366.3 490.7 1369.2 494.7 1372.4 500.7 1374.3 507.7 1375.0 517.7 1374.3 526.7 1373.3 530.7 1371.3 534.7 1367.7 538.7 1362.9 542.0 1352.9 545.0 1344.9 545.9ZM1045.9 485.7 1044.9 486.2 1044.6 485.7 1045.9 484.8 1046.4 485.7 1045.9 485.7ZM1043.9 487.0 1043.4 486.7 1043.9 486.3 1044.5 486.7 1043.9 487.0Z"/>
<path fill="#00bfff" fill-rule="evenodd" d="M1334.9 545.8 1328.9 545.9 1320.9 544.7 1304.9 539.9 1291.9 535.0 1284.9 531.2 1280.9 528.1 1276.9 523.6 1273.9 518.5 1273.6 512.7 1274.9 509.7 1286.9 492.6 1291.9 487.5 1303.5 480.7 1286.9 477.9 1246.9 474.7 1172.9 476.0 1100.9 480.8 1097.9 480.8 1096.9 480.1 1094.9 480.1 1093.9 479.2 1090.9 479.2 1089.9 478.3 1083.9 478.3 1082.9 477.3 1072.9 476.8 1071.9 477.7 1067.4 477.7 1066.0 476.7 1066.0 475.7 1067.6 473.7 1071.9 470.6 1074.6 467.7 1078.7 465.7 1084.9 463.8 1125.9 459.0 1170.9 455.2 1245.9 453.5 1288.9 456.7 1301.9 458.5 1311.7 460.7 1322.9 464.7 1329.9 468.5 1336.8 474.7 1340.9 480.7 1342.9 482.2 1349.9 485.2 1352.9 487.4 1357.2 492.7 1368.3 511.7 1369.3 517.7 1368.4 523.7 1365.3 531.7 1361.3 537.7 1356.9 541.2 1351.9 543.2 1342.9 545.1 1334.9 545.8Z"/>
<path fill="#0090ff" fill-rule="evenodd" d="M1337.9 539.9 1324.9 540.1 1312.9 537.2 1311.9 536.4 1309.9 536.2 1308.9 535.3 1304.9 534.2 1294.9 528.2 1284.5 517.7 1283.4 515.7 1283.0 512.7 1284.4 508.7 1289.9 502.6 1299.9 493.3 1304.9 490.2 1309.9 488.2 1317.9 486.2 1323.0 485.7 1305.9 480.3 1295.9 478.3 1287.9 477.4 1246.9 474.2 1176.9 475.5 1110.9 480.1 1097.9 480.4 1094.9 479.9 1093.9 479.1 1090.9 479.1 1089.9 478.2 1083.9 478.1 1082.9 477.2 1074.4 476.7 1073.3 474.7 1073.3 471.7 1074.1 469.7 1076.9 467.4 1081.9 465.2 1086.9 464.0 1125.9 459.4 1176.9 455.3 1245.9 454.0 1284.9 457.0 1308.1 460.7 1322.0 465.7 1327.4 468.7 1332.4 472.7 1335.0 475.7 1337.7 480.7 1338.9 485.7 1338.1 488.7 1344.9 493.4 1350.4 498.7 1355.4 507.7 1357.2 513.7 1358.3 521.7 1357.3 528.7 1355.4 532.7 1349.9 537.1 1342.9 539.2 1337.9 539.9Z"/>
<path fill="#0060ff" fill-rule="evenodd" d="M1331.9 483.8 1329.9 484.4 1325.9 484.1 1304.9 479.1 1294.9 477.3 1246.9 473.8 1175.9 475.1 1110.6 479.7 1097.9 479.9 1090.9 479.0 1089.9 478.1 1083.9 478.0 1082.9 477.1 1076.1 476.7 1074.8 474.7 1074.5 472.7 1075.6 469.7 1077.8 467.7 1084.9 464.8 1122.9 460.1 1176.5 455.7 1245.9 454.4 1288.9 458.1 1301.9 460.3 1311.4 462.7 1322.6 467.7 1329.9 473.3 1332.4 476.7 1333.6 479.7 1333.5 481.7 1331.9 483.8ZM1338.9 533.0 1329.9 533.2 1325.9 532.2 1320.9 532.1 1318.9 531.2 1315.9 531.1 1314.9 530.3 1312.9 530.2 1307.9 528.2 1302.9 525.0 1295.4 517.7 1294.4 515.7 1294.8 511.7 1298.9 507.2 1304.9 503.4 1310.9 501.2 1313.9 501.1 1315.9 500.3 1321.9 500.3 1323.9 501.1 1326.9 501.2 1334.9 504.6 1340.9 508.2 1346.4 513.7 1349.3 518.7 1350.4 522.7 1349.4 526.7 1345.9 530.2 1338.9 533.0Z"/>
<path fill="#0020ff" fill-rule="evenodd" d="M1323.9 480.7 1316.9 480.2 1295.9 476.5 1246.9 473.4 1176.9 474.6 1108.9 479.4 1094.9 479.5 1093.9 478.9 1090.9 478.9 1089.9 478.0 1083.9 477.9 1082.9 477.0 1077.7 476.7 1076.2 474.7 1075.8 472.7 1076.3 470.7 1078.0 468.7 1084.9 465.4 1121.4 460.7 1176.9 456.1 1245.9 454.8 1287.7 458.7 1301.9 461.2 1310.6 463.7 1319.2 467.7 1326.4 473.7 1327.9 476.1 1328.1 478.7 1326.9 480.0 1323.9 480.7ZM1322.9 525.8 1313.9 526.2 1312.9 525.2 1311.9 525.1 1307.4 519.7 1307.4 518.7 1305.5 515.7 1305.4 512.7 1308.9 510.2 1315.9 508.2 1322.9 508.3 1324.9 509.2 1326.9 509.3 1330.4 512.7 1330.4 513.7 1331.4 514.7 1331.4 518.7 1330.4 520.7 1326.9 524.2 1322.9 525.8Z"/>
<path fill="#0000ff" fill-rule="evenodd" d="M1111.9 478.7 1094.9 479.0 1090.9 478.8 1089.9 477.9 1083.9 477.8 1082.9 476.9 1078.9 476.2 1077.3 473.7 1077.3 471.7 1079.5 468.7 1085.9 465.7 1125.9 460.7 1176.9 456.6 1245.9 455.3 1281.7 458.7 1303.1 462.7 1309.3 464.7 1315.5 467.7 1319.3 470.7 1320.8 472.7 1321.4 474.7 1320.2 476.7 1315.9 477.7 1295.9 475.5 1246.9 472.9 1189.9 473.7 1161.9 474.9 1111.9 478.7ZM1321.9 525.2 1315.9 525.2 1311.9 523.1 1309.4 518.7 1309.4 514.7 1312.9 512.3 1314.9 512.2 1316.9 511.2 1320.9 511.2 1321.9 512.2 1323.9 512.2 1325.8 513.7 1327.4 515.7 1328.2 518.7 1327.4 520.7 1323.9 524.2 1322.9 524.2 1321.9 525.2Z"/>
<path fill="#0000ff" fill-rule="evenodd" d="M1118.9 477.7 1103.9 478.5 1083.9 477.7 1079.9 475.7 1078.5 472.7 1079.1 470.7 1080.9 468.7 1085.9 466.3 1122.9 461.5 1176.9 457.1 1245.9 455.8 1275.4 458.7 1294.1 461.7 1304.8 464.7 1309.4 466.7 1313.8 469.7 1315.3 472.7 1314.8 473.7 1312.9 474.7 1308.9 475.1 1246.9 472.4 1183.9 473.4 1161.9 474.4 1118.9 477.7Z"/>
<path fill="#0000c8" fill-rule="evenodd" d="M1111.9 477.8 1086.9 477.6 1081.7 475.7 1080.2 473.7 1080.1 471.7 1082.6 468.7 1086.9 466.8 1126.0 461.7 1176.9 457.6 1245.9 456.4 1269.0 458.7 1288.9 461.8 1304.1 466.7 1307.1 468.7 1308.1 470.7 1307.4 471.7 1304.9 472.5 1291.9 473.0 1246.9 471.8 1177.9 473.0 1111.9 477.8Z"/>
<path fill="#00008c" fill-rule="evenodd" d="M1117.9 476.7 1107.9 477.4 1086.9 476.8 1082.5 474.7 1081.8 473.7 1081.6 471.7 1082.9 469.7 1084.9 468.3 1091.4 466.7 1107.9 464.2 1143.0 460.7 1176.9 458.2 1245.9 456.9 1270.3 459.7 1283.9 462.0 1293.6 464.7 1297.1 466.7 1299.0 468.7 1298.1 469.7 1295.2 470.7 1286.9 471.7 1246.9 471.3 1182.9 472.3 1161.9 473.3 1117.9 476.7Z"/>
<path fill="#80ff00" fill-rule="evenodd" d="M1000.9 499.0 999.4 497.7 999.3 496.7 1000.9 495.3 1002.5 496.7 1002.5 497.7 1000.9 499.0ZM1361.9 627.7 1337.9 628.3 1272.9 625.5 1259.9 626.1 1250.9 624.8 1242.9 625.5 1222.9 625.6 1181.9 624.3 1154.9 622.3 1126.9 619.3 1091.9 614.3 1082.9 612.2 1069.9 605.2 1053.9 600.7 1043.8 595.7 1037.9 591.7 1031.3 585.7 1025.9 579.7 1021.9 573.8 1021.8 570.7 1023.9 568.7 1025.0 569.7 1026.0 572.7 1029.0 575.7 1029.1 576.7 1040.9 588.4 1041.9 588.4 1046.9 592.3 1047.9 592.4 1054.9 596.3 1059.9 597.3 1060.9 598.2 1063.9 598.3 1064.9 599.2 1068.9 599.3 1069.9 600.2 1085.9 599.9 1086.9 598.9 1090.9 598.9 1091.9 597.9 1094.9 597.9 1095.9 597.0 1097.9 597.0 1098.9 596.1 1103.9 595.1 1174.5 600.7 1233.9 602.6 1240.9 600.1 1247.6 596.7 1250.0 588.7 1251.9 585.6 1254.4 583.7 1256.9 574.1 1258.1 571.7 1259.9 570.1 1261.9 569.6 1268.9 570.1 1284.9 568.9 1290.9 569.1 1293.9 570.4 1296.9 574.3 1298.9 575.9 1306.9 579.9 1311.9 581.3 1323.9 580.5 1326.7 580.7 1328.9 581.7 1330.9 584.7 1335.5 599.7 1337.9 601.9 1343.9 602.6 1355.9 601.0 1362.9 598.0 1370.3 588.7 1379.9 584.2 1381.8 582.7 1383.1 580.7 1384.5 574.7 1385.9 573.4 1389.9 572.9 1394.9 573.5 1397.7 574.7 1402.9 579.1 1408.9 580.4 1412.9 579.9 1413.7 578.7 1413.1 576.7 1406.9 568.6 1406.4 564.7 1407.9 563.2 1409.9 562.4 1422.9 562.0 1425.9 560.9 1427.2 559.7 1428.3 556.7 1428.6 545.7 1433.8 529.7 1437.9 523.0 1443.9 519.5 1454.6 517.7 1462.9 517.5 1478.9 520.3 1490.5 523.7 1495.9 526.7 1500.9 531.9 1502.9 535.7 1503.2 541.7 1504.5 543.7 1508.9 546.0 1515.9 548.3 1517.9 549.7 1519.4 551.7 1519.6 553.7 1518.9 556.2 1511.6 563.7 1509.7 567.7 1510.8 571.7 1515.0 578.7 1515.3 580.7 1514.1 583.7 1509.9 588.0 1503.9 591.9 1492.9 596.9 1481.9 600.4 1478.9 602.0 1477.4 603.7 1477.5 605.7 1479.0 608.7 1477.9 610.0 1467.9 612.1 1442.9 614.4 1438.9 615.4 1437.6 616.7 1437.9 621.7 1437.3 622.7 1432.4 624.7 1426.9 625.8 1413.9 626.8 1381.9 626.6 1361.9 627.7Z"/>
<path fill="#d8ff00" fill-rule="evenodd" d="M1475.9 552.9 1472.9 553.2 1470.7 551.7 1470.5 547.7 1471.9 546.3 1475.9 546.3 1477.3 547.7 1477.2 551.7 1475.9 552.9ZM1458.9 581.0 1453.9 581.2 1451.5 579.7 1449.7 576.7 1449.5 573.7 1450.4 571.7 1452.1 569.7 1454.9 568.3 1456.9 568.2 1459.9 569.4 1462.4 572.7 1462.2 577.7 1458.9 581.0ZM1268.9 624.8 1259.9 625.3 1254.9 624.9 1252.9 624.2 1239.9 625.1 1222.9 625.2 1185.9 623.9 1157.9 622.0 1104.9 615.9 1083.9 611.9 1077.4 608.7 1068.9 603.0 1059.9 600.5 1051.9 597.1 1042.1 590.7 1042.9 590.1 1054.9 596.6 1059.9 597.6 1060.9 598.5 1063.9 598.6 1064.9 599.5 1068.9 599.5 1069.9 600.5 1085.9 600.0 1086.9 599.0 1090.9 599.0 1091.9 598.0 1094.9 598.0 1095.9 597.1 1097.9 597.1 1098.9 596.2 1103.9 595.7 1172.9 601.1 1215.9 602.8 1239.9 602.9 1245.9 602.3 1248.4 596.7 1250.7 588.7 1252.7 585.7 1254.9 584.2 1260.9 582.3 1274.9 580.4 1279.9 580.4 1292.9 582.3 1307.9 586.2 1312.9 586.0 1316.9 587.2 1319.9 589.3 1321.7 591.7 1322.9 594.7 1323.4 598.7 1331.9 608.1 1336.9 611.0 1351.9 616.4 1353.6 617.7 1348.9 619.0 1337.9 620.1 1308.9 622.1 1279.9 623.2 1268.9 624.8ZM1041.9 590.3 1041.1 589.7 1042.3 589.7 1041.9 590.3ZM1384.9 607.7 1381.9 607.9 1377.9 607.2 1376.3 605.7 1382.9 600.3 1394.9 593.2 1398.9 592.2 1400.9 593.7 1403.1 597.7 1402.3 599.7 1400.9 601.0 1391.9 606.2 1384.9 607.7Z"/>
<path fill="#ffff00" fill-rule="evenodd" d="M1238.9 624.7 1208.9 624.4 1172.3 622.7 1149.9 620.7 1105.9 615.6 1089.0 612.7 1082.9 610.9 1074.4 605.7 1072.8 603.7 1072.3 600.7 1085.9 600.1 1086.9 599.1 1090.9 599.1 1091.9 598.1 1094.9 598.1 1095.9 597.2 1101.9 596.1 1171.9 601.4 1210.9 603.1 1238.9 603.4 1246.5 602.7 1250.4 594.7 1253.9 592.2 1257.9 591.2 1267.9 590.7 1289.9 591.2 1295.9 592.2 1311.9 587.8 1316.9 589.3 1318.9 590.9 1320.7 593.7 1321.4 597.7 1320.4 601.7 1318.1 604.7 1314.9 606.8 1314.3 611.7 1312.9 613.5 1308.9 616.2 1293.9 619.2 1266.9 621.0 1255.9 623.3 1238.9 624.7ZM1068.9 600.8 1068.4 600.7 1069.7 600.7 1068.9 600.8Z"/>
<path fill="#ffff00" fill-rule="evenodd" d="M1247.9 623.7 1221.9 624.2 1176.9 622.5 1154.0 620.7 1117.4 616.7 1104.9 615.0 1084.9 611.3 1077.0 606.7 1074.4 603.7 1074.0 601.7 1074.3 600.7 1085.9 600.2 1086.9 599.2 1090.9 599.2 1091.9 598.3 1094.9 598.3 1095.9 597.4 1097.9 597.4 1098.9 596.6 1103.9 596.5 1172.9 601.9 1209.9 603.6 1238.9 603.9 1250.9 602.8 1266.9 599.3 1281.9 597.0 1310.9 590.1 1313.9 590.4 1315.9 591.3 1318.6 594.7 1319.0 598.7 1316.9 602.7 1310.4 607.7 1301.9 612.2 1279.9 618.1 1247.9 623.7Z"/>
<path fill="#ffc800" fill-rule="evenodd" d="M1239.9 623.7 1214.9 623.6 1171.2 621.7 1105.9 614.8 1084.9 610.7 1079.6 607.7 1077.2 605.7 1075.9 603.7 1075.7 601.7 1076.2 600.7 1085.9 600.3 1086.9 599.3 1090.9 599.3 1091.9 598.4 1094.9 598.4 1095.9 597.5 1098.9 597.0 1104.9 597.0 1171.9 602.4 1210.9 604.1 1238.9 604.3 1251.9 603.1 1305.9 593.3 1312.9 593.6 1315.3 595.7 1315.5 598.7 1311.0 604.7 1305.5 608.7 1299.5 611.7 1279.9 617.3 1258.9 621.6 1239.9 623.7Z"/>
<path fill="#ffa000" fill-rule="evenodd" d="M1247.9 622.7 1222.9 623.3 1179.4 621.7 1154.9 619.8 1122.9 616.4 1104.9 614.1 1085.9 610.3 1079.6 606.7 1077.9 604.7 1077.2 602.7 1078.2 600.7 1085.9 600.4 1086.9 599.4 1090.9 599.4 1091.9 598.5 1094.9 598.5 1095.9 597.6 1106.9 597.5 1171.9 602.9 1208.9 604.5 1234.9 604.9 1248.9 604.1 1267.9 600.4 1301.9 596.2 1306.9 596.5 1308.9 597.6 1309.6 598.7 1309.4 601.7 1307.2 604.7 1301.9 608.7 1295.7 611.7 1275.9 617.5 1247.9 622.7Z"/>
<path fill="#ff7000" fill-rule="evenodd" d="M1239.9 622.7 1215.9 622.6 1176.9 621.0 1119.9 615.6 1104.9 613.7 1086.0 609.7 1081.0 606.7 1079.3 604.7 1078.9 602.7 1080.2 600.7 1085.9 600.5 1086.9 599.5 1090.9 599.5 1091.9 598.6 1094.9 598.6 1095.9 598.0 1101.9 597.9 1167.9 603.1 1221.9 605.4 1245.9 604.9 1267.9 600.9 1291.9 598.7 1300.9 599.3 1302.9 600.1 1303.9 601.7 1302.7 604.7 1298.1 608.7 1291.9 611.7 1280.3 615.7 1255.9 621.1 1239.9 622.7Z"/>
<path fill="#ff4000" fill-rule="evenodd" d="M1246.9 621.7 1222.9 622.2 1181.2 620.7 1155.9 618.8 1125.6 615.7 1104.9 613.1 1088.7 609.7 1085.5 608.7 1082.5 606.7 1080.8 604.7 1080.6 602.7 1082.3 600.7 1085.9 600.6 1086.9 599.6 1090.9 599.6 1091.9 598.8 1105.9 598.5 1166.9 603.6 1215.9 605.8 1242.9 605.7 1252.9 604.6 1267.9 601.5 1286.9 600.5 1294.9 601.2 1296.9 602.3 1297.8 603.7 1297.2 605.7 1294.0 608.7 1279.9 615.0 1260.2 619.7 1246.9 621.7Z"/>
<path fill="#ff1000" fill-rule="evenodd" d="M1249.9 620.8 1233.9 621.7 1208.9 621.2 1175.9 619.8 1150.2 617.7 1121.8 614.7 1100.6 611.7 1085.9 607.9 1083.1 605.7 1082.2 603.7 1083.2 601.7 1086.9 599.9 1105.9 599.0 1166.9 604.2 1209.9 606.2 1242.9 606.3 1252.9 605.2 1267.9 602.1 1274.9 601.6 1287.9 602.4 1290.9 603.4 1292.2 604.7 1291.8 606.7 1289.7 608.7 1278.2 614.7 1269.9 617.0 1249.9 620.8Z"/>
<path fill="#ff0000" fill-rule="evenodd" d="M1243.9 620.7 1221.9 620.9 1181.9 619.5 1157.0 617.7 1127.6 614.7 1105.9 612.1 1094.9 609.7 1085.9 606.7 1084.8 605.7 1084.1 603.7 1084.9 602.2 1086.9 601.0 1106.9 599.6 1166.9 604.9 1208.9 606.9 1242.9 607.0 1252.9 605.8 1267.9 602.8 1272.9 602.5 1280.9 603.3 1285.3 604.7 1286.5 605.7 1286.2 607.7 1283.1 610.7 1275.7 614.7 1257.9 618.9 1243.9 620.7Z"/>
<path fill="none" stroke="#000" stroke-opacity="0.36" stroke-width="0.8" d="M1591.6 655.9 1600.4 653.7M1549.3 655.9 1600.4 642.3M1509.8 655.9 1548.8 645.7 1600.4 630.7M1468.2 655.9 1497.1 649.5 1527.2 641.6 1560.3 631.8 1600.4 618.9M1417.0 655.9 1462.7 648.0 1502.9 638.6 1548.8 624.9 1600.4 607.0M903.0 647.8 934.6 651.2 966.7 655.9M1358.1 655.9 1439.7 643.5 1462.7 639.2 1485.6 633.9 1509.6 627.3 1536.3 618.8 1568.4 607.3 1600.4 594.9M903.0 638.1 928.9 640.8 954.7 644.4 980.5 649.0 1014.3 655.9M1316.8 655.9 1370.8 644.8 1425.4 637.2 1445.5 633.8 1465.5 629.8 1482.8 625.7 1508.6 618.2 1534.4 609.2 1569.1 595.9 1600.4 582.7M903.0 628.3 934.6 631.8 963.3 636.2 1054.9 655.9M1282.3 655.9 1362.2 638.3 1388.1 633.8 1436.8 626.8 1462.7 621.9 1479.9 617.7 1502.9 610.7 1527.8 601.6 1569.4 584.5 1600.4 570.4M903.0 618.4 934.6 621.8 960.4 625.9 986.3 631.3 1032.2 642.9 1055.1 648.1 1078.1 652.4 1103.4 655.9M1239.2 655.9 1261.8 652.8 1284.7 648.6 1345.0 634.3 1368.0 629.4 1434.0 618.8 1459.8 614.1 1474.2 610.7 1497.1 603.6 1517.3 595.9 1569.5 573.1 1600.4 558.3M903.0 608.4 937.5 612.1 966.2 617.0 989.1 622.4 1032.2 634.6 1052.3 639.7 1078.1 645.0 1101.1 648.5 1129.8 651.4 1161.3 652.8 1195.8 652.5 1227.3 650.7 1253.2 647.8 1276.1 643.8 1296.2 639.4 1362.2 622.7 1434.0 610.3 1459.8 605.4 1474.2 602.0 1494.2 595.6 1511.5 588.7 1575.5 558.8 1600.4 546.3M903.0 598.3 937.5 601.8 966.2 606.7 989.1 612.5 1032.2 626.3 1052.3 632.0 1075.2 637.2 1101.1 641.6 1132.6 644.9 1164.2 646.4 1198.6 646.1 1230.2 644.2 1253.2 641.6 1276.1 637.5 1302.0 631.3 1350.7 617.1 1362.2 614.2 1434.0 601.6 1462.7 595.5 1479.9 591.1 1494.2 586.3 1505.7 581.6 1534.4 567.0 1580.3 545.0 1600.4 534.7M903.0 588.0 940.3 591.6 957.6 594.3 971.9 597.3 992.0 603.1 1032.2 617.9 1049.4 623.5 1075.2 630.0 1101.1 634.8 1129.8 638.1 1164.2 640.0 1198.6 639.9 1233.1 637.9 1261.8 634.2 1290.5 627.8 1311.2 621.6 1345.0 609.1 1359.4 604.7 1370.8 602.5 1397.1 598.8 1434.0 592.5 1457.0 587.4 1482.8 580.3 1494.2 576.2 1502.9 572.5 1537.3 554.3 1600.4 523.6M903.0 577.7 943.2 581.1 960.4 583.8 974.8 586.9 994.9 593.3 1032.2 609.4 1049.4 615.8 1075.2 622.9 1101.1 628.0 1132.6 631.8 1167.1 633.7 1201.5 633.6 1235.9 631.6 1253.2 629.6 1267.5 627.1 1281.9 623.7 1296.2 619.4 1305.6 615.9 1318.4 610.2 1345.0 595.6 1356.5 591.5 1365.1 590.1 1399.5 587.5 1428.2 583.7 1454.1 578.3 1477.0 571.3 1488.7 567.4 1500.0 562.7 1534.4 544.1 1600.4 512.9M903.0 567.3 928.9 568.8 948.9 570.7 966.2 573.3 980.5 576.6 992.0 580.4 1000.6 584.1 1032.2 600.8 1047.2 607.3 1069.5 614.2 1098.2 620.9 1129.8 625.1 1164.2 627.3 1201.5 627.5 1235.9 625.7 1256.0 623.3 1270.4 620.3 1285.2 615.9 1298.8 610.2 1308.9 604.5 1319.4 595.9 1326.4 587.4 1332.6 575.9 1334.8 570.2 1335.1 567.4 1332.9 564.5 1316.3 557.8 1302.0 549.4 1296.2 545.1 1290.5 539.8 1287.2 536.0 1283.9 530.3 1282.0 524.6 1281.7 521.7 1282.1 516.0 1282.9 513.2 1284.7 509.5 1287.6 506.0 1290.5 503.7 1296.2 500.8 1302.0 499.5 1307.7 499.3 1313.4 500.0 1319.2 501.4 1324.9 503.7 1331.7 507.5 1336.4 511.0 1341.5 516.0 1347.4 524.6 1349.7 530.3 1351.0 536.0 1350.7 544.6 1345.8 558.8 1346.1 561.7 1349.8 564.5 1365.1 568.8 1385.2 572.7 1393.8 573.5 1411.0 573.8 1428.2 572.6 1445.5 569.5 1459.8 565.7 1479.8 558.8 1500.0 550.5 1520.1 539.3 1534.4 532.2 1600.4 502.7M903.0 556.8 931.7 557.9 954.7 559.7 971.9 562.0 986.3 565.2 994.9 568.2 1003.5 572.4 1032.2 591.8 1046.5 599.5 1060.9 604.7 1086.7 611.7 1098.2 614.2 1112.5 616.6 1129.8 618.6 1167.1 621.1 1201.5 621.3 1235.9 619.4 1260.2 615.9 1270.9 613.0 1278.2 610.2 1283.9 607.3 1292.1 601.6 1295.0 598.8 1298.7 593.1 1299.9 587.4 1299.5 584.5 1296.7 578.8 1290.5 571.4 1272.3 556.0 1264.7 547.4 1261.0 541.7 1258.3 536.0 1256.5 530.3 1255.5 524.6 1255.5 516.0 1256.6 510.3 1258.7 504.6 1262.2 498.9 1267.5 493.2 1271.3 490.3 1276.6 487.5 1284.7 484.2 1290.5 482.7 1296.2 482.1 1307.7 482.9 1313.4 484.1 1322.0 486.9 1333.5 492.2 1339.9 496.0 1347.8 501.8 1356.9 510.3 1365.7 521.7 1377.8 541.7 1382.3 547.2 1385.2 549.6 1391.3 553.1 1399.5 556.0 1411.0 558.3 1422.5 559.2 1431.1 559.3 1442.6 557.9 1454.1 555.2 1469.2 550.3 1494.2 539.8 1511.5 530.7 1524.6 524.6 1600.4 493.0M903.0 546.2 940.3 547.0 966.2 548.3 983.4 550.2 996.9 553.1 1003.5 555.7 1009.2 559.2 1015.0 564.2 1031.7 581.7 1037.9 586.4 1049.1 593.1 1060.9 597.9 1075.2 600.7 1102.5 607.3 1121.1 610.2 1156.7 613.0 1184.3 613.3 1207.2 612.0 1223.9 610.2 1239.0 607.3 1250.7 604.5 1257.1 601.6 1260.2 598.8 1261.3 595.9 1260.1 593.1 1256.0 590.2 1253.2 589.6 1244.6 590.2 1241.7 589.9 1235.9 588.0 1230.2 584.6 1224.5 579.9 1218.7 573.8 1210.1 561.3 1203.6 547.4 1198.9 533.1 1195.5 518.9 1189.4 487.5 1186.4 476.1 1186.9 473.2 1191.2 470.4 1202.0 467.5 1221.6 464.9 1250.3 463.5 1273.3 464.5 1287.6 466.1 1299.1 467.9 1313.4 471.4 1324.9 475.5 1333.5 479.5 1347.7 487.5 1356.1 493.2 1363.2 498.9 1370.8 506.2 1388.1 526.2 1393.8 531.3 1399.5 535.1 1405.3 537.8 1413.9 540.7 1425.4 542.9 1434.0 543.9 1439.7 543.7 1448.3 542.4 1462.7 538.2 1511.5 517.5 1571.7 495.0 1600.4 483.6M903.0 535.7 986.3 535.0 1000.6 534.1 1009.2 532.5 1013.9 530.3 1017.0 527.4 1027.0 510.3 1031.7 504.6 1033.1 501.8 1038.5 496.0 1043.7 491.7 1046.5 490.8 1049.4 488.8 1052.3 487.9 1060.9 483.4 1072.4 482.2 1078.1 480.0 1081.0 480.3 1086.7 479.6 1092.4 478.0 1113.2 470.4 1138.0 464.7 1164.2 460.5 1190.0 457.6 1227.3 455.1 1256.0 454.9 1287.6 457.5 1302.0 459.8 1313.4 462.4 1322.0 465.0 1333.5 469.3 1345.0 474.6 1356.5 480.7 1370.9 490.3 1393.8 509.4 1405.3 516.8 1411.0 519.4 1419.6 522.2 1436.8 525.1 1445.5 524.9 1456.9 522.3 1479.9 513.8 1505.7 506.5 1548.8 492.8 1600.4 474.6M903.0 525.1 960.4 522.8 977.6 521.0 989.2 518.9 997.7 516.2 1006.3 512.0 1015.0 505.7 1029.3 493.2 1037.0 487.5 1047.3 481.8 1060.9 476.1 1086.9 467.5 1112.5 461.3 1152.7 454.5 1190.0 450.3 1227.3 447.9 1256.0 447.7 1284.7 449.7 1310.6 453.8 1330.7 459.3 1352.0 467.5 1368.9 476.1 1396.7 492.4 1408.1 497.9 1419.6 501.6 1434.0 503.6 1442.6 503.5 1451.2 502.8 1488.5 497.5 1502.9 494.7 1522.9 489.7 1545.9 483.3 1600.4 465.9M903.0 514.5 951.8 511.5 969.0 509.2 980.5 506.9 992.0 503.5 1000.6 500.0 1009.2 495.3 1031.1 481.8 1043.7 475.3 1058.0 469.4 1081.0 461.8 1103.9 456.0 1132.6 450.4 1164.2 445.8 1195.8 442.5 1227.3 440.6 1256.0 440.3 1281.9 441.8 1307.7 445.2 1327.8 449.7 1347.9 455.8 1363.7 461.8 1393.8 474.8 1408.1 480.1 1425.4 484.1 1442.6 485.7 1479.9 485.6 1491.4 484.5 1505.7 482.2 1525.8 478.0 1545.9 473.1 1600.4 457.3M903.0 504.0 946.1 500.6 960.4 498.6 974.8 495.7 986.3 492.6 997.7 488.4 1032.2 471.8 1046.5 465.7 1063.7 459.5 1083.8 453.5 1109.7 447.4 1138.4 442.2 1169.9 437.7 1198.6 434.9 1230.2 433.0 1256.0 432.8 1281.9 434.1 1304.8 436.6 1324.9 440.3 1343.0 444.7 1362.1 450.4 1396.7 461.8 1413.9 466.5 1425.4 468.9 1439.7 471.0 1468.4 473.6 1491.4 472.7 1520.1 468.6 1554.5 461.1 1600.4 449.0M903.0 493.6 926.0 491.7 946.1 489.4 963.3 486.5 977.6 483.2 997.7 476.8 1034.4 461.8 1052.3 455.3 1075.2 448.2 1101.1 441.8 1126.9 436.7 1152.7 432.6 1178.5 429.3 1204.4 427.0 1230.2 425.6 1256.0 425.3 1281.9 426.4 1304.8 428.7 1324.9 431.8 1345.0 436.0 1402.4 451.3 1425.4 456.5 1448.3 460.5 1468.4 462.1 1491.4 461.6 1520.1 458.3 1554.5 451.6 1600.4 440.8M903.0 483.3 943.2 478.9 960.4 476.0 974.8 472.8 997.7 466.0 1035.0 452.6 1055.1 446.1 1078.1 439.6 1103.9 433.6 1129.8 428.7 1158.5 424.3 1187.2 421.0 1212.8 419.0M1284.4 419.0 1307.7 421.3 1330.7 424.7 1358.5 430.4 1425.4 446.2 1445.5 449.5 1465.5 451.2 1491.4 451.1 1520.1 448.2 1554.5 442.4 1600.4 432.6M903.0 473.0 937.5 469.2 969.0 463.5 992.0 457.5 1043.7 441.2 1072.4 433.2 1106.8 425.4 1143.8 419.0M1341.7 419.0 1425.4 436.4 1448.3 439.6 1471.3 441.1 1497.1 440.5 1525.8 437.7 1557.4 432.8 1600.4 424.6M903.0 462.9 940.3 458.4 971.9 452.5 994.9 446.7 1058.0 428.8 1100.6 419.0M1381.9 419.0 1413.9 425.1 1436.8 428.5 1459.8 430.6 1479.9 431.2 1502.9 430.4 1525.8 428.3 1551.6 424.9 1586.9 419.0M903.0 452.9 937.5 448.7 969.0 443.1 994.9 437.1 1064.8 419.0M1436.2 419.0 1456.9 420.8 1479.9 421.5 1502.9 420.9 1526.6 419.0M903.0 443.0 934.6 439.2 963.3 434.4 989.1 429.0 1030.4 419.0M903.0 433.2 948.9 427.2 992.1 419.0M903.0 423.5 939.6 419.0"/>
<circle cx="1078.1" cy="538.9" r="61.4" fill="#fff"/>
<circle cx="1078.1" cy="538.9" r="57.4" fill="#c8c8c8" stroke="#111" stroke-width="1.6"/>
</g>
<rect x="905.9" y="424.7" width="688.8" height="228.3" fill="none" stroke="#444" stroke-width="1.1"/>
<path d="M934.6 653.0V646.5M963.3 653.0V639.0M992.0 653.0V646.5M1020.7 653.0V646.5M1049.4 653.0V646.5M1078.1 653.0V639.0M1106.8 653.0V646.5M1135.5 653.0V646.5M1164.2 653.0V646.5M1192.9 653.0V639.0M1221.6 653.0V646.5M1250.3 653.0V646.5M1279.0 653.0V646.5M1307.7 653.0V639.0M1336.4 653.0V646.5M1365.1 653.0V646.5M1393.8 653.0V646.5M1422.5 653.0V639.0M1451.2 653.0V646.5M1479.9 653.0V646.5M1508.6 653.0V646.5M1537.3 653.0V639.0M1566.0 653.0V646.5M905.9 624.5H911.9M905.9 595.9H911.9M905.9 567.4H911.9M905.9 538.9H919.9M905.9 510.3H911.9M905.9 481.8H911.9M905.9 453.2H911.9" stroke="#222" stroke-width="1.3" fill="none"/>
<text x="963.3" y="689.2" font-size="36" text-anchor="middle">−1</text>
<text x="1078.1" y="689.2" font-size="36" text-anchor="middle">0</text>
<text x="1192.9" y="689.2" font-size="36" text-anchor="middle">1</text>
<text x="1307.7" y="689.2" font-size="36" text-anchor="middle">2</text>
<text x="1422.5" y="689.2" font-size="36" text-anchor="middle">3</text>
<text x="1537.3" y="689.2" font-size="36" text-anchor="middle">4</text>
<text x="897.9" y="439.3" font-size="36" text-anchor="end">1</text>
<text x="897.9" y="551.6" font-size="36" text-anchor="end">0</text>
<text x="897.9" y="666.4" font-size="36" text-anchor="end">−1</text>
<text x="818.2" y="400.2" font-size="42">(<tspan font-style="italic">d</tspan>)</text>
<text x="883.3" y="400.2" font-size="42" font-style="italic">t/τ</text>
<text x="923.4" y="413.2" font-size="34" font-style="italic">s</text>
<text x="946.0" y="400.2" font-size="42">=</text>
<text x="980.7" y="400.2" font-size="42" letter-spacing="-1.4">0.6075</text>
<clipPath id="clipe"><rect x="105.3" y="783.1" width="686.4" height="227.9"/></clipPath>
<g clip-path="url(#clipe)">
<path fill="#00ffff" fill-rule="evenodd" d="M591.3 920.4 587.3 921.1 583.3 920.5 555.3 912.6 521.3 896.4 513.0 891.1 504.1 882.1 498.8 875.1 497.0 871.1 497.1 869.1 498.2 867.1 504.3 861.0 506.4 858.1 509.2 851.1 509.6 849.1 509.0 846.1 507.3 843.7 502.3 840.8 488.3 836.8 481.3 836.4 468.3 837.5 440.3 836.6 419.3 837.0 415.3 836.4 411.3 834.1 370.3 835.1 300.3 839.9 294.3 838.8 293.3 837.9 289.3 837.9 288.3 836.9 283.3 836.9 282.3 835.9 272.3 835.6 271.3 836.6 265.3 836.6 264.3 837.6 261.3 837.5 260.3 838.5 257.3 838.5 254.3 840.5 252.3 840.5 247.3 843.4 246.3 843.5 241.3 847.4 240.3 847.4 234.3 853.3 232.5 854.1 232.5 855.1 227.5 860.1 227.4 861.1 225.4 863.1 225.3 864.2 223.3 864.1 223.3 862.1 228.3 854.1 233.3 848.1 241.2 842.1 250.3 837.1 256.3 834.9 259.0 832.1 268.3 826.1 277.3 822.6 286.3 820.6 354.3 813.4 387.3 811.7 412.3 811.3 418.3 810.1 431.3 811.2 514.2 811.1 530.3 811.6 543.3 812.8 554.2 815.1 570.7 821.1 583.3 826.8 596.2 834.1 606.3 840.8 615.3 848.5 623.3 857.1 628.3 865.1 631.3 874.1 632.3 883.1 631.3 889.2 628.6 895.1 625.1 899.1 618.3 904.4 613.3 907.3 605.3 909.7 600.3 912.0 591.3 920.4Z"/>
<path fill="#00e8ff" fill-rule="evenodd" d="M581.3 909.5 569.3 909.5 563.3 908.6 554.3 906.4 546.3 903.6 536.3 898.3 522.3 889.4 516.3 884.4 508.2 876.1 506.8 873.1 506.9 867.1 509.1 861.1 513.1 854.1 518.3 848.6 521.3 846.7 534.3 841.7 541.1 840.1 540.6 839.1 534.3 837.5 520.3 835.5 507.3 834.4 474.3 834.7 453.3 833.9 411.3 833.7 369.3 834.8 300.3 839.4 294.3 838.6 293.3 837.7 289.3 837.7 288.3 836.8 283.3 836.8 282.3 835.8 272.3 835.4 271.3 836.4 265.3 836.3 264.3 837.3 261.3 837.2 260.3 838.2 257.3 838.3 254.3 840.1 252.3 840.2 245.3 844.1 244.8 843.1 251.6 839.1 258.8 836.1 259.8 834.1 266.1 829.1 273.0 825.1 279.3 822.7 289.3 820.7 345.3 814.8 375.3 812.6 415.3 811.5 452.3 811.7 506.3 812.3 515.3 813.0 534.3 816.0 551.7 820.1 559.4 823.1 565.2 827.1 572.1 834.1 581.3 837.6 599.3 846.7 604.3 849.8 609.8 855.1 612.7 862.1 613.8 870.1 613.6 877.1 611.6 884.1 606.6 891.1 595.3 901.5 587.3 907.2 581.3 909.5ZM244.3 844.6 243.5 844.1 244.3 843.5 245.3 844.1 244.3 844.6ZM243.3 845.1 242.2 845.1 243.3 845.1Z"/>
<path fill="#00bfff" fill-rule="evenodd" d="M582.3 903.4 570.3 904.1 561.3 903.6 554.3 902.5 547.3 900.6 539.3 896.6 523.3 886.6 512.8 877.1 511.8 875.1 512.0 873.1 514.9 869.1 528.3 857.7 535.3 853.6 540.3 853.0 559.3 855.3 569.7 854.1 565.3 851.2 553.3 840.9 550.3 839.4 544.3 837.8 531.3 835.3 508.3 833.3 477.3 833.9 411.3 833.3 370.3 834.3 309.3 838.7 297.3 839.0 294.3 838.4 293.3 837.6 289.3 837.6 288.3 836.7 283.3 836.7 282.3 835.7 272.3 835.2 271.3 836.1 267.2 836.1 265.3 835.4 264.8 834.1 266.2 832.1 273.2 826.1 277.0 824.1 284.3 821.9 325.3 817.1 364.3 813.7 387.3 812.7 420.3 812.2 496.3 812.9 514.5 814.1 531.8 817.1 552.3 822.8 557.3 825.1 561.3 827.8 568.5 835.1 576.3 846.1 576.8 848.1 576.3 851.1 574.6 853.1 572.6 854.1 585.3 858.7 589.8 863.1 591.6 867.1 592.7 872.1 592.8 882.1 591.8 891.1 590.8 895.1 588.8 899.1 585.3 902.4 582.3 903.4Z"/>
<path fill="#0090ff" fill-rule="evenodd" d="M312.3 838.1 297.3 838.6 294.3 838.3 293.3 837.5 289.3 837.5 288.3 836.6 283.3 836.5 282.3 835.6 273.4 835.1 271.9 832.1 272.0 830.1 272.8 828.1 275.3 825.8 284.3 822.4 328.3 817.2 376.3 813.4 452.3 812.6 501.3 814.1 512.3 815.1 522.3 816.9 535.5 820.1 549.3 825.2 552.9 827.1 556.5 830.1 559.5 835.1 559.3 836.1 558.3 836.4 532.3 833.4 508.3 832.1 477.3 833.2 407.3 832.9 365.3 834.2 312.3 838.1ZM561.3 896.5 557.3 895.6 545.3 888.6 530.3 883.4 526.3 880.6 524.8 878.1 526.9 874.1 533.3 867.6 537.3 864.6 546.3 860.7 557.3 858.6 566.3 858.6 572.3 859.6 574.3 860.6 574.8 861.1 574.4 862.1 570.9 867.1 566.8 877.1 566.8 884.1 568.6 889.1 568.6 891.1 564.3 895.5 561.3 896.5Z"/>
<path fill="#0060ff" fill-rule="evenodd" d="M302.3 838.1 294.3 838.1 293.3 837.4 289.3 837.4 288.3 836.5 283.3 836.4 282.3 835.5 275.0 835.1 273.4 832.1 273.7 829.1 276.4 826.1 284.3 822.9 323.7 818.1 375.3 813.9 432.3 813.0 456.3 813.2 492.3 814.7 510.3 816.4 519.3 818.1 532.4 822.1 538.2 825.1 540.7 828.1 540.0 829.1 538.3 829.7 530.3 830.5 505.3 830.7 474.3 832.5 382.3 833.0 302.3 838.1ZM554.3 881.6 552.3 881.6 550.8 880.1 550.3 878.1 550.8 875.1 552.3 873.6 554.3 873.6 556.7 877.1 555.8 880.1 554.3 881.6Z"/>
<path fill="#0020ff" fill-rule="evenodd" d="M314.3 837.1 294.3 837.7 289.3 837.2 288.3 836.4 283.3 836.3 282.3 835.4 276.7 835.1 275.1 833.1 274.7 830.1 276.6 827.1 279.7 825.1 284.3 823.4 290.3 822.5 349.9 816.1 370.3 814.6 393.3 813.8 447.3 813.6 495.7 816.1 509.4 818.1 517.4 820.1 522.0 822.1 525.0 825.1 522.5 827.1 518.3 828.0 484.3 831.2 381.3 832.6 360.3 833.6 314.3 837.1Z"/>
<path fill="#0000ff" fill-rule="evenodd" d="M308.3 837.1 289.3 837.1 288.3 836.3 283.3 836.2 282.3 835.3 278.5 835.1 277.3 834.1 276.1 832.1 276.1 830.1 277.1 828.1 280.3 825.6 284.3 824.0 289.7 823.1 344.0 817.1 381.3 814.6 438.3 813.9 464.3 814.9 498.3 818.0 509.3 821.1 512.5 823.1 512.5 824.1 511.3 825.1 500.3 828.0 481.3 830.3 464.3 831.2 376.3 832.3 308.3 837.1Z"/>
<path fill="#0000ff" fill-rule="evenodd" d="M315.3 836.1 302.3 836.7 283.5 836.1 279.0 834.1 277.5 832.1 277.4 830.1 279.5 827.1 283.1 825.1 292.3 823.3 338.6 818.1 381.3 815.1 437.3 814.4 457.1 815.1 493.3 819.1 499.7 821.1 501.5 823.1 499.9 825.1 494.4 827.1 484.3 828.8 470.3 830.1 376.3 831.8 315.3 836.1Z"/>
<path fill="#0000c8" fill-rule="evenodd" d="M308.3 836.1 285.3 835.8 280.3 833.7 279.0 832.1 278.9 830.1 281.1 827.1 284.3 825.3 297.9 823.1 344.3 818.1 381.3 815.7 437.3 815.0 455.3 815.7 469.4 817.1 486.3 819.9 490.4 821.1 492.8 823.1 491.0 825.1 487.3 826.4 467.3 829.3 371.3 831.4 308.3 836.1Z"/>
<path fill="#00008c" fill-rule="evenodd" d="M314.3 835.1 305.3 835.6 285.3 835.0 281.5 833.1 280.7 832.1 280.4 830.1 281.5 828.1 284.5 826.1 306.3 822.5 350.7 818.1 381.3 816.2 437.3 815.5 450.5 816.1 461.5 817.1 472.3 818.9 479.7 821.1 483.0 823.1 482.6 824.1 480.9 825.1 474.1 827.1 460.3 828.8 438.3 829.8 375.3 830.7 314.3 835.1Z"/>
<path fill="#80ff00" fill-rule="evenodd" d="M201.3 856.6 199.1 856.1 198.8 855.1 199.3 853.9 200.3 853.5 201.9 854.1 202.4 855.1 201.3 856.6ZM727.3 965.6 722.3 965.5 718.3 964.3 707.3 957.9 700.5 956.1 687.2 951.1 681.0 947.1 679.3 944.7 679.0 943.1 679.3 942.0 681.3 940.6 697.3 940.1 700.3 939.5 701.5 938.1 700.7 935.1 692.9 923.1 692.8 915.1 694.8 906.1 691.7 897.1 691.6 895.1 693.0 894.1 695.3 893.8 704.3 894.0 708.3 893.5 714.3 890.1 720.3 887.8 726.3 885.9 731.3 885.6 735.9 887.1 742.3 891.8 751.3 892.6 757.3 894.7 763.3 898.0 766.3 901.0 767.4 904.1 766.6 906.1 763.7 908.1 757.3 910.7 755.8 913.1 756.8 916.1 760.7 921.1 762.1 926.1 763.3 927.2 768.3 928.0 772.3 926.3 773.7 924.1 772.7 920.1 773.3 919.5 778.3 922.0 779.9 924.1 778.3 927.1 768.9 938.1 765.3 944.3 763.0 946.1 758.3 947.9 756.8 949.1 756.0 951.1 756.1 955.1 755.3 956.1 746.3 956.6 735.3 955.9 730.3 956.5 728.2 958.1 727.8 965.1 727.3 965.6ZM452.3 984.2 429.3 985.0 422.3 983.9 367.3 981.7 319.3 976.8 285.3 971.5 278.3 968.8 269.3 963.7 251.3 958.1 243.3 954.1 237.3 950.1 229.5 943.1 224.3 937.1 220.4 931.1 220.3 929.7 222.2 927.1 223.3 927.1 223.4 928.1 227.4 933.1 227.5 934.1 240.3 946.8 241.3 946.8 243.3 948.8 246.3 949.8 250.3 952.7 252.3 952.8 255.3 954.7 260.3 955.7 261.3 956.6 264.3 956.7 265.3 957.6 272.3 957.6 273.3 958.5 280.3 958.3 281.3 957.3 288.3 957.3 289.3 956.3 292.3 956.3 293.3 955.4 295.3 955.4 296.3 954.4 303.3 953.3 360.3 958.1 399.8 960.1 425.3 960.6 439.3 958.2 456.3 953.4 463.9 950.1 464.7 949.1 465.1 947.1 464.6 945.1 462.3 941.2 459.3 938.6 453.7 936.1 451.9 934.1 452.9 929.1 455.3 924.4 459.0 921.1 464.3 918.7 477.3 916.4 484.3 914.5 495.3 907.8 500.8 907.1 508.7 909.1 511.9 911.1 520.3 918.6 527.8 923.1 531.4 926.1 532.8 929.1 534.9 937.1 539.6 947.1 540.4 952.1 539.3 956.4 536.3 962.1 533.3 965.9 529.3 969.6 518.3 975.4 504.3 979.5 490.3 981.6 452.3 984.2Z"/>
<path fill="#d8ff00" fill-rule="evenodd" d="M441.3 983.2 425.3 983.7 370.3 981.3 321.3 976.4 293.3 972.4 283.3 970.4 280.3 969.1 274.8 966.1 269.3 962.0 252.7 956.1 247.2 953.1 241.5 949.1 242.3 948.4 250.3 953.0 252.3 953.1 255.3 955.0 260.3 956.0 261.3 956.9 264.3 957.0 265.3 957.9 272.3 957.8 273.3 958.7 280.3 958.4 281.3 957.5 288.3 957.4 289.3 956.4 292.3 956.4 293.3 955.5 295.3 955.5 296.3 954.6 302.3 953.8 371.3 959.2 418.1 961.1 437.3 961.2 441.3 958.5 447.3 956.6 466.6 954.1 470.6 953.1 469.7 949.1 467.0 944.1 464.9 934.1 467.8 927.1 470.3 923.9 473.3 921.8 476.3 920.8 490.3 918.5 496.3 915.7 501.3 914.9 508.3 916.7 514.3 919.6 517.8 922.1 521.6 926.1 526.5 935.1 529.4 942.1 530.8 947.1 530.7 954.1 529.8 957.1 526.3 962.0 523.3 964.5 511.3 970.5 495.3 975.4 481.3 977.5 452.3 979.1 449.3 981.3 446.3 982.6 441.3 983.2ZM241.3 948.8 240.4 948.1 241.9 948.1 241.3 948.8Z"/>
<path fill="#ffff00" fill-rule="evenodd" d="M445.3 982.1 438.3 982.9 422.3 982.9 375.3 981.2 351.3 979.2 314.4 975.1 283.3 969.8 274.7 965.1 271.7 962.1 271.0 960.1 269.0 959.1 271.3 958.8 272.3 958.0 273.3 958.9 280.3 958.6 281.3 957.6 288.3 957.5 289.3 956.5 292.3 956.5 293.3 955.6 295.3 955.6 296.3 954.8 301.3 954.3 371.3 959.7 410.3 961.3 437.3 961.6 443.3 958.2 448.3 956.9 481.3 952.8 482.3 952.1 482.5 950.1 481.8 946.1 474.8 935.1 475.0 932.1 477.3 929.7 480.3 927.8 496.3 919.6 501.3 918.6 504.3 919.6 509.3 922.8 514.5 928.1 519.8 937.1 520.9 941.1 524.2 944.1 525.3 947.1 524.5 951.1 520.7 957.1 516.3 962.4 511.3 965.6 497.3 971.4 482.3 974.5 453.3 977.8 449.3 980.7 445.3 982.1Z"/>
<path fill="#ffff00" fill-rule="evenodd" d="M442.3 982.1 416.3 982.3 375.3 980.7 349.3 978.5 310.1 974.1 283.3 969.3 279.0 967.1 274.9 964.1 273.3 962.1 272.8 960.1 273.0 959.1 280.3 958.7 281.3 957.7 288.3 957.6 289.3 956.6 292.3 956.6 293.3 955.7 295.3 955.7 296.3 954.9 301.3 954.7 371.3 960.1 409.3 961.8 437.3 962.1 438.3 962.0 442.5 959.1 447.3 957.6 486.3 952.9 493.3 944.7 496.3 942.7 500.3 941.7 508.3 942.4 514.3 944.9 519.3 943.9 521.3 944.8 522.4 946.1 522.6 949.1 516.9 960.1 514.3 962.7 509.3 965.7 498.2 970.1 489.3 972.4 453.3 977.3 448.3 980.7 442.3 982.1Z"/>
<path fill="#ffc800" fill-rule="evenodd" d="M445.3 981.2 438.3 982.0 423.3 982.0 375.3 980.2 316.3 974.5 304.3 972.9 284.3 969.0 280.2 967.1 276.2 964.1 274.8 962.1 274.5 960.1 274.9 959.1 280.3 958.8 281.3 957.8 288.3 957.7 289.3 956.8 292.3 956.7 293.3 955.9 295.3 955.9 296.3 955.1 303.3 955.2 371.3 960.6 410.3 962.3 437.3 962.6 438.3 962.5 443.3 959.3 447.3 958.1 486.3 953.8 493.9 945.1 497.3 943.0 502.3 942.6 508.3 943.0 515.8 947.1 518.1 950.1 518.4 954.1 517.5 958.1 515.2 961.1 509.3 965.1 494.9 970.1 486.8 972.1 453.3 976.7 449.3 979.6 445.3 981.2Z"/>
<path fill="#ffa000" fill-rule="evenodd" d="M442.3 981.2 422.3 981.5 375.3 979.7 317.1 974.1 303.3 972.3 284.3 968.4 278.7 965.1 276.8 963.1 276.1 961.1 276.8 959.1 280.3 958.9 281.3 957.9 288.3 957.8 289.3 956.9 292.3 956.9 293.3 956.0 296.3 955.7 303.3 955.7 370.3 961.0 409.3 962.7 437.3 963.0 439.3 962.5 444.3 959.4 451.3 958.0 508.3 952.3 511.3 952.6 512.3 953.6 511.6 957.1 508.3 961.1 503.4 965.1 497.4 968.1 482.3 972.1 453.3 976.2 448.3 979.6 442.3 981.2Z"/>
<path fill="#ff7000" fill-rule="evenodd" d="M445.3 980.1 438.3 980.9 428.3 981.0 381.3 979.5 359.3 978.0 321.4 974.1 304.3 972.0 285.3 968.0 280.0 965.1 278.2 963.1 277.7 961.1 278.8 959.1 280.3 959.0 281.3 958.0 288.3 957.9 289.3 957.0 292.3 957.0 293.3 956.3 305.3 956.2 370.3 961.6 409.3 963.3 434.3 963.7 439.3 963.2 441.9 961.1 445.3 959.6 455.4 958.1 497.3 955.1 502.3 955.4 505.5 957.1 505.3 960.1 502.9 963.1 498.5 966.1 493.8 968.1 481.3 971.4 452.3 975.8 448.3 979.0 445.3 980.1Z"/>
<path fill="#ff4000" fill-rule="evenodd" d="M441.3 980.2 416.3 980.3 375.3 978.6 317.4 973.1 303.3 971.3 284.7 967.1 280.5 964.1 279.4 961.1 280.8 959.1 282.8 958.1 288.3 958.0 289.3 957.1 305.3 956.7 371.3 962.2 433.3 964.2 439.3 964.0 442.3 961.5 447.3 959.7 459.3 958.4 492.3 956.9 498.3 957.5 500.7 959.1 500.7 961.1 498.1 964.1 489.6 968.1 477.7 971.1 452.3 975.3 447.3 978.8 441.3 980.2Z"/>
<path fill="#ff1000" fill-rule="evenodd" d="M444.3 979.1 438.3 979.8 422.3 979.8 376.3 978.1 322.4 973.1 304.3 970.9 287.6 967.1 283.1 965.1 281.4 963.1 281.2 961.1 283.1 959.1 285.6 958.1 305.3 957.2 366.3 962.5 422.3 964.8 439.3 964.6 442.5 962.1 447.3 960.3 463.3 959.0 489.3 958.7 493.3 959.3 495.5 961.1 495.4 962.1 493.7 964.1 485.1 968.1 477.3 970.1 452.3 974.6 447.5 978.1 444.3 979.1Z"/>
<path fill="#ff0000" fill-rule="evenodd" d="M438.3 979.1 415.3 979.0 375.3 977.4 319.3 972.1 304.3 970.3 290.7 967.1 284.3 964.6 282.9 962.1 284.0 960.1 286.1 959.1 305.3 957.8 365.3 963.1 416.3 965.3 439.3 965.3 443.3 962.4 446.9 961.1 459.3 960.0 480.3 960.0 485.3 960.7 488.3 962.1 488.5 963.1 486.6 965.1 481.3 967.6 471.8 970.1 451.3 974.2 446.3 977.9 438.3 979.1Z"/>
<path fill="none" stroke="#000" stroke-opacity="0.36" stroke-width="0.8" d="M102.4 1007.0 131.0 1010.2 156.4 1013.8M102.4 997.3 128.2 1000.2 153.9 1003.9 176.8 1008.0 204.8 1013.8M102.4 987.5 133.9 991.1 162.5 995.7 188.2 1001.0 243.2 1013.8M102.4 977.6 136.8 981.5 165.4 986.4 191.1 992.2 248.3 1006.8 282.5 1013.8M509.3 1013.8 534.3 1009.1 551.5 1006.4 568.6 1004.9 585.8 1004.3 600.1 1004.8 617.2 1006.5 664.9 1013.8M102.4 967.6 133.9 971.0 159.6 975.2 185.4 981.0 239.7 996.4 268.3 1003.3 302.6 1009.5 338.5 1013.8M452.9 1013.8 473.2 1011.0 491.4 1007.6 545.7 994.1 557.2 992.3 565.8 991.8 580.1 992.5 611.5 995.9 628.7 998.7 680.2 1008.4 697.3 1010.8 714.5 1012.4 734.5 1013.1 754.5 1012.5 774.5 1010.7 797.4 1007.7M102.4 957.5 139.6 961.5 171.1 967.3 194.0 973.4 245.4 989.6 262.6 994.1 282.6 998.5 316.9 1004.0 357.0 1007.7 388.4 1008.8 419.9 1008.2 445.6 1006.1 468.5 1002.6 488.5 998.0 505.7 992.7 524.0 985.4 551.5 971.8 557.2 969.9 562.9 969.2 568.6 969.6 574.3 971.2 597.2 980.7 611.8 985.4 671.6 998.9 700.2 1003.9 723.1 1005.9 745.9 1005.9 768.8 1004.2 797.4 1000.1M102.4 947.3 139.6 950.9 156.8 953.6 171.1 956.5 194.0 963.1 231.5 976.8 251.2 983.2 276.9 989.7 305.5 995.0 339.8 998.9 377.0 1000.8 414.2 1000.4 442.8 997.9 457.1 995.6 471.4 992.4 482.8 989.3 494.3 985.5 502.8 981.9 512.7 976.8 521.2 971.1 527.7 965.4 532.6 959.7 537.6 951.2 539.7 945.5 541.8 936.9 543.0 922.7 542.5 914.1 540.4 899.9 540.6 894.2 541.4 891.4 543.0 888.5 545.7 886.3 548.6 885.2 554.3 885.1 560.0 886.7 567.9 891.4 573.6 897.1 577.2 902.2 580.8 911.3 584.2 928.4 586.7 936.9 591.7 948.3 596.9 956.9 601.6 962.6 607.8 968.3 614.4 972.7 622.7 976.8 650.9 985.4 677.3 992.3 697.3 996.2 714.5 998.4 731.6 999.2 751.7 998.7 771.7 996.7 797.4 992.5M102.4 936.9 142.5 940.4 159.6 942.9 173.9 945.9 194.0 952.1 231.9 968.3 251.2 975.2 276.9 982.2 302.6 987.2 337.0 991.2 374.1 993.0 394.2 993.1 414.2 992.4 428.5 991.4 442.8 989.6 468.5 983.9 480.0 980.4 488.5 977.1 497.1 973.0 504.7 968.3 508.6 965.3 514.0 959.7 517.9 954.0 520.6 948.3 522.2 942.6 523.5 934.1 523.3 919.8 518.3 891.4 518.2 885.7 519.1 880.0 520.3 877.1 522.9 873.1 525.7 870.5 528.6 868.8 537.2 866.4 545.7 866.4 556.4 868.6 565.8 872.4 577.2 879.9 585.8 888.1 590.4 894.2 595.0 902.7 598.2 911.3 605.3 934.1 608.9 942.6 613.6 951.2 617.7 956.9 623.2 962.6 628.7 966.7 636.8 971.1 661.3 979.7 680.9 985.4 700.2 989.5 717.3 991.7 734.5 992.5 754.5 991.7 774.5 989.2 797.4 984.9M102.4 926.5 128.2 928.0 148.2 929.9 165.4 932.3 179.7 935.4 191.1 939.1 199.7 942.7 232.5 959.7 248.3 966.5 274.0 974.0 299.8 979.6 316.9 982.0 334.1 983.7 371.3 985.5 411.3 984.8 428.5 983.5 439.9 982.1 460.9 976.8 477.6 971.1 488.5 965.4 492.3 962.6 497.8 956.9 501.4 951.2 504.0 945.5 506.1 936.9 507.2 928.4 506.8 922.7 505.7 917.3 499.4 899.9 497.7 891.4 497.8 880.0 500.0 871.7 502.8 866.7 506.0 862.9 509.1 860.0 513.8 857.2 520.0 855.1 524.8 854.3 537.2 854.2 551.5 856.6 565.8 861.6 573.7 865.7 580.1 869.8 585.9 874.3 591.5 879.4 599.1 888.5 605.8 899.7 618.2 931.2 625.8 945.8 629.6 951.2 634.9 956.9 640.1 961.0 647.8 965.4 668.7 973.6 685.9 979.0 703.0 982.9 720.2 985.2 737.4 985.8 754.5 984.8 774.5 982.0 797.4 977.3M102.4 916.0 131.0 917.2 153.9 918.8 171.1 920.8 185.4 923.9 194.0 926.7 202.5 930.8 211.1 936.1 231.1 950.0 239.7 954.8 248.3 958.8 262.6 963.7 285.5 969.7 296.9 972.1 311.2 974.4 328.4 976.1 365.6 977.9 402.7 977.1 432.1 974.0 444.7 971.1 452.9 968.3 459.1 965.4 463.8 962.6 467.1 959.7 469.3 956.9 478.8 942.6 481.3 936.9 482.0 931.2 480.7 925.5 477.6 919.8 470.3 911.3 466.8 905.6 464.5 899.9 463.1 894.2 462.4 885.7 463.3 877.1 466.1 868.6 469.3 862.9 474.2 857.2 477.5 854.3 482.8 850.7 488.5 847.9 497.1 845.4 508.6 843.4 517.1 843.0 525.7 843.3 543.0 845.8 553.8 848.6 562.9 851.8 571.5 855.6 580.1 860.3 588.1 865.7 595.0 871.4 603.4 880.0 611.7 891.4 617.2 901.8 629.0 928.4 637.2 942.6 641.7 948.3 645.8 952.4 651.6 956.8 657.3 959.9 674.4 967.3 691.6 973.1 707.8 976.8 723.1 978.7 740.2 979.1 757.4 977.7 774.5 974.9 797.4 969.5M102.4 905.5 142.5 906.3 168.2 907.4 185.4 909.2 196.8 911.8 202.5 914.0 208.3 917.4 214.0 922.3 230.7 939.8 236.9 944.6 245.4 949.8 254.0 953.9 259.7 956.0 274.0 958.7 289.5 962.6 308.4 966.0 334.1 968.0 354.1 967.8 372.8 965.4 378.4 962.6 379.8 959.7 383.7 922.7 384.2 908.4 383.8 897.1 381.8 880.0 377.8 862.9 372.3 848.6 365.1 834.4 366.5 831.5 372.8 828.7 384.9 825.8 414.2 822.8 428.5 822.4 444.1 823.0 465.7 825.6 520.0 833.3 537.2 836.4 548.6 839.3 560.0 843.1 571.5 847.9 582.9 854.0 592.2 860.0 600.1 866.2 608.4 874.3 615.5 882.8 623.0 894.4 640.1 928.5 645.5 936.9 650.0 942.6 654.4 947.1 660.1 951.4 670.3 956.9 683.2 962.6 697.3 967.4 708.8 970.1 720.2 971.9 734.5 972.6 748.8 971.9 763.1 969.9 777.4 966.9 797.4 961.6M102.4 895.0 179.7 893.9 196.8 892.8 208.3 890.8 213.0 888.5 216.0 885.7 226.0 868.6 230.6 862.9 232.1 860.0 237.5 854.3 242.6 850.0 245.4 849.1 248.3 847.1 251.2 846.2 259.7 841.7 271.2 840.5 276.9 838.3 279.8 838.6 285.5 837.9 310.9 828.7 321.7 825.8 352.2 820.1 385.6 816.5 422.8 815.0 454.2 816.3 482.8 819.6 505.7 823.0 537.2 829.2 551.5 833.2 562.9 837.3 575.7 842.9 588.6 850.0 597.2 855.6 606.4 862.9 612.5 868.6 620.2 877.1 630.0 891.4 649.0 925.5 657.3 936.9 663.0 942.5 668.7 946.6 680.2 953.0 688.7 956.9 700.2 961.0 714.5 964.4 725.9 965.8 737.4 965.9 748.8 965.2 763.1 962.9 777.4 959.5 797.4 953.5M102.4 884.4 133.9 883.5 159.6 881.9 176.8 879.9 191.1 876.8 199.7 873.6 205.4 870.5 214.0 864.2 232.0 848.6 239.7 843.6 246.4 840.1 256.9 835.6 285.5 826.0 310.1 820.1 348.4 813.9 385.6 810.3 422.8 809.2 442.8 809.8 459.9 811.0 485.7 813.8 505.7 816.6 522.9 819.7 537.5 823.0 551.5 827.0 565.8 832.1 580.1 838.6 593.3 845.8 602.9 852.2 611.5 858.9 618.9 865.7 626.7 874.3 636.9 888.5 657.3 922.3 665.9 933.1 671.6 938.2 680.2 944.1 687.7 948.3 697.3 952.6 708.8 956.3 720.2 958.6 728.8 959.3 743.1 959.0 754.5 957.6 766.0 955.1 779.5 951.2 797.4 945.1M102.4 873.9 131.0 872.5 151.1 870.8 168.2 868.4 182.5 865.2 194.0 861.3 202.5 857.3 230.5 840.1 248.3 831.3 262.6 826.0 279.8 820.5 308.4 813.8 345.5 808.0 385.6 804.4 422.8 803.6 439.9 804.1 459.9 805.5 482.8 807.9 505.7 811.0 522.9 814.1 540.0 817.9 554.3 822.1 568.6 827.3 582.9 833.7 594.9 840.1 605.8 847.0 614.4 853.4 622.0 860.0 630.4 868.6 643.7 885.7 664.0 917.0 673.4 928.4 680.2 934.0 688.7 939.8 694.5 943.1 703.0 946.9 711.6 949.7 723.1 951.9 734.5 952.6 745.9 951.9 754.5 950.6 766.0 947.6 797.4 936.4M102.4 863.4 125.3 862.0 145.3 860.0 162.5 857.4 176.8 854.2 188.2 850.7 196.8 847.4 234.0 829.3 254.0 821.4 282.6 812.7 311.2 806.6 348.4 801.4 385.6 798.5 422.8 797.9 459.9 799.9 502.8 805.1 522.9 808.7 540.0 812.5 554.3 816.5 568.6 821.5 582.9 827.6 597.2 835.0 608.7 842.0 617.9 848.6 628.0 857.2 636.7 865.7 650.7 882.8 671.6 913.0 680.1 922.7 687.1 928.4 695.3 934.1 703.0 938.4 708.8 940.8 717.3 943.3 728.8 945.0 737.4 945.2 748.8 944.1 757.4 942.4 766.0 939.8 797.4 927.0M102.4 853.1 142.5 849.3 159.6 846.6 173.9 843.4 194.0 837.2 235.6 820.1 256.9 812.7 282.6 805.6 311.2 799.9 348.4 795.1 385.6 792.5 422.8 792.2 459.9 794.3 482.8 796.8 505.7 800.1 525.7 803.8 542.9 807.7 557.2 811.9 571.5 816.9 585.8 822.9 600.1 830.1 611.5 836.9 620.1 842.7 637.3 856.8 646.1 865.7 653.6 874.3 677.3 906.1 684.3 914.1 697.8 925.5 705.9 930.3 711.6 932.9 720.2 935.5 728.8 936.9 740.2 937.0 748.8 936.0 757.4 934.0 766.0 931.1 797.4 917.1M102.4 842.8 139.6 839.0 156.8 836.2 171.1 833.2 194.0 826.6 234.0 812.3 256.9 805.0 285.5 797.9 314.1 792.8 351.3 788.4 388.4 786.3 425.6 786.4 459.9 788.6 480.0 790.7 502.8 794.0 525.7 798.1 542.9 802.1 560.0 807.0 574.3 812.0 588.6 818.0 602.9 825.0 623.2 837.2 641.7 851.5 650.9 860.0 659.0 868.6 684.3 899.9 694.5 910.7 700.2 915.6 705.9 919.6 711.6 922.7 717.3 925.0 725.9 927.2 734.5 928.1 743.1 927.7 751.7 926.2 763.1 922.2 797.4 906.3M102.4 832.6 136.8 828.9 168.2 823.3 191.1 817.4 236.7 803.0 259.7 796.6 285.5 790.8 314.1 786.0 348.4 782.2 385.6 780.2 422.8 780.4 457.1 782.5 500.0 787.7 520.0 791.2 540.0 795.5 554.3 799.3 571.5 804.8 585.8 810.3 602.9 818.1 614.4 824.1 626.7 831.5 639.0 840.1 648.7 847.7 659.5 857.2 668.1 865.7 701.6 902.7 711.6 910.4 720.2 914.5 728.8 916.8 734.5 917.4 743.1 917.1 748.8 916.1 760.2 912.1 797.4 894.7M467.8 777.4 508.6 783.0 528.6 786.8 545.7 790.7 562.9 795.5 580.1 801.3 594.4 807.0 608.7 813.5 621.4 820.1 634.4 827.8 656.2 842.9 670.2 854.3 683.0 865.7 712.0 894.2 720.2 899.8 725.9 902.3 731.6 903.7 737.4 904.2 743.1 903.9 749.0 902.7 757.4 899.9 777.4 890.4 797.4 882.3M102.4 822.5 133.9 819.1 162.5 814.3 188.2 808.3 239.7 793.9 265.5 787.6 296.9 781.6 328.7 777.4M513.8 777.4 542.9 783.4 568.6 790.4 594.4 799.4 620.1 810.8 640.1 821.5 661.0 834.4 681.2 848.6 717.3 876.7 725.9 882.0 731.6 884.4 740.2 885.4 751.7 884.0 763.1 880.7 797.4 869.4M102.4 812.6 136.8 808.6 165.4 803.7 191.1 798.0 248.3 783.7 278.9 777.4M548.5 777.4 568.6 782.7 588.6 789.1 608.7 796.6 625.8 804.1 643.0 812.5 662.2 823.0 714.5 855.0 723.1 859.4 731.6 862.7 743.1 865.0 754.5 864.9 768.8 862.7 797.4 856.2M102.4 802.7 133.9 799.1 162.5 794.5 188.2 789.3 240.2 777.4M577.7 777.4 605.8 786.7 632.3 797.3 660.1 810.4 708.8 835.2 720.2 840.3 731.6 844.3 743.1 846.8 757.4 847.7 774.5 846.5 797.4 843.1M102.4 793.0 128.2 790.1 151.1 786.9 201.2 777.4M604.2 777.4 642.2 791.6 708.8 820.5 728.8 827.4 743.1 830.6 760.2 832.3 777.4 831.9 797.4 830.2M102.4 783.3 150.6 777.4M630.4 777.4 703.0 805.0 717.3 809.8 731.6 813.7 745.9 816.5 760.2 818.0 777.4 818.4 797.4 817.5M658.4 777.4 705.9 793.5 720.2 797.6 734.5 800.9 748.8 803.4 763.1 804.8 780.3 805.5 797.4 805.3M691.4 777.4 720.2 785.2 745.9 790.2 771.7 792.8 797.4 793.3M741.9 777.4 768.8 780.5 797.4 781.6"/>
<circle cx="276.9" cy="897.0" r="61.2" fill="#fff"/>
<circle cx="276.9" cy="897.0" r="57.2" fill="#c8c8c8" stroke="#111" stroke-width="1.6"/>
</g>
<rect x="105.3" y="783.1" width="686.4" height="227.9" fill="none" stroke="#444" stroke-width="1.1"/>
<path d="M133.9 1011.0V1004.5M162.5 1011.0V997.0M191.1 1011.0V1004.5M219.7 1011.0V1004.5M248.3 1011.0V1004.5M276.9 1011.0V997.0M305.5 1011.0V1004.5M334.1 1011.0V1004.5M362.7 1011.0V1004.5M391.3 1011.0V997.0M419.9 1011.0V1004.5M448.5 1011.0V1004.5M477.1 1011.0V1004.5M505.7 1011.0V997.0M534.3 1011.0V1004.5M562.9 1011.0V1004.5M591.5 1011.0V1004.5M620.1 1011.0V997.0M648.7 1011.0V1004.5M677.3 1011.0V1004.5M705.9 1011.0V1004.5M734.5 1011.0V997.0M763.1 1011.0V1004.5M105.3 982.5H111.3M105.3 954.0H111.3M105.3 925.5H111.3M105.3 897.0H119.3M105.3 868.6H111.3M105.3 840.1H111.3M105.3 811.6H111.3" stroke="#222" stroke-width="1.3" fill="none"/>
<text x="162.5" y="1043.5" font-size="36" text-anchor="middle">−1</text>
<text x="276.9" y="1043.5" font-size="36" text-anchor="middle">0</text>
<text x="391.3" y="1043.5" font-size="36" text-anchor="middle">1</text>
<text x="505.7" y="1043.5" font-size="36" text-anchor="middle">2</text>
<text x="620.1" y="1043.5" font-size="36" text-anchor="middle">3</text>
<text x="734.5" y="1043.5" font-size="36" text-anchor="middle">4</text>
<text x="96.8" y="793.1" font-size="43" text-anchor="end">1</text>
<text x="96.8" y="907.3" font-size="43" text-anchor="end">0</text>
<text x="96.8" y="1021.7" font-size="43" text-anchor="end">−1</text>
<text x="1" y="906.8" font-size="40" font-style="italic">y/D</text>
<text x="4.9" y="755.7" font-size="42">(<tspan font-style="italic">e</tspan>)</text>
<text x="67.5" y="755.7" font-size="42" font-style="italic">t/τ</text>
<text x="107.2" y="768.7" font-size="34" font-style="italic">s</text>
<text x="129.7" y="755.7" font-size="42">=</text>
<text x="164.5" y="755.7" font-size="42" letter-spacing="-1.4">0.81</text>
<clipPath id="clipf"><rect x="906.7" y="784.0" width="687.0" height="228.2"/></clipPath>
<g clip-path="url(#clipf)">
<path fill="#00ffff" fill-rule="evenodd" d="M1441.7 919.0 1433.7 919.0 1422.2 918.0 1402.7 915.5 1399.5 914.0 1392.7 907.0 1381.0 899.0 1369.7 887.7 1362.7 881.7 1358.7 878.7 1352.7 876.1 1351.4 875.0 1347.6 869.0 1343.5 859.0 1342.5 854.0 1343.3 847.0 1341.7 844.9 1338.7 843.7 1313.7 842.8 1295.7 844.6 1287.7 846.8 1271.7 855.1 1268.7 856.3 1265.7 856.6 1263.7 856.4 1258.5 854.0 1251.7 849.7 1239.7 843.6 1226.7 839.5 1224.2 838.0 1221.7 835.2 1175.4 836.0 1112.7 840.6 1101.7 840.9 1098.7 840.5 1097.7 839.7 1094.7 839.7 1093.7 838.8 1090.7 838.8 1089.7 837.8 1083.7 837.8 1082.7 836.8 1074.7 836.6 1073.7 837.5 1066.7 837.5 1065.7 838.5 1062.7 838.4 1061.7 839.4 1056.7 840.4 1053.7 842.3 1051.7 842.4 1049.7 844.3 1044.7 846.3 1041.7 849.3 1040.7 849.3 1029.9 860.0 1029.8 861.0 1026.8 864.0 1026.7 865.1 1025.7 865.6 1024.7 865.0 1024.6 864.0 1030.7 854.0 1035.2 849.0 1042.8 843.0 1050.0 839.0 1058.7 835.5 1060.6 833.0 1070.3 827.0 1079.7 823.4 1088.7 821.5 1124.7 817.4 1173.7 813.3 1222.7 812.3 1227.7 811.2 1240.7 812.2 1273.7 812.1 1346.7 809.2 1362.7 809.5 1372.7 810.7 1394.1 814.0 1405.7 816.7 1407.7 817.7 1409.7 820.1 1412.7 822.2 1435.9 831.0 1454.7 842.2 1470.7 848.0 1475.0 851.0 1476.2 855.0 1476.2 875.0 1474.9 878.0 1469.4 886.0 1468.4 889.0 1469.5 893.0 1473.7 899.4 1475.1 903.0 1476.4 908.0 1476.1 911.0 1472.7 914.1 1465.7 916.2 1452.7 918.2 1441.7 919.0Z"/>
<path fill="#00e8ff" fill-rule="evenodd" d="M1273.7 850.3 1268.7 851.0 1263.7 850.4 1250.7 844.2 1244.8 840.0 1243.7 838.0 1245.7 836.5 1251.1 835.0 1248.7 834.8 1209.7 834.8 1174.7 835.6 1100.7 840.5 1098.7 840.3 1097.7 839.5 1094.7 839.5 1093.7 838.6 1090.7 838.6 1089.7 837.7 1083.7 837.7 1082.7 836.7 1074.7 836.4 1073.7 837.3 1066.7 837.2 1065.7 838.2 1062.7 838.1 1061.7 839.1 1056.7 840.1 1053.7 842.0 1051.7 842.1 1049.7 843.7 1045.7 845.5 1045.1 845.0 1051.7 840.8 1060.4 837.0 1061.5 835.0 1064.9 832.0 1073.0 827.0 1077.7 824.8 1084.7 822.7 1126.7 817.7 1176.7 813.6 1232.7 812.5 1268.7 812.9 1300.7 814.4 1341.7 817.6 1353.8 819.0 1377.4 824.0 1383.4 827.0 1384.7 829.0 1384.7 831.0 1383.1 833.0 1374.7 835.2 1340.7 836.5 1303.7 836.6 1302.6 837.0 1304.7 838.0 1302.7 839.3 1288.7 842.5 1283.7 844.7 1273.7 850.3ZM1433.7 908.2 1422.7 908.8 1416.7 908.3 1414.7 907.5 1404.7 899.8 1380.7 884.4 1365.7 872.3 1358.4 864.0 1355.4 858.0 1353.7 853.0 1353.7 851.0 1354.7 849.3 1358.7 846.6 1372.7 842.6 1389.7 839.6 1400.7 838.8 1412.7 839.5 1418.7 840.6 1432.7 844.5 1438.7 847.6 1442.1 851.0 1447.2 862.0 1451.4 878.0 1455.2 888.0 1455.2 893.0 1453.1 899.0 1447.7 904.4 1442.7 906.4 1433.7 908.2ZM1044.7 846.0 1044.0 846.0 1044.7 845.6 1044.7 846.0Z"/>
<path fill="#00bfff" fill-rule="evenodd" d="M1276.7 846.4 1270.7 846.5 1264.7 843.3 1258.3 838.0 1258.2 836.0 1259.0 835.0 1257.7 834.7 1221.7 834.3 1183.7 834.9 1162.7 835.9 1109.7 839.8 1098.7 840.0 1097.7 839.4 1094.7 839.4 1093.7 838.5 1090.7 838.5 1089.7 837.6 1083.7 837.5 1082.7 836.6 1074.7 836.2 1073.7 837.0 1068.0 837.0 1066.4 836.0 1066.4 835.0 1067.9 833.0 1074.9 827.0 1079.0 825.0 1085.7 823.0 1150.7 815.9 1189.7 813.7 1253.7 813.2 1294.2 815.0 1348.7 820.5 1361.9 824.0 1366.5 826.0 1368.8 828.0 1368.9 829.0 1368.1 830.0 1366.1 831.0 1349.4 834.0 1311.7 835.5 1296.7 835.3 1295.9 836.0 1297.7 837.0 1295.7 838.2 1285.7 841.8 1276.7 846.4ZM1390.7 858.4 1386.7 858.5 1385.2 857.0 1385.2 856.0 1388.7 854.6 1391.7 855.5 1392.2 857.0 1390.7 858.4ZM1429.7 887.5 1427.7 887.8 1425.9 887.0 1424.2 885.0 1423.3 882.0 1423.3 879.0 1424.2 876.0 1425.9 874.0 1427.7 873.2 1429.7 873.5 1432.2 877.0 1432.2 884.0 1429.7 887.5Z"/>
<path fill="#0090ff" fill-rule="evenodd" d="M1115.7 839.0 1098.7 839.6 1094.7 839.2 1093.7 838.4 1090.7 838.4 1089.7 837.5 1083.7 837.4 1082.7 836.5 1074.8 836.0 1073.5 833.0 1073.6 831.0 1075.3 828.0 1078.3 826.0 1083.7 824.0 1088.7 823.0 1122.6 819.0 1155.7 815.9 1176.7 814.5 1202.7 813.9 1253.7 813.7 1291.7 815.9 1340.8 822.0 1349.1 824.0 1351.3 825.0 1353.3 827.0 1352.4 829.0 1347.2 831.0 1325.7 833.1 1285.7 834.3 1239.7 833.8 1183.7 834.5 1161.7 835.5 1115.7 839.0Z"/>
<path fill="#0060ff" fill-rule="evenodd" d="M1109.7 839.0 1094.7 839.1 1093.7 838.3 1090.7 838.3 1089.7 837.4 1083.7 837.3 1082.7 836.4 1076.4 836.0 1075.2 834.0 1075.0 831.0 1076.8 828.0 1080.0 826.0 1085.7 824.0 1091.7 823.1 1126.7 819.0 1160.0 816.0 1202.7 814.3 1250.7 814.1 1286.7 816.5 1300.7 818.3 1325.3 823.0 1333.1 825.0 1335.0 826.0 1335.4 827.0 1334.4 828.0 1331.7 828.9 1326.0 830.0 1300.7 832.5 1278.7 833.3 1178.7 834.2 1109.7 839.0Z"/>
<path fill="#0020ff" fill-rule="evenodd" d="M1117.7 838.0 1094.7 838.7 1093.7 838.2 1090.7 838.2 1089.7 837.3 1083.7 837.2 1082.7 836.3 1078.1 836.0 1076.6 834.0 1076.3 831.0 1077.3 829.0 1079.7 827.0 1085.7 824.5 1089.7 823.8 1121.3 820.0 1153.2 817.0 1189.8 815.0 1239.7 814.5 1261.7 815.3 1286.7 817.7 1300.0 820.0 1308.2 823.0 1311.8 825.0 1312.5 826.0 1312.1 827.0 1310.5 828.0 1303.9 830.0 1286.7 831.9 1260.7 832.8 1178.7 833.8 1117.7 838.0Z"/>
<path fill="#0000ff" fill-rule="evenodd" d="M1111.7 838.0 1094.7 838.2 1090.7 838.0 1089.7 837.2 1083.7 837.1 1082.7 836.2 1079.9 836.0 1078.7 835.0 1077.6 833.0 1077.6 831.0 1079.7 828.0 1083.2 826.0 1092.3 824.0 1147.2 818.0 1188.7 815.5 1239.7 815.0 1256.7 815.6 1290.8 820.0 1299.9 823.0 1302.1 825.0 1301.2 827.0 1298.9 828.0 1290.2 830.0 1279.8 831.0 1255.7 832.2 1174.7 833.5 1111.7 838.0Z"/>
<path fill="#0000ff" fill-rule="evenodd" d="M1118.7 837.0 1103.7 837.8 1084.5 837.0 1080.4 835.0 1079.0 833.0 1079.0 831.0 1081.3 828.0 1085.0 826.0 1096.4 824.0 1120.8 821.0 1152.8 818.0 1188.7 816.0 1238.7 815.5 1253.7 816.0 1284.7 820.7 1291.2 823.0 1292.8 825.0 1291.0 827.0 1285.7 828.6 1260.7 831.2 1177.7 832.8 1118.7 837.0Z"/>
<path fill="#0000c8" fill-rule="evenodd" d="M1111.7 837.1 1086.7 836.8 1081.7 834.6 1080.5 833.0 1080.4 831.0 1082.7 828.1 1085.7 826.5 1107.6 823.0 1155.7 818.3 1182.7 816.7 1238.7 816.0 1251.7 816.6 1262.5 818.0 1276.4 821.0 1282.2 823.0 1283.4 824.0 1283.6 825.0 1280.4 827.0 1276.2 828.0 1255.7 830.7 1172.7 832.5 1111.7 837.1Z"/>
<path fill="#00008c" fill-rule="evenodd" d="M1117.7 836.0 1108.7 836.7 1086.7 836.0 1082.9 834.0 1082.0 831.0 1083.2 829.0 1086.6 827.0 1107.7 823.5 1154.0 819.0 1177.7 817.5 1222.7 816.7 1247.7 817.0 1261.8 819.0 1270.4 822.0 1273.7 824.0 1273.6 825.0 1272.1 826.0 1266.2 828.0 1253.7 830.1 1239.7 830.8 1177.7 831.7 1117.7 836.0Z"/>
<path fill="#80ff00" fill-rule="evenodd" d="M1001.7 857.6 1000.7 857.8 999.5 857.0 999.7 854.9 1000.7 854.5 1002.2 855.0 1002.7 856.0 1001.7 857.6ZM1240.7 986.0 1232.7 984.9 1185.7 983.7 1166.7 982.6 1119.7 977.7 1086.7 972.5 1079.7 969.8 1070.7 964.7 1054.9 960.0 1044.6 955.0 1038.7 951.0 1030.7 944.0 1025.7 938.0 1021.7 931.0 1022.7 929.0 1023.7 928.0 1024.7 928.0 1024.8 929.0 1028.8 934.0 1028.9 935.0 1041.7 947.7 1042.7 947.7 1047.7 951.6 1048.7 951.7 1053.7 954.6 1055.7 954.6 1058.7 956.6 1060.7 956.6 1061.7 957.5 1064.7 957.6 1065.7 958.5 1071.7 958.5 1072.7 959.5 1084.7 959.2 1085.7 958.2 1090.7 958.2 1091.7 957.2 1094.7 957.2 1095.7 956.3 1097.7 956.3 1098.7 955.4 1100.7 955.4 1103.7 954.3 1175.7 960.0 1238.7 961.6 1251.7 959.6 1268.8 959.0 1274.7 957.2 1280.7 954.4 1284.4 951.0 1284.9 949.0 1284.1 946.0 1279.9 940.0 1275.7 938.2 1266.7 938.8 1263.5 938.0 1264.2 935.0 1268.0 927.0 1269.9 921.0 1271.7 899.0 1272.7 897.3 1274.7 895.7 1281.0 893.0 1287.7 891.5 1292.7 891.6 1304.7 893.3 1321.7 894.6 1330.6 897.0 1340.2 901.0 1349.7 906.8 1357.4 913.0 1363.2 920.0 1365.1 925.0 1365.2 930.0 1359.8 945.0 1358.7 954.8 1356.7 957.7 1351.2 963.0 1337.7 972.3 1321.7 979.3 1309.7 982.4 1298.7 983.4 1240.7 986.0ZM1593.7 942.9 1589.7 940.7 1583.7 940.0 1578.7 938.3 1576.7 937.0 1575.6 934.0 1576.7 929.9 1581.6 922.0 1588.7 916.8 1593.7 911.8 1593.7 942.9Z"/>
<path fill="#d8ff00" fill-rule="evenodd" d="M1245.7 984.4 1234.7 984.6 1170.7 982.3 1121.7 977.3 1093.7 973.3 1085.7 971.6 1081.7 970.1 1076.2 967.0 1071.7 963.4 1053.8 957.0 1048.4 954.0 1042.8 950.0 1043.7 949.3 1047.7 951.9 1053.7 954.9 1055.7 955.0 1058.7 956.8 1060.7 956.9 1061.7 957.8 1064.7 957.9 1065.7 958.8 1071.7 958.8 1072.7 959.8 1084.7 959.3 1085.7 958.3 1090.7 958.3 1091.7 957.3 1094.7 957.3 1095.7 956.4 1097.7 956.4 1098.7 955.5 1103.7 954.9 1172.7 960.3 1222.1 962.0 1240.7 962.2 1245.7 960.7 1249.7 960.3 1287.7 959.1 1292.2 955.0 1294.1 952.0 1294.2 947.0 1291.7 944.5 1278.0 938.0 1275.7 935.9 1274.3 933.0 1274.3 927.0 1277.1 916.0 1278.3 907.0 1279.4 904.0 1282.7 900.6 1288.7 898.5 1294.7 897.6 1309.7 897.5 1315.7 898.6 1330.7 903.6 1341.7 908.5 1348.7 913.7 1353.8 920.0 1356.0 926.0 1356.1 930.0 1354.1 939.0 1351.2 947.0 1345.0 958.0 1340.7 962.2 1335.0 966.0 1333.1 971.0 1329.7 974.2 1314.7 978.2 1295.7 981.3 1251.7 982.6 1245.7 984.4ZM1042.7 949.7 1041.7 948.8 1043.1 949.0 1042.7 949.7Z"/>
<path fill="#ffff00" fill-rule="evenodd" d="M1248.7 983.2 1242.7 983.9 1230.7 983.9 1176.7 982.2 1150.7 980.0 1115.7 976.1 1085.2 971.0 1076.0 966.0 1073.2 963.0 1072.6 961.0 1072.8 960.0 1084.7 959.4 1085.7 958.4 1090.7 958.4 1091.7 957.4 1094.7 957.4 1095.7 956.5 1101.7 955.3 1171.7 960.7 1223.7 962.5 1240.7 962.6 1244.7 961.4 1249.7 960.7 1296.7 959.3 1305.3 953.0 1307.2 951.0 1307.2 949.0 1305.7 946.9 1302.7 944.7 1288.7 937.5 1285.4 934.0 1283.3 930.0 1283.4 922.0 1287.2 914.0 1288.4 910.0 1291.7 906.5 1299.7 903.5 1305.7 902.7 1313.7 903.7 1322.7 907.5 1330.7 912.6 1340.1 922.0 1343.1 927.0 1344.9 933.0 1345.0 942.0 1343.0 948.0 1341.2 951.0 1338.2 955.0 1331.6 961.0 1332.9 964.0 1333.0 967.0 1331.9 970.0 1329.7 972.3 1318.8 976.0 1298.7 980.0 1284.7 981.2 1251.7 982.0 1248.7 983.2ZM1071.7 960.1 1069.6 960.0 1072.2 960.0 1071.7 960.1Z"/>
<path fill="#ffff00" fill-rule="evenodd" d="M1246.7 983.1 1223.7 983.3 1176.7 981.8 1118.1 976.0 1104.7 974.2 1085.7 970.6 1077.4 966.0 1074.8 963.0 1074.4 961.0 1074.7 960.0 1084.7 959.5 1085.7 958.5 1090.7 958.5 1091.7 957.6 1094.7 957.5 1095.7 956.7 1097.7 956.7 1098.7 955.9 1101.7 955.8 1172.7 961.2 1223.7 962.9 1240.7 963.1 1244.7 961.8 1249.7 961.2 1287.7 960.6 1306.7 959.6 1307.7 958.9 1312.0 952.0 1311.7 947.1 1308.0 943.0 1294.1 931.0 1294.1 926.0 1300.2 916.0 1303.7 912.5 1305.7 911.4 1310.7 911.4 1312.7 912.3 1315.7 914.4 1319.3 918.0 1326.0 929.0 1330.2 940.0 1330.1 949.0 1327.3 955.0 1324.3 959.0 1328.7 960.8 1330.7 963.5 1331.0 967.0 1328.7 970.7 1317.2 975.0 1297.7 979.3 1284.7 980.5 1251.7 981.5 1246.7 983.1Z"/>
<path fill="#ffc800" fill-rule="evenodd" d="M1240.7 983.0 1203.7 982.3 1172.3 981.0 1149.6 979.0 1105.7 973.9 1084.7 969.6 1077.6 965.0 1076.3 963.0 1076.1 961.0 1076.6 960.0 1084.7 959.6 1085.7 958.6 1090.7 958.6 1091.7 957.7 1094.7 957.7 1095.7 956.8 1099.7 956.2 1107.7 956.3 1171.7 961.6 1217.7 963.3 1240.7 963.6 1249.7 961.7 1306.7 960.9 1312.2 953.0 1313.2 949.0 1312.4 947.0 1309.7 944.0 1295.6 932.0 1294.4 930.0 1294.5 927.0 1299.7 917.7 1302.8 914.0 1305.8 912.0 1309.7 911.8 1312.7 913.0 1317.8 917.0 1320.9 921.0 1324.9 928.0 1328.7 937.0 1329.8 941.0 1329.9 947.0 1328.8 951.0 1325.9 956.0 1321.3 961.0 1326.7 963.0 1327.7 963.9 1328.2 966.0 1327.4 968.0 1322.9 971.0 1318.1 973.0 1297.7 978.3 1281.7 979.9 1251.7 981.0 1247.7 982.4 1240.7 983.0Z"/>
<path fill="#ffa000" fill-rule="evenodd" d="M1316.7 934.5 1315.7 934.5 1314.4 933.0 1314.2 932.0 1311.2 928.0 1311.2 927.0 1309.3 924.0 1309.7 921.5 1312.7 921.5 1316.1 925.0 1317.2 928.0 1318.2 929.0 1318.0 933.0 1316.7 934.5ZM1246.7 982.1 1223.7 982.3 1176.7 980.8 1117.7 975.0 1105.7 973.5 1085.7 969.4 1080.0 966.0 1078.2 964.0 1077.6 962.0 1078.5 960.0 1084.7 959.7 1085.7 958.7 1090.7 958.7 1091.7 957.8 1094.7 957.8 1095.7 956.9 1106.7 956.7 1164.7 961.6 1204.7 963.4 1239.7 964.1 1241.7 964.0 1246.7 962.4 1252.7 962.1 1305.7 962.5 1317.7 963.7 1320.7 964.9 1321.5 966.0 1321.1 968.0 1316.9 971.0 1309.2 974.0 1298.5 977.0 1283.1 979.0 1251.7 980.5 1246.7 982.1Z"/>
<path fill="#ff7000" fill-rule="evenodd" d="M1248.7 981.1 1244.7 981.8 1234.7 982.0 1177.7 980.3 1121.6 975.0 1105.7 973.0 1086.6 969.0 1081.4 966.0 1079.7 964.0 1079.2 962.0 1080.5 960.0 1084.7 959.8 1085.7 958.9 1090.7 958.8 1091.7 957.9 1094.7 957.9 1095.7 957.3 1106.7 957.2 1165.7 962.2 1196.7 963.7 1241.7 964.6 1246.7 963.0 1255.7 962.6 1296.7 963.6 1308.3 965.0 1311.6 966.0 1312.9 967.0 1313.1 968.0 1311.6 970.0 1308.2 972.0 1295.7 976.3 1280.7 978.3 1251.7 980.0 1248.7 981.1Z"/>
<path fill="#ff4000" fill-rule="evenodd" d="M1246.7 981.0 1223.7 981.2 1177.7 979.7 1120.7 974.3 1105.7 972.5 1085.8 968.0 1081.9 965.0 1080.9 962.0 1082.6 960.0 1084.7 959.9 1085.7 959.0 1090.7 958.9 1091.7 958.0 1106.7 957.7 1162.7 962.6 1196.7 964.3 1239.7 965.2 1249.7 963.3 1279.8 964.0 1298.7 965.6 1303.1 967.0 1304.7 969.0 1303.5 971.0 1300.4 973.0 1292.7 975.5 1278.7 977.5 1250.7 979.5 1246.7 981.0Z"/>
<path fill="#ff1000" fill-rule="evenodd" d="M1247.7 980.2 1234.7 980.8 1189.7 979.7 1166.7 978.4 1141.4 976.0 1106.3 972.0 1096.5 970.0 1085.7 967.0 1083.5 965.0 1082.6 963.0 1083.5 961.0 1087.7 959.1 1106.7 958.3 1162.7 963.2 1189.7 964.6 1238.7 965.8 1241.7 965.7 1245.7 964.4 1249.7 963.9 1274.7 964.7 1293.7 967.0 1296.6 968.0 1297.8 969.0 1298.0 970.0 1296.3 972.0 1294.3 973.0 1284.7 975.5 1273.6 977.0 1250.7 978.9 1247.7 980.2Z"/>
<path fill="#ff0000" fill-rule="evenodd" d="M1244.7 980.0 1217.7 979.9 1177.7 978.5 1128.4 974.0 1105.7 971.3 1095.5 969.0 1086.3 966.0 1085.2 965.0 1084.4 963.0 1085.7 961.0 1087.7 960.2 1106.7 958.9 1160.7 963.7 1189.7 965.3 1239.7 966.4 1249.7 964.5 1262.7 965.0 1282.5 967.0 1286.0 968.0 1289.6 970.0 1289.4 971.0 1286.2 973.0 1280.7 974.7 1250.7 978.2 1244.7 980.0Z"/>
<path fill="none" stroke="#000" stroke-opacity="0.36" stroke-width="0.8" d="M1441.6 1015.1 1464.9 1011.5 1490.6 1010.3 1522.1 1011.4 1570.5 1015.1M1399.6 1015.1 1421.9 1006.8 1439.1 1002.0 1456.3 998.8 1473.5 997.5 1490.6 997.4 1513.5 998.7 1599.4 1007.0M1372.7 1015.1 1407.6 998.6 1424.8 991.5 1442.0 986.4 1459.2 983.8 1476.3 983.3 1496.4 984.5 1599.4 996.5M1350.2 1015.1 1370.4 1005.2 1424.8 976.2 1439.1 970.5 1450.6 968.0 1464.9 967.4 1482.1 968.8 1559.3 980.8 1599.4 986.0M1329.9 1015.1 1350.4 1005.9 1370.4 995.5 1387.6 985.4 1421.9 963.9 1433.4 957.5 1444.8 952.4 1453.4 950.1 1462.0 949.4 1467.7 950.0 1514.8 960.9 1539.3 966.0 1570.8 971.6 1599.4 975.6M903.8 1006.5 938.2 1010.3 970.7 1015.1M1309.7 1015.1 1336.1 1004.7 1361.8 991.6 1375.1 983.7 1390.5 973.5 1436.3 940.3 1447.7 934.2 1456.3 931.7 1462.0 931.4 1470.6 932.5 1505.0 944.8 1539.3 954.2 1570.8 960.8 1599.4 965.3M903.8 996.9 932.5 999.9 958.2 1003.6 984.0 1008.2 1017.9 1015.1M1287.5 1015.1 1307.4 1009.0 1327.5 1001.4 1346.7 992.2 1364.7 981.8 1382.8 969.4 1400.8 955.2 1413.7 943.7 1436.3 921.4 1442.0 916.4 1447.7 913.1 1453.4 911.5 1459.2 911.2 1467.7 913.0 1473.5 915.4 1493.5 925.9 1502.1 929.8 1516.0 935.2 1530.7 940.0 1567.9 949.5 1599.4 955.0M903.8 987.1 935.3 990.5 963.9 995.0 1059.2 1015.1M1259.9 1015.1 1290.3 1008.0 1316.0 999.6 1338.8 989.4 1358.5 978.0 1370.8 969.4 1381.7 960.9 1400.4 943.7 1412.9 929.5 1427.7 907.4 1433.4 900.7 1439.1 896.3 1442.0 894.8 1447.7 893.0 1456.3 893.0 1462.0 894.3 1467.7 896.4 1476.3 900.9 1502.1 916.1 1516.4 922.6 1530.7 927.9 1550.8 934.1 1573.7 940.2 1585.1 942.8 1599.4 944.9M903.8 977.2 932.5 980.2 961.1 984.7 986.8 990.1 1035.5 1002.2 1058.4 1007.2 1084.2 1011.7 1112.9 1015.1M1214.9 1015.1 1233.0 1013.2 1253.1 1010.3 1273.1 1006.4 1290.3 1002.1 1304.6 997.6 1318.9 992.3 1333.2 985.7 1344.7 979.4 1355.8 972.3 1367.3 963.7 1377.3 955.2 1386.2 946.6 1396.4 935.2 1402.7 926.6 1407.7 918.1 1416.2 900.8 1423.6 889.5 1430.5 882.7 1436.3 879.4 1442.0 877.7 1447.7 877.2 1453.4 877.7 1464.9 881.1 1473.5 885.5 1505.0 904.6 1519.3 911.5 1533.6 917.2 1550.8 922.9 1579.4 931.4 1588.0 933.3 1599.4 934.8M903.8 967.2 935.3 970.5 963.9 975.2 986.8 980.4 1035.5 994.1 1058.4 999.7 1084.2 1004.6 1112.8 1008.3 1132.8 1009.8 1152.9 1010.7 1192.9 1010.4 1230.2 1007.6 1247.3 1005.4 1264.5 1002.4 1293.1 995.5 1316.0 987.6 1327.5 982.4 1336.1 977.8 1347.5 970.7 1357.1 963.7 1367.1 955.2 1375.8 946.6 1383.4 938.0 1389.9 929.5 1396.7 918.1 1406.1 895.2 1410.2 886.7 1413.6 881.0 1418.0 875.3 1424.4 869.6 1429.5 866.7 1436.3 864.6 1442.0 864.0 1453.4 865.3 1459.2 866.9 1467.7 870.3 1473.5 873.3 1505.0 892.6 1519.3 899.7 1533.6 905.7 1553.6 912.7 1582.2 921.3 1590.8 923.3 1599.4 924.5M903.8 957.1 938.2 960.6 966.8 965.5 989.7 971.3 1032.6 985.1 1055.5 991.5 1084.2 997.5 1112.8 1001.6 1132.8 1003.3 1152.9 1004.3 1192.9 1004.3 1230.2 1001.9 1247.3 999.8 1264.5 996.9 1293.1 990.0 1316.0 981.9 1324.6 977.9 1334.8 972.3 1344.7 965.7 1354.4 958.0 1363.5 949.4 1371.2 940.9 1377.8 932.3 1383.3 923.8 1389.0 912.4 1399.9 881.0 1404.3 872.4 1408.1 866.7 1413.4 861.2 1419.1 857.3 1427.7 853.9 1436.3 852.8 1442.0 853.0 1450.6 854.3 1464.9 858.8 1473.5 862.9 1496.4 876.6 1510.7 884.4 1525.0 891.1 1539.3 896.9 1570.8 907.1 1588.0 911.7 1599.4 914.0M903.8 946.9 941.0 950.4 955.4 952.6 969.7 955.5 992.6 962.0 1035.5 977.8 1055.5 984.0 1084.2 990.6 1112.8 995.0 1132.8 996.9 1152.9 998.1 1192.9 998.4 1213.0 997.6 1233.0 996.0 1250.2 993.8 1267.4 990.8 1293.1 984.6 1304.6 980.9 1316.0 976.2 1324.6 971.9 1333.3 966.6 1341.8 960.5 1351.4 952.3 1359.6 943.7 1366.3 935.2 1371.9 926.6 1376.4 918.1 1381.0 906.7 1389.7 875.3 1393.3 866.7 1396.5 861.0 1400.9 855.3 1403.9 852.5 1410.5 847.9 1419.1 844.6 1427.7 843.1 1433.4 843.0 1442.0 843.7 1450.6 845.4 1459.2 847.9 1473.5 853.9 1510.7 873.9 1533.6 884.0 1547.9 889.4 1565.1 894.9 1582.2 899.6 1599.4 903.5M903.8 936.6 943.9 940.0 961.1 942.6 975.4 945.8 986.8 949.2 998.3 953.3 1029.8 967.2 1047.0 973.8 1069.9 980.4 1095.6 985.9 1124.2 989.8 1155.7 992.1 1187.2 992.7 1218.7 991.6 1238.7 989.9 1255.9 987.5 1276.0 983.7 1293.1 979.2 1304.9 975.1 1317.5 969.4 1327.5 963.5 1338.6 955.2 1347.8 946.6 1355.1 938.0 1361.0 929.5 1365.4 920.9 1369.9 909.5 1372.4 901.0 1378.9 869.6 1381.9 861.2 1384.8 855.3 1388.7 849.6 1394.5 843.9 1401.9 839.3 1410.5 836.1 1419.1 834.5 1430.5 834.3 1442.0 835.7 1453.4 838.5 1470.6 844.7 1513.5 865.3 1539.3 876.0 1567.9 885.4 1599.4 893.3M903.8 926.2 929.6 927.6 949.6 929.6 966.8 932.2 981.1 935.5 992.6 939.4 1001.2 943.1 1032.6 959.8 1047.0 966.1 1067.0 972.5 1095.6 979.3 1124.2 983.4 1158.6 986.1 1190.1 986.8 1224.4 985.7 1241.6 984.2 1258.8 981.7 1277.0 978.0 1290.3 974.2 1303.2 969.4 1314.9 963.7 1324.6 957.6 1334.8 949.4 1341.8 942.4 1347.6 935.2 1353.0 926.6 1356.8 918.1 1359.5 909.5 1362.1 898.1 1367.1 863.9 1369.7 855.3 1372.3 849.6 1375.9 843.9 1381.9 837.7 1389.8 832.5 1399.0 828.8 1410.5 826.5 1421.9 826.1 1436.3 827.4 1450.6 830.6 1473.5 838.4 1516.4 857.1 1542.2 867.1 1570.8 876.2 1599.4 883.2M903.8 915.7 932.5 916.8 955.4 918.6 972.5 920.9 986.8 924.2 995.4 927.2 1004.0 931.4 1012.6 936.8 1030.3 949.4 1038.4 954.3 1047.0 958.6 1061.3 963.8 1095.6 972.7 1121.4 976.8 1158.6 980.0 1190.1 980.9 1224.4 979.9 1241.6 978.5 1255.9 976.2 1273.1 972.4 1283.2 969.4 1297.8 963.7 1313.2 956.1 1321.8 950.5 1329.5 943.7 1336.1 936.3 1340.7 929.5 1344.7 921.5 1346.9 915.2 1349.0 903.8 1353.3 861.0 1355.0 852.5 1358.1 843.9 1363.5 835.3 1369.9 829.6 1379.0 824.7 1387.6 821.7 1401.9 818.9 1416.2 818.5 1430.5 819.7 1447.7 823.1 1462.0 827.1 1476.3 832.0 1522.1 850.2 1547.9 859.4 1573.7 867.1 1599.4 873.4M903.8 905.2 938.2 905.8 963.9 907.1 981.1 908.7 995.4 911.5 1004.0 914.8 1009.7 918.3 1015.5 923.2 1032.3 940.9 1038.4 945.6 1049.7 952.3 1061.3 957.1 1075.6 959.8 1103.3 966.6 1124.2 969.8 1158.6 972.8 1187.2 973.6 1215.8 972.8 1227.3 971.9 1244.5 969.7 1258.3 966.6 1304.6 949.2 1314.7 943.7 1321.5 938.0 1326.1 932.3 1329.4 926.6 1331.9 920.9 1333.4 915.2 1334.3 906.7 1333.2 889.5 1333.5 881.0 1337.7 843.9 1339.9 835.3 1344.1 829.6 1352.0 823.9 1361.8 819.3 1373.4 815.4 1390.5 812.0 1407.6 811.1 1424.8 812.3 1444.8 815.8 1459.2 819.3 1476.3 824.6 1527.9 843.3 1550.8 850.9 1573.7 857.5 1599.4 863.7M1296.0 891.7 1293.1 890.9 1287.4 890.5 1280.4 892.4 1276.0 894.8 1273.1 897.3 1270.4 901.0 1269.0 903.8 1267.4 912.4 1268.6 920.9 1271.6 926.6 1274.6 929.5 1278.8 931.8 1287.4 933.8 1293.1 933.7 1298.9 932.7 1304.6 930.0 1307.4 927.6 1310.3 924.2 1311.8 920.9 1313.0 915.2 1312.8 912.4 1310.3 903.8 1307.4 899.6 1304.6 896.7 1301.7 894.5 1296.0 891.7M903.8 894.6 986.8 894.0 1001.2 893.1 1009.7 891.6 1014.2 889.5 1017.4 886.7 1027.5 869.6 1032.1 863.9 1033.6 861.0 1039.0 855.3 1044.1 851.0 1047.0 850.0 1049.8 848.1 1052.7 847.2 1061.3 842.6 1072.7 841.4 1078.4 839.2 1081.3 839.5 1087.0 838.8 1113.4 829.6 1140.0 823.9 1159.5 821.1 1184.4 818.6 1227.3 816.9 1250.2 817.7 1290.3 823.0 1304.6 823.4 1313.2 822.3 1321.8 820.2 1346.1 812.5 1361.8 808.3 1376.1 805.7 1390.5 804.3 1404.8 804.2 1421.9 805.6 1439.1 808.1 1456.3 811.8 1482.1 819.0 1550.8 841.7 1573.7 848.0 1599.4 854.1M903.8 884.0 941.0 882.8 963.9 881.5 981.1 879.6 992.6 877.2 1001.2 874.1 1006.9 871.1 1015.5 864.9 1033.3 849.6 1041.2 844.4 1049.8 840.0 1061.3 835.4 1086.8 826.8 1101.3 823.0 1121.4 818.9 1164.3 812.6 1204.4 809.4 1235.9 808.4 1284.5 809.9 1304.6 809.2 1318.9 807.4 1359.0 799.7 1379.0 797.6 1396.2 797.3 1416.2 798.6 1433.4 800.7 1453.4 804.3 1482.1 811.6 1556.5 834.3 1599.4 844.7M903.8 873.5 932.5 872.0 955.4 870.1 972.5 867.7 986.8 864.4 995.4 861.5 1004.0 857.7 1035.5 838.7 1044.1 834.5 1055.5 829.7 1087.0 819.2 1104.2 815.0 1124.2 811.0 1158.6 805.8 1190.1 802.4 1230.2 800.1 1278.8 799.5 1296.0 798.8 1313.2 797.2 1348.1 792.6 1367.6 790.9 1387.6 790.7 1410.5 791.7 1430.5 793.8 1450.6 797.0 1482.1 804.2 1559.3 826.1 1599.4 835.5M903.8 863.0 929.6 861.2 949.6 859.1 966.8 856.5 981.1 853.2 998.3 847.4 1038.4 828.3 1061.3 819.6 1078.4 814.1 1092.8 810.3 1130.0 802.5 1164.3 797.3 1201.5 793.4 1233.0 791.4 1293.1 789.0 1350.4 784.5 1376.1 784.0 1401.9 784.7 1424.8 786.5 1447.7 789.7 1479.2 796.2 1556.5 816.6 1599.4 826.3M903.8 852.5 943.9 848.7 961.1 846.0 975.4 842.9 995.4 836.8 1038.4 819.5 1064.1 810.5 1095.6 801.9 1132.8 794.4 1170.0 788.8 1210.1 784.6 1241.6 782.4 1326.2 778.3M1405.3 778.3 1436.3 781.3 1467.7 786.5 1494.7 792.6 1562.2 809.3 1599.4 817.3M903.8 842.2 943.9 837.8 961.1 834.9 975.4 831.7 998.3 825.0 1035.5 811.6 1055.5 804.9 1078.4 798.4 1101.3 792.8 1144.3 784.7 1192.4 778.3M1461.3 778.3 1490.1 784.0 1559.3 800.0 1599.4 808.4M903.8 832.0 938.2 828.1 969.7 822.3 992.6 816.4 1044.1 800.0 1070.0 792.6 1101.3 785.0 1136.6 778.3M1498.5 778.3 1562.2 792.2 1599.4 799.5M903.8 821.9 941.0 817.3 972.5 811.4 995.4 805.6 1058.4 787.4 1096.5 778.3M1535.7 778.3 1599.4 790.8M903.8 811.8 938.2 807.6 969.7 801.9 995.4 795.9 1062.1 778.3M1578.1 778.3 1599.4 782.1M903.8 801.9 932.5 798.5 961.1 793.8 989.7 787.8 1028.4 778.3M903.8 792.1 946.8 786.5 990.1 778.3M903.8 782.4 937.1 778.3"/>
<circle cx="1078.5" cy="898.1" r="61.3" fill="#fff"/>
<circle cx="1078.5" cy="898.1" r="57.2" fill="#c8c8c8" stroke="#111" stroke-width="1.6"/>
</g>
<rect x="906.7" y="784.0" width="687.0" height="228.2" fill="none" stroke="#444" stroke-width="1.1"/>
<path d="M935.3 1012.2V1005.7M964.0 1012.2V998.2M992.6 1012.2V1005.7M1021.2 1012.2V1005.7M1049.8 1012.2V1005.7M1078.5 1012.2V998.2M1107.1 1012.2V1005.7M1135.7 1012.2V1005.7M1164.3 1012.2V1005.7M1193.0 1012.2V998.2M1221.6 1012.2V1005.7M1250.2 1012.2V1005.7M1278.8 1012.2V1005.7M1307.5 1012.2V998.2M1336.1 1012.2V1005.7M1364.7 1012.2V1005.7M1393.3 1012.2V1005.7M1422.0 1012.2V998.2M1450.6 1012.2V1005.7M1479.2 1012.2V1005.7M1507.8 1012.2V1005.7M1536.5 1012.2V998.2M1565.1 1012.2V1005.7M906.7 983.7H912.7M906.7 955.2H912.7M906.7 926.6H912.7M906.7 898.1H920.7M906.7 869.6H912.7M906.7 841.0H912.7M906.7 812.5H912.7" stroke="#222" stroke-width="1.3" fill="none"/>
<text x="964.0" y="1043.7" font-size="36" text-anchor="middle">−1</text>
<text x="1078.5" y="1043.7" font-size="36" text-anchor="middle">0</text>
<text x="1193.0" y="1043.7" font-size="36" text-anchor="middle">1</text>
<text x="1307.5" y="1043.7" font-size="36" text-anchor="middle">2</text>
<text x="1422.0" y="1043.7" font-size="36" text-anchor="middle">3</text>
<text x="1536.5" y="1043.7" font-size="36" text-anchor="middle">4</text>
<text x="899.2" y="793.7" font-size="36" text-anchor="end">1</text>
<text x="899.2" y="906.7" font-size="36" text-anchor="end">0</text>
<text x="899.2" y="1021.3" font-size="36" text-anchor="end">−1</text>
<text x="818.2" y="755.7" font-size="42">(<tspan font-style="italic">f</tspan>)</text>
<text x="883.3" y="755.7" font-size="42" font-style="italic">t/τ</text>
<text x="923.4" y="768.7" font-size="34" font-style="italic">s</text>
<text x="946.0" y="755.7" font-size="42">=</text>
<text x="980.7" y="755.7" font-size="42" letter-spacing="-1.4">1.0125</text>
<text x="448" y="1076.5" font-size="40" font-style="italic" text-anchor="middle">x/D</text>
<text x="1252.5" y="1076.5" font-size="40" font-style="italic" text-anchor="middle">x/D</text>
<rect x="259.20" y="1097.3" width="49.23" height="22.7" fill="#00008c"/>
<rect x="308.13" y="1097.3" width="49.23" height="22.7" fill="#0000c8"/>
<rect x="357.06" y="1097.3" width="49.23" height="22.7" fill="#0000ff"/>
<rect x="405.99" y="1097.3" width="49.23" height="22.7" fill="#0000ff"/>
<rect x="454.92" y="1097.3" width="49.23" height="22.7" fill="#0020ff"/>
<rect x="503.85" y="1097.3" width="49.23" height="22.7" fill="#0060ff"/>
<rect x="552.77" y="1097.3" width="49.23" height="22.7" fill="#0090ff"/>
<rect x="601.70" y="1097.3" width="49.23" height="22.7" fill="#00bfff"/>
<rect x="650.63" y="1097.3" width="49.23" height="22.7" fill="#00e8ff"/>
<rect x="699.56" y="1097.3" width="49.23" height="22.7" fill="#00ffff"/>
<rect x="944.21" y="1097.3" width="49.23" height="22.7" fill="#80ff00"/>
<rect x="993.14" y="1097.3" width="49.23" height="22.7" fill="#d8ff00"/>
<rect x="1042.07" y="1097.3" width="49.23" height="22.7" fill="#ffff00"/>
<rect x="1091.00" y="1097.3" width="49.23" height="22.7" fill="#ffff00"/>
<rect x="1139.92" y="1097.3" width="49.23" height="22.7" fill="#ffc800"/>
<rect x="1188.85" y="1097.3" width="49.23" height="22.7" fill="#ffa000"/>
<rect x="1237.78" y="1097.3" width="49.23" height="22.7" fill="#ff7000"/>
<rect x="1286.71" y="1097.3" width="49.23" height="22.7" fill="#ff4000"/>
<rect x="1335.64" y="1097.3" width="49.23" height="22.7" fill="#ff1000"/>
<rect x="1384.57" y="1097.3" width="49.23" height="22.7" fill="#ff0000"/>
<rect x="259.2" y="1097.3" width="1174.3" height="22.7" fill="none" stroke="#666" stroke-width="1"/>
<path d="M454.9 1120.0V1114.0M650.6 1120.0V1114.0M846.3 1120.0V1114.0M1042.1 1120.0V1114.0M1237.8 1120.0V1114.0" stroke="#333" stroke-width="1"/>
<text x="259.2" y="1160" font-size="33" text-anchor="middle">−7.5</text>
<text x="454.9" y="1160" font-size="33" text-anchor="middle">−5.0</text>
<text x="650.6" y="1160" font-size="33" text-anchor="middle">−2.5</text>
<text x="846.3" y="1160" font-size="33" text-anchor="middle">0</text>
<text x="1042.1" y="1160" font-size="33" text-anchor="middle">2.5</text>
<text x="1237.8" y="1160" font-size="33" text-anchor="middle">5.0</text>
<text x="1433.5" y="1160" font-size="33" text-anchor="middle">7.5</text>
<text x="797" y="1213" font-size="40" font-style="italic">ζ</text>
<text x="816.0" y="1213" font-size="40" font-style="italic">D</text>
<text x="843.5" y="1213" font-size="40" font-style="italic">/</text>
<text x="856.0" y="1213" font-size="40" font-style="italic">U</text>
<text x="883.5" y="1225.0" font-size="25.0">∞</text>
<path d="M803.5 1182.8L809.3 1176.6L815.1 1182.8" fill="none" stroke="#000" stroke-width="1.5"/>
</svg></body></html>
